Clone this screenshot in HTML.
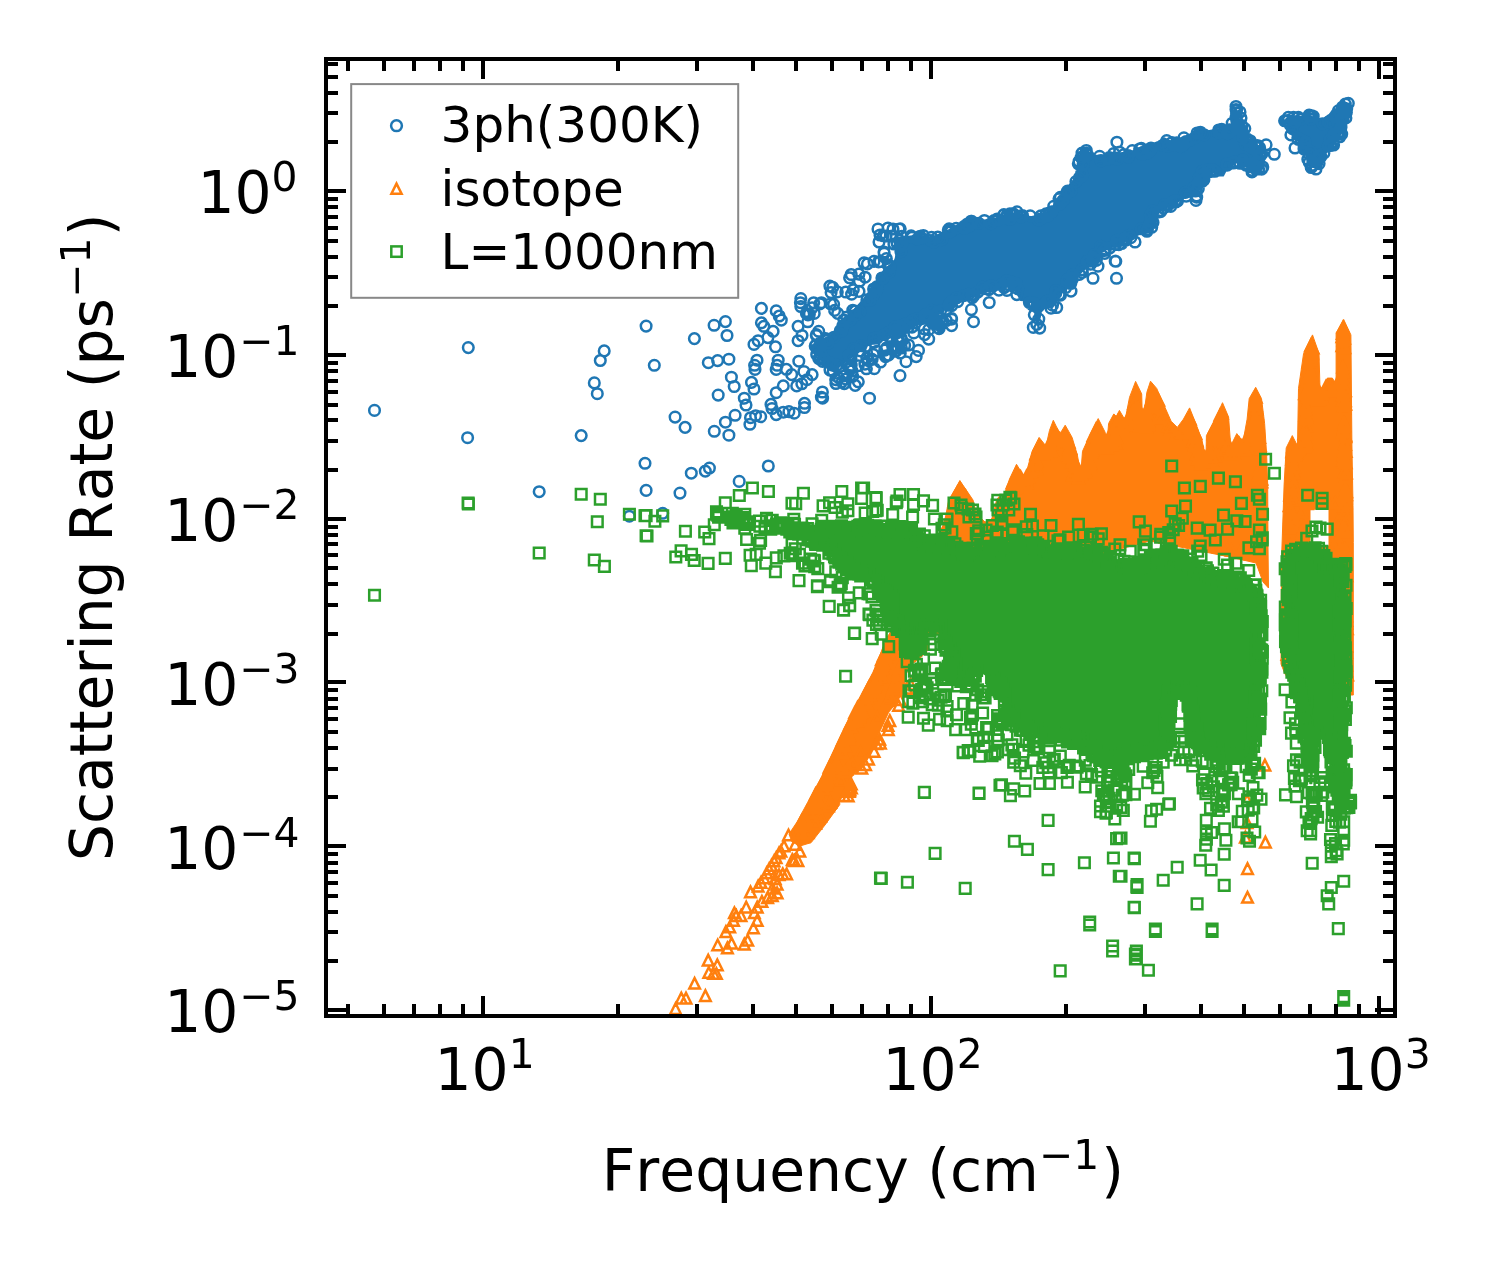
<!DOCTYPE html>
<html><head><meta charset="utf-8"><title>Scattering Rate</title>
<style>
html,body{margin:0;padding:0;background:#fff;}
svg{display:block;will-change:transform;}
text{font-family:"DejaVu Sans","Liberation Sans",sans-serif;fill:#000;font-kerning:none;font-feature-settings:"kern" 0,"liga" 0;}
.t{font-size:58.33px;}
.s{font-size:40.83px;}
.l{font-size:50px;}
</style></head><body>
<svg width="1488" height="1265" viewBox="0 0 1488 1265">
<rect width="1488" height="1265" fill="#fff"/>
<clipPath id="ax"><rect x="326" y="59" width="1069" height="957"/></clipPath>
<g clip-path="url(#ax)">
<path d="M1285.3,120.5L1288.4,127.6L1291.4,134.5L1294.7,137L1295.2,137.4L1295.8,137.9L1296.2,138.5L1299.4,142.7L1299.7,143.3L1300.1,143.8L1300.3,144.5L1300.6,145.1L1300.7,145.7L1301.5,149.6L1304.6,152.7L1305.1,153.3L1305.5,153.8L1305.8,154.4L1306.2,155.1L1306.4,155.8L1306.6,156.5L1306.7,157.2L1307.5,164.7L1309.5,166.2L1312.9,167.1L1313.5,167.2L1314.1,167.5L1314.7,167.8L1317.7,169.4L1319.2,168.9L1322.1,165.3L1324,156.5L1324.2,155.9L1324.5,155.2L1324.8,154.6L1325.1,154L1325.6,153.4L1326,152.9L1326.5,152.4L1332.4,147.5L1336.5,140.1L1336.8,139.6L1341.1,133.3L1343.3,125.9L1343.3,125.8L1346.7,114.3L1348.2,106.3L1347.4,103.6L1346.2,103L1342.4,105.7L1335.5,111L1334.6,111.6L1327.9,115.4L1324.5,118L1323.8,118.5L1323.2,118.8L1322.5,119.1L1321.7,119.4L1321,119.5L1320.2,119.6L1319.4,119.6L1318.7,119.5L1317.9,119.3L1317.2,119.1L1316.5,118.8L1310.5,115.8L1306.9,114L1301.5,116.3L1300.8,116.5L1300.1,116.7L1299.3,116.8L1298.5,116.9L1297.8,116.8L1297,116.7L1291.4,115.5L1286.4,118.4ZM813.1,348.3L819.4,358.6L829.3,369.4L834,371.5L841.5,364.9L842,364.5L866,346.7L866.7,346.2L867.3,345.9L895,333L895.5,332.8L919.3,324L936.3,314.2L936.6,314.1L953.9,305.1L954.2,304.9L971.5,297L972.4,296.7L979.5,294.4L989,290.9L989.7,290.7L990.3,290.5L991,290.4L997,289.9L1004.7,286.6L1005.4,286.4L1006.1,286.2L1006.8,286.1L1007.6,286L1008.3,286L1009,286.1L1009.7,286.3L1010.4,286.5L1011.1,286.8L1011.7,287.1L1012.3,287.5L1012.8,288L1013.4,288.5L1013.8,289.1L1017,293.4L1017.3,293.9L1017.6,294.4L1020.5,300.2L1027.6,301.1L1028.3,301.2L1029,301.4L1029.7,301.7L1030.3,302.1L1031,302.5L1031.5,302.9L1032.1,303.4L1032.6,304L1033,304.6L1033.3,305.3L1033.6,305.9L1033.9,306.6L1034,307.4L1035.8,318.5L1037.3,325L1039.9,318.1L1040.9,312.6L1041,311.9L1041.3,311.2L1041.6,310.6L1041.9,309.9L1042.3,309.3L1042.8,308.8L1043.3,308.3L1043.9,307.8L1044.5,307.4L1045.2,307.1L1045.9,306.8L1046.6,306.6L1047.3,306.5L1048,306.4L1048.7,306.4L1049.5,306.5L1050.2,306.6L1050.9,306.8L1051.6,307.1L1051.8,307.2L1052.9,307L1057.2,297.7L1057.5,297.1L1057.9,296.5L1058.3,296L1058.7,295.5L1066.9,287.4L1073.7,279.2L1074.5,278.4L1083.7,270.2L1083.8,270.1L1095.5,260L1101.8,252.1L1102.4,251.5L1103,251L1103.6,250.5L1104.3,250.1L1105,249.8L1118.2,244.8L1131.8,238L1138.5,234.7L1139.2,234.4L1140,234.1L1140.7,234L1148.8,232.7L1154.9,225.3L1154.9,219.7L1154.9,218.9L1155,218.2L1155.2,217.4L1155.5,216.7L1155.8,216L1156.2,215.4L1156.7,214.8L1157.2,214.2L1157.8,213.7L1163.8,209.1L1164.4,208.7L1165,208.3L1175.1,203.3L1183.3,198.5L1184,198.1L1184.7,197.8L1185.5,197.6L1186.2,197.4L1196.4,196.2L1200.4,185.6L1200.7,184.8L1204.8,176.4L1205.2,175.8L1205.6,175.2L1206.1,174.6L1206.6,174.1L1207.2,173.6L1207.9,173.2L1208.5,172.9L1209.2,172.6L1209.9,172.4L1210.7,172.3L1211.4,172.2L1212.1,172.2L1212.9,172.3L1213.6,172.5L1214.3,172.7L1215,173L1215.6,173.4L1219.4,175.8L1223.2,175.8L1226.6,169.5L1227,168.9L1227.4,168.2L1228,167.7L1228.6,167.2L1229.2,166.7L1234.4,163.5L1235.1,163.1L1235.7,162.8L1236.4,162.6L1237.2,162.4L1237.9,162.3L1238.6,162.3L1239.3,162.4L1240.1,162.5L1240.8,162.7L1241.5,163L1242.1,163.3L1242.7,163.7L1243.3,164.1L1249.2,169.1L1249.6,169.5L1254.9,174.8L1261.7,169.9L1263.4,165.2L1262.6,153.8L1258.4,147L1254.5,141.8L1250.8,140.9L1250.1,140.7L1249.4,140.4L1248.7,140L1248.1,139.6L1247.5,139.1L1246.9,138.6L1246.5,137.9L1246.1,137.3L1245.7,136.6L1245.4,135.9L1245.3,135.1L1245.1,134.4L1243.9,122.1L1242.8,121.8L1242.1,121.6L1241.4,121.3L1240.8,120.9L1240.1,120.4L1239.6,120L1239.1,119.4L1238.6,118.8L1238.2,118.2L1237.9,117.5L1237.6,116.8L1237.5,116.1L1237.3,115.3L1236.8,110.4L1236,109.8L1235,110.5L1233.1,123.5L1233,124.2L1232.8,124.9L1232.5,125.6L1232.1,126.2L1231.7,126.8L1231.3,127.4L1230.8,127.9L1230.2,128.4L1229.6,128.8L1228.9,129.2L1228.3,129.4L1227.6,129.7L1226.9,129.8L1226.1,129.9L1225.4,129.9L1224.7,129.9L1223.9,129.7L1219.5,128.7L1209.3,130.8L1208.6,131L1207.9,131L1207.2,131L1206.5,130.9L1205.8,130.7L1205.1,130.5L1204.5,130.2L1203.8,129.9L1203.2,129.5L1199.8,126.9L1195.4,129.2L1191.3,134.6L1190.7,135.2L1190.2,135.8L1189.6,136.3L1188.9,136.7L1188.2,137L1177.3,141.6L1176.6,141.9L1175.9,142.1L1175.2,142.2L1174.5,142.2L1173.8,142.2L1173.1,142.1L1172.3,142L1171.7,141.7L1171,141.5L1164.1,138L1158.2,141.6L1157.3,142L1143.7,148L1143.1,148.2L1142.5,148.4L1128.9,151.9L1128,152L1117.1,153.5L1109.8,155.3L1109.2,155.4L1108.6,155.5L1107.9,155.6L1096.7,155.6L1096,155.5L1095.3,155.4L1094.6,155.3L1093.9,155L1093.3,154.7L1092.7,154.4L1087.5,151.2L1082.1,151.2L1078.9,157.7L1077.3,173.4L1077.2,174.1L1077,174.8L1076.7,175.5L1076.4,176.2L1076,176.8L1075.6,177.4L1067.4,187.3L1057.1,201.1L1056.9,201.3L1050.2,209.7L1049.7,210.2L1049.2,210.7L1048.7,211.1L1048.1,211.5L1046.4,212.4L1045.9,212.7L1045.3,213L1044.7,213.2L1033.3,216.5L1032.6,216.6L1031.9,216.7L1031.1,216.8L1030.4,216.7L1029.7,216.6L1029,216.4L1016.8,212.7L1006.5,214.1L993.4,219L992.8,219.2L992.2,219.4L991.5,219.4L983.5,220.3L982.7,220.3L981.9,220.3L981.2,220.2L974.3,218.7L958.8,224.2L947.2,230.9L946.4,231.2L933.2,237L932.5,237.3L931.7,237.5L931,237.6L930.2,237.7L929.4,237.6L928.6,237.5L918,235.2L908.6,236.5L908.3,236.5L900.6,237.2L898.3,241.7L895.6,257.6L895.4,258.4L895.2,259.1L894.9,259.7L894.5,260.4L894.1,261L893.6,261.6L893.1,262.1L884.2,269.7L877.6,279.6L877.5,279.7L865.5,297L864.9,297.7L849.3,315L849.3,315.1L830.3,335.5L829.8,336L829.2,336.5L828.6,336.9L827.9,337.2L814.9,343.1Z" fill="#1f77b4" stroke="#1f77b4" stroke-width="1.5" stroke-linejoin="round"/>
<path d="M1331.2,114.5a5.3,5.3 0 1,0 10.6,0a5.3,5.3 0 1,0 -10.6,0M1198.6,179.8a5.3,5.3 0 1,0 10.6,0a5.3,5.3 0 1,0 -10.6,0M1333.3,133.8a5.3,5.3 0 1,0 10.6,0a5.3,5.3 0 1,0 -10.6,0M1031.3,306.9a5.3,5.3 0 1,0 10.6,0a5.3,5.3 0 1,0 -10.6,0M1061.4,281.7a5.3,5.3 0 1,0 10.6,0a5.3,5.3 0 1,0 -10.6,0M820.4,338.6a5.3,5.3 0 1,0 10.6,0a5.3,5.3 0 1,0 -10.6,0M1252,145.6a5.3,5.3 0 1,0 10.6,0a5.3,5.3 0 1,0 -10.6,0M819.1,359.4a5.3,5.3 0 1,0 10.6,0a5.3,5.3 0 1,0 -10.6,0M928.5,242a5.3,5.3 0 1,0 10.6,0a5.3,5.3 0 1,0 -10.6,0M1161.4,140.6a5.3,5.3 0 1,0 10.6,0a5.3,5.3 0 1,0 -10.6,0M1246.7,171.9a5.3,5.3 0 1,0 10.6,0a5.3,5.3 0 1,0 -10.6,0M845.6,356a5.3,5.3 0 1,0 10.6,0a5.3,5.3 0 1,0 -10.6,0M964.1,226.3a5.3,5.3 0 1,0 10.6,0a5.3,5.3 0 1,0 -10.6,0M914.7,238.5a5.3,5.3 0 1,0 10.6,0a5.3,5.3 0 1,0 -10.6,0M1202.5,170.1a5.3,5.3 0 1,0 10.6,0a5.3,5.3 0 1,0 -10.6,0M1000.5,217.8a5.3,5.3 0 1,0 10.6,0a5.3,5.3 0 1,0 -10.6,0M1081.2,153.3a5.3,5.3 0 1,0 10.6,0a5.3,5.3 0 1,0 -10.6,0M1060.4,194.9a5.3,5.3 0 1,0 10.6,0a5.3,5.3 0 1,0 -10.6,0M1073.7,161.4a5.3,5.3 0 1,0 10.6,0a5.3,5.3 0 1,0 -10.6,0M1077.1,272.4a5.3,5.3 0 1,0 10.6,0a5.3,5.3 0 1,0 -10.6,0M1088.4,259.7a5.3,5.3 0 1,0 10.6,0a5.3,5.3 0 1,0 -10.6,0M1077.9,157.4a5.3,5.3 0 1,0 10.6,0a5.3,5.3 0 1,0 -10.6,0M1247.2,164.4a5.3,5.3 0 1,0 10.6,0a5.3,5.3 0 1,0 -10.6,0M1163.7,204.4a5.3,5.3 0 1,0 10.6,0a5.3,5.3 0 1,0 -10.6,0M1305.3,151.4a5.3,5.3 0 1,0 10.6,0a5.3,5.3 0 1,0 -10.6,0M1226.9,123.2a5.3,5.3 0 1,0 10.6,0a5.3,5.3 0 1,0 -10.6,0M998.6,214.6a5.3,5.3 0 1,0 10.6,0a5.3,5.3 0 1,0 -10.6,0M809.9,346a5.3,5.3 0 1,0 10.6,0a5.3,5.3 0 1,0 -10.6,0M1249.7,145.3a5.3,5.3 0 1,0 10.6,0a5.3,5.3 0 1,0 -10.6,0M1228.9,162a5.3,5.3 0 1,0 10.6,0a5.3,5.3 0 1,0 -10.6,0M1252.2,151.4a5.3,5.3 0 1,0 10.6,0a5.3,5.3 0 1,0 -10.6,0M1298.8,146.6a5.3,5.3 0 1,0 10.6,0a5.3,5.3 0 1,0 -10.6,0M1244.9,140.7a5.3,5.3 0 1,0 10.6,0a5.3,5.3 0 1,0 -10.6,0M1247.1,170.5a5.3,5.3 0 1,0 10.6,0a5.3,5.3 0 1,0 -10.6,0M1123.2,157.1a5.3,5.3 0 1,0 10.6,0a5.3,5.3 0 1,0 -10.6,0M1141.9,230.5a5.3,5.3 0 1,0 10.6,0a5.3,5.3 0 1,0 -10.6,0M848.5,348.5a5.3,5.3 0 1,0 10.6,0a5.3,5.3 0 1,0 -10.6,0M958.5,295.7a5.3,5.3 0 1,0 10.6,0a5.3,5.3 0 1,0 -10.6,0M1095.7,160.5a5.3,5.3 0 1,0 10.6,0a5.3,5.3 0 1,0 -10.6,0M1247.1,148a5.3,5.3 0 1,0 10.6,0a5.3,5.3 0 1,0 -10.6,0M905.8,235.8a5.3,5.3 0 1,0 10.6,0a5.3,5.3 0 1,0 -10.6,0M850.1,315.2a5.3,5.3 0 1,0 10.6,0a5.3,5.3 0 1,0 -10.6,0M1285.1,125.2a5.3,5.3 0 1,0 10.6,0a5.3,5.3 0 1,0 -10.6,0M890.1,330.2a5.3,5.3 0 1,0 10.6,0a5.3,5.3 0 1,0 -10.6,0M1146.4,227.3a5.3,5.3 0 1,0 10.6,0a5.3,5.3 0 1,0 -10.6,0M882.9,265.3a5.3,5.3 0 1,0 10.6,0a5.3,5.3 0 1,0 -10.6,0M1024.1,302.5a5.3,5.3 0 1,0 10.6,0a5.3,5.3 0 1,0 -10.6,0M924.3,318.9a5.3,5.3 0 1,0 10.6,0a5.3,5.3 0 1,0 -10.6,0M837.4,326a5.3,5.3 0 1,0 10.6,0a5.3,5.3 0 1,0 -10.6,0M932.2,312.1a5.3,5.3 0 1,0 10.6,0a5.3,5.3 0 1,0 -10.6,0M1008.1,215.3a5.3,5.3 0 1,0 10.6,0a5.3,5.3 0 1,0 -10.6,0M1322.8,122.3a5.3,5.3 0 1,0 10.6,0a5.3,5.3 0 1,0 -10.6,0M1077.3,175.4a5.3,5.3 0 1,0 10.6,0a5.3,5.3 0 1,0 -10.6,0M1216.4,129.3a5.3,5.3 0 1,0 10.6,0a5.3,5.3 0 1,0 -10.6,0M1145,215a5.3,5.3 0 1,0 10.6,0a5.3,5.3 0 1,0 -10.6,0M1009.1,287.3a5.3,5.3 0 1,0 10.6,0a5.3,5.3 0 1,0 -10.6,0M1307.3,165.2a5.3,5.3 0 1,0 10.6,0a5.3,5.3 0 1,0 -10.6,0M943.5,305.3a5.3,5.3 0 1,0 10.6,0a5.3,5.3 0 1,0 -10.6,0M1221.5,164.9a5.3,5.3 0 1,0 10.6,0a5.3,5.3 0 1,0 -10.6,0M824.7,370.1a5.3,5.3 0 1,0 10.6,0a5.3,5.3 0 1,0 -10.6,0M1295.5,119.2a5.3,5.3 0 1,0 10.6,0a5.3,5.3 0 1,0 -10.6,0M1288.2,117.4a5.3,5.3 0 1,0 10.6,0a5.3,5.3 0 1,0 -10.6,0M1197,181.3a5.3,5.3 0 1,0 10.6,0a5.3,5.3 0 1,0 -10.6,0M906.7,327.1a5.3,5.3 0 1,0 10.6,0a5.3,5.3 0 1,0 -10.6,0M1116.4,243.5a5.3,5.3 0 1,0 10.6,0a5.3,5.3 0 1,0 -10.6,0M1015.5,215.7a5.3,5.3 0 1,0 10.6,0a5.3,5.3 0 1,0 -10.6,0M950.9,228.2a5.3,5.3 0 1,0 10.6,0a5.3,5.3 0 1,0 -10.6,0M1135.9,228.8a5.3,5.3 0 1,0 10.6,0a5.3,5.3 0 1,0 -10.6,0M925.7,240.6a5.3,5.3 0 1,0 10.6,0a5.3,5.3 0 1,0 -10.6,0M1043,301a5.3,5.3 0 1,0 10.6,0a5.3,5.3 0 1,0 -10.6,0M996,284.7a5.3,5.3 0 1,0 10.6,0a5.3,5.3 0 1,0 -10.6,0M1195.2,181.2a5.3,5.3 0 1,0 10.6,0a5.3,5.3 0 1,0 -10.6,0M1214.7,130.7a5.3,5.3 0 1,0 10.6,0a5.3,5.3 0 1,0 -10.6,0M860.1,346.6a5.3,5.3 0 1,0 10.6,0a5.3,5.3 0 1,0 -10.6,0M1048.4,206.3a5.3,5.3 0 1,0 10.6,0a5.3,5.3 0 1,0 -10.6,0M1077.9,163.4a5.3,5.3 0 1,0 10.6,0a5.3,5.3 0 1,0 -10.6,0M1144.5,151a5.3,5.3 0 1,0 10.6,0a5.3,5.3 0 1,0 -10.6,0M1144.1,224.5a5.3,5.3 0 1,0 10.6,0a5.3,5.3 0 1,0 -10.6,0M1176.3,146.2a5.3,5.3 0 1,0 10.6,0a5.3,5.3 0 1,0 -10.6,0M988.6,220.6a5.3,5.3 0 1,0 10.6,0a5.3,5.3 0 1,0 -10.6,0M965.6,221.9a5.3,5.3 0 1,0 10.6,0a5.3,5.3 0 1,0 -10.6,0M1213.3,132.9a5.3,5.3 0 1,0 10.6,0a5.3,5.3 0 1,0 -10.6,0M904.6,323.4a5.3,5.3 0 1,0 10.6,0a5.3,5.3 0 1,0 -10.6,0M1339.7,111.1a5.3,5.3 0 1,0 10.6,0a5.3,5.3 0 1,0 -10.6,0M1302.5,159.3a5.3,5.3 0 1,0 10.6,0a5.3,5.3 0 1,0 -10.6,0M1155.3,211.6a5.3,5.3 0 1,0 10.6,0a5.3,5.3 0 1,0 -10.6,0M1337.2,117a5.3,5.3 0 1,0 10.6,0a5.3,5.3 0 1,0 -10.6,0M1204.8,171.7a5.3,5.3 0 1,0 10.6,0a5.3,5.3 0 1,0 -10.6,0M1062.3,279.3a5.3,5.3 0 1,0 10.6,0a5.3,5.3 0 1,0 -10.6,0M864.6,300.5a5.3,5.3 0 1,0 10.6,0a5.3,5.3 0 1,0 -10.6,0M811.8,348.7a5.3,5.3 0 1,0 10.6,0a5.3,5.3 0 1,0 -10.6,0M1333,110.8a5.3,5.3 0 1,0 10.6,0a5.3,5.3 0 1,0 -10.6,0M1077.9,164.6a5.3,5.3 0 1,0 10.6,0a5.3,5.3 0 1,0 -10.6,0M1098.9,250.5a5.3,5.3 0 1,0 10.6,0a5.3,5.3 0 1,0 -10.6,0M1343,103.3a5.3,5.3 0 1,0 10.6,0a5.3,5.3 0 1,0 -10.6,0M1243.7,166.5a5.3,5.3 0 1,0 10.6,0a5.3,5.3 0 1,0 -10.6,0M899.3,324.4a5.3,5.3 0 1,0 10.6,0a5.3,5.3 0 1,0 -10.6,0M1172.1,201.2a5.3,5.3 0 1,0 10.6,0a5.3,5.3 0 1,0 -10.6,0M1303.5,153.7a5.3,5.3 0 1,0 10.6,0a5.3,5.3 0 1,0 -10.6,0M1006.7,282.1a5.3,5.3 0 1,0 10.6,0a5.3,5.3 0 1,0 -10.6,0M963.3,294.3a5.3,5.3 0 1,0 10.6,0a5.3,5.3 0 1,0 -10.6,0M1127,150.6a5.3,5.3 0 1,0 10.6,0a5.3,5.3 0 1,0 -10.6,0M1175.2,143.8a5.3,5.3 0 1,0 10.6,0a5.3,5.3 0 1,0 -10.6,0M985.7,223.6a5.3,5.3 0 1,0 10.6,0a5.3,5.3 0 1,0 -10.6,0M1163,146.2a5.3,5.3 0 1,0 10.6,0a5.3,5.3 0 1,0 -10.6,0M894.8,246.9a5.3,5.3 0 1,0 10.6,0a5.3,5.3 0 1,0 -10.6,0M814.8,357.3a5.3,5.3 0 1,0 10.6,0a5.3,5.3 0 1,0 -10.6,0M1285.1,124.7a5.3,5.3 0 1,0 10.6,0a5.3,5.3 0 1,0 -10.6,0M1334.8,113a5.3,5.3 0 1,0 10.6,0a5.3,5.3 0 1,0 -10.6,0M1171.4,142.8a5.3,5.3 0 1,0 10.6,0a5.3,5.3 0 1,0 -10.6,0M871.5,286.8a5.3,5.3 0 1,0 10.6,0a5.3,5.3 0 1,0 -10.6,0M1252.9,145.8a5.3,5.3 0 1,0 10.6,0a5.3,5.3 0 1,0 -10.6,0M1001.1,280.9a5.3,5.3 0 1,0 10.6,0a5.3,5.3 0 1,0 -10.6,0M837.3,327.9a5.3,5.3 0 1,0 10.6,0a5.3,5.3 0 1,0 -10.6,0M1047.2,305.2a5.3,5.3 0 1,0 10.6,0a5.3,5.3 0 1,0 -10.6,0M1313.7,155.3a5.3,5.3 0 1,0 10.6,0a5.3,5.3 0 1,0 -10.6,0M979.1,220.5a5.3,5.3 0 1,0 10.6,0a5.3,5.3 0 1,0 -10.6,0M923.7,316.7a5.3,5.3 0 1,0 10.6,0a5.3,5.3 0 1,0 -10.6,0M1081.8,261.3a5.3,5.3 0 1,0 10.6,0a5.3,5.3 0 1,0 -10.6,0M1336.5,121.2a5.3,5.3 0 1,0 10.6,0a5.3,5.3 0 1,0 -10.6,0M1067,275a5.3,5.3 0 1,0 10.6,0a5.3,5.3 0 1,0 -10.6,0M1213.4,130a5.3,5.3 0 1,0 10.6,0a5.3,5.3 0 1,0 -10.6,0M907.1,320.4a5.3,5.3 0 1,0 10.6,0a5.3,5.3 0 1,0 -10.6,0M894.2,240.5a5.3,5.3 0 1,0 10.6,0a5.3,5.3 0 1,0 -10.6,0M1076.6,269.7a5.3,5.3 0 1,0 10.6,0a5.3,5.3 0 1,0 -10.6,0M1325.5,145.5a5.3,5.3 0 1,0 10.6,0a5.3,5.3 0 1,0 -10.6,0M1251.9,163.1a5.3,5.3 0 1,0 10.6,0a5.3,5.3 0 1,0 -10.6,0M1053.8,294.5a5.3,5.3 0 1,0 10.6,0a5.3,5.3 0 1,0 -10.6,0M932.5,237a5.3,5.3 0 1,0 10.6,0a5.3,5.3 0 1,0 -10.6,0M813.5,358.7a5.3,5.3 0 1,0 10.6,0a5.3,5.3 0 1,0 -10.6,0M1254.7,156.5a5.3,5.3 0 1,0 10.6,0a5.3,5.3 0 1,0 -10.6,0M893.8,326.1a5.3,5.3 0 1,0 10.6,0a5.3,5.3 0 1,0 -10.6,0M1087.2,259.3a5.3,5.3 0 1,0 10.6,0a5.3,5.3 0 1,0 -10.6,0M1283,117.3a5.3,5.3 0 1,0 10.6,0a5.3,5.3 0 1,0 -10.6,0M1142.1,229.6a5.3,5.3 0 1,0 10.6,0a5.3,5.3 0 1,0 -10.6,0M1024.9,215.8a5.3,5.3 0 1,0 10.6,0a5.3,5.3 0 1,0 -10.6,0M1169.8,145.4a5.3,5.3 0 1,0 10.6,0a5.3,5.3 0 1,0 -10.6,0M1123,155.6a5.3,5.3 0 1,0 10.6,0a5.3,5.3 0 1,0 -10.6,0M1196.5,175.6a5.3,5.3 0 1,0 10.6,0a5.3,5.3 0 1,0 -10.6,0M1337.1,107.1a5.3,5.3 0 1,0 10.6,0a5.3,5.3 0 1,0 -10.6,0M1327.8,142.1a5.3,5.3 0 1,0 10.6,0a5.3,5.3 0 1,0 -10.6,0M1223.3,130.6a5.3,5.3 0 1,0 10.6,0a5.3,5.3 0 1,0 -10.6,0M894.8,245.9a5.3,5.3 0 1,0 10.6,0a5.3,5.3 0 1,0 -10.6,0M1254.3,147.6a5.3,5.3 0 1,0 10.6,0a5.3,5.3 0 1,0 -10.6,0M1328.8,133.5a5.3,5.3 0 1,0 10.6,0a5.3,5.3 0 1,0 -10.6,0M946.1,302.4a5.3,5.3 0 1,0 10.6,0a5.3,5.3 0 1,0 -10.6,0M943.8,228.9a5.3,5.3 0 1,0 10.6,0a5.3,5.3 0 1,0 -10.6,0M1031.5,324.4a5.3,5.3 0 1,0 10.6,0a5.3,5.3 0 1,0 -10.6,0M1159.1,204.9a5.3,5.3 0 1,0 10.6,0a5.3,5.3 0 1,0 -10.6,0M1234.6,163.3a5.3,5.3 0 1,0 10.6,0a5.3,5.3 0 1,0 -10.6,0M1237.4,161.2a5.3,5.3 0 1,0 10.6,0a5.3,5.3 0 1,0 -10.6,0M1303.7,116.1a5.3,5.3 0 1,0 10.6,0a5.3,5.3 0 1,0 -10.6,0M1062.9,191.9a5.3,5.3 0 1,0 10.6,0a5.3,5.3 0 1,0 -10.6,0M838.6,320a5.3,5.3 0 1,0 10.6,0a5.3,5.3 0 1,0 -10.6,0M1012.6,288.9a5.3,5.3 0 1,0 10.6,0a5.3,5.3 0 1,0 -10.6,0M1224.2,129.7a5.3,5.3 0 1,0 10.6,0a5.3,5.3 0 1,0 -10.6,0M1196.9,171.3a5.3,5.3 0 1,0 10.6,0a5.3,5.3 0 1,0 -10.6,0M906.6,237.3a5.3,5.3 0 1,0 10.6,0a5.3,5.3 0 1,0 -10.6,0M1103.9,157.6a5.3,5.3 0 1,0 10.6,0a5.3,5.3 0 1,0 -10.6,0M903,327.2a5.3,5.3 0 1,0 10.6,0a5.3,5.3 0 1,0 -10.6,0M1002.4,281.1a5.3,5.3 0 1,0 10.6,0a5.3,5.3 0 1,0 -10.6,0M1157.7,145.5a5.3,5.3 0 1,0 10.6,0a5.3,5.3 0 1,0 -10.6,0M1249.4,167.2a5.3,5.3 0 1,0 10.6,0a5.3,5.3 0 1,0 -10.6,0M1237,132.4a5.3,5.3 0 1,0 10.6,0a5.3,5.3 0 1,0 -10.6,0M993.6,290.2a5.3,5.3 0 1,0 10.6,0a5.3,5.3 0 1,0 -10.6,0M1191.8,133a5.3,5.3 0 1,0 10.6,0a5.3,5.3 0 1,0 -10.6,0M1011.2,283.7a5.3,5.3 0 1,0 10.6,0a5.3,5.3 0 1,0 -10.6,0M932.3,314.3a5.3,5.3 0 1,0 10.6,0a5.3,5.3 0 1,0 -10.6,0M1238.9,163.9a5.3,5.3 0 1,0 10.6,0a5.3,5.3 0 1,0 -10.6,0M1042.7,215.9a5.3,5.3 0 1,0 10.6,0a5.3,5.3 0 1,0 -10.6,0M985.6,285.9a5.3,5.3 0 1,0 10.6,0a5.3,5.3 0 1,0 -10.6,0M1142.2,152.9a5.3,5.3 0 1,0 10.6,0a5.3,5.3 0 1,0 -10.6,0M1236.3,130.2a5.3,5.3 0 1,0 10.6,0a5.3,5.3 0 1,0 -10.6,0M946.4,305.7a5.3,5.3 0 1,0 10.6,0a5.3,5.3 0 1,0 -10.6,0M1004.9,219a5.3,5.3 0 1,0 10.6,0a5.3,5.3 0 1,0 -10.6,0M1046.5,211.8a5.3,5.3 0 1,0 10.6,0a5.3,5.3 0 1,0 -10.6,0M1136,148.3a5.3,5.3 0 1,0 10.6,0a5.3,5.3 0 1,0 -10.6,0M1197.9,174.3a5.3,5.3 0 1,0 10.6,0a5.3,5.3 0 1,0 -10.6,0M815.2,342.9a5.3,5.3 0 1,0 10.6,0a5.3,5.3 0 1,0 -10.6,0M1253.3,168.9a5.3,5.3 0 1,0 10.6,0a5.3,5.3 0 1,0 -10.6,0M1318.6,153.1a5.3,5.3 0 1,0 10.6,0a5.3,5.3 0 1,0 -10.6,0M815.7,353.7a5.3,5.3 0 1,0 10.6,0a5.3,5.3 0 1,0 -10.6,0M1095.7,160.8a5.3,5.3 0 1,0 10.6,0a5.3,5.3 0 1,0 -10.6,0M1178.1,143.4a5.3,5.3 0 1,0 10.6,0a5.3,5.3 0 1,0 -10.6,0M1195,132.7a5.3,5.3 0 1,0 10.6,0a5.3,5.3 0 1,0 -10.6,0M845.7,358.5a5.3,5.3 0 1,0 10.6,0a5.3,5.3 0 1,0 -10.6,0M843.3,355.4a5.3,5.3 0 1,0 10.6,0a5.3,5.3 0 1,0 -10.6,0M968.7,295.7a5.3,5.3 0 1,0 10.6,0a5.3,5.3 0 1,0 -10.6,0M1194.1,177.1a5.3,5.3 0 1,0 10.6,0a5.3,5.3 0 1,0 -10.6,0M1073,163.8a5.3,5.3 0 1,0 10.6,0a5.3,5.3 0 1,0 -10.6,0M1007.6,213.5a5.3,5.3 0 1,0 10.6,0a5.3,5.3 0 1,0 -10.6,0M1137.7,154.4a5.3,5.3 0 1,0 10.6,0a5.3,5.3 0 1,0 -10.6,0M1055.2,295.1a5.3,5.3 0 1,0 10.6,0a5.3,5.3 0 1,0 -10.6,0M1156,210.8a5.3,5.3 0 1,0 10.6,0a5.3,5.3 0 1,0 -10.6,0M1112.7,241.4a5.3,5.3 0 1,0 10.6,0a5.3,5.3 0 1,0 -10.6,0M1257.5,167a5.3,5.3 0 1,0 10.6,0a5.3,5.3 0 1,0 -10.6,0M1111.8,159.3a5.3,5.3 0 1,0 10.6,0a5.3,5.3 0 1,0 -10.6,0M1119.4,238.3a5.3,5.3 0 1,0 10.6,0a5.3,5.3 0 1,0 -10.6,0M1146.1,148.8a5.3,5.3 0 1,0 10.6,0a5.3,5.3 0 1,0 -10.6,0M861.6,299.9a5.3,5.3 0 1,0 10.6,0a5.3,5.3 0 1,0 -10.6,0M1339.7,109.7a5.3,5.3 0 1,0 10.6,0a5.3,5.3 0 1,0 -10.6,0M1141.6,231.3a5.3,5.3 0 1,0 10.6,0a5.3,5.3 0 1,0 -10.6,0M1231.3,110.2a5.3,5.3 0 1,0 10.6,0a5.3,5.3 0 1,0 -10.6,0M894.4,329.5a5.3,5.3 0 1,0 10.6,0a5.3,5.3 0 1,0 -10.6,0M1305.2,119.2a5.3,5.3 0 1,0 10.6,0a5.3,5.3 0 1,0 -10.6,0M1242.1,163.9a5.3,5.3 0 1,0 10.6,0a5.3,5.3 0 1,0 -10.6,0M879.4,334.6a5.3,5.3 0 1,0 10.6,0a5.3,5.3 0 1,0 -10.6,0M1244.7,145.1a5.3,5.3 0 1,0 10.6,0a5.3,5.3 0 1,0 -10.6,0M1324.8,139.5a5.3,5.3 0 1,0 10.6,0a5.3,5.3 0 1,0 -10.6,0M1339,108.6a5.3,5.3 0 1,0 10.6,0a5.3,5.3 0 1,0 -10.6,0M912.3,318.5a5.3,5.3 0 1,0 10.6,0a5.3,5.3 0 1,0 -10.6,0M1008.3,214.1a5.3,5.3 0 1,0 10.6,0a5.3,5.3 0 1,0 -10.6,0M1109.2,157.9a5.3,5.3 0 1,0 10.6,0a5.3,5.3 0 1,0 -10.6,0M1095.5,246.2a5.3,5.3 0 1,0 10.6,0a5.3,5.3 0 1,0 -10.6,0M1191.1,196a5.3,5.3 0 1,0 10.6,0a5.3,5.3 0 1,0 -10.6,0M1158.1,208.2a5.3,5.3 0 1,0 10.6,0a5.3,5.3 0 1,0 -10.6,0M1108.5,153.5a5.3,5.3 0 1,0 10.6,0a5.3,5.3 0 1,0 -10.6,0M1192.9,183.5a5.3,5.3 0 1,0 10.6,0a5.3,5.3 0 1,0 -10.6,0M967.1,297.7a5.3,5.3 0 1,0 10.6,0a5.3,5.3 0 1,0 -10.6,0M1044.8,300.3a5.3,5.3 0 1,0 10.6,0a5.3,5.3 0 1,0 -10.6,0M1062.2,191.1a5.3,5.3 0 1,0 10.6,0a5.3,5.3 0 1,0 -10.6,0M1233.7,127.9a5.3,5.3 0 1,0 10.6,0a5.3,5.3 0 1,0 -10.6,0M977.2,287.3a5.3,5.3 0 1,0 10.6,0a5.3,5.3 0 1,0 -10.6,0M1027.3,305.2a5.3,5.3 0 1,0 10.6,0a5.3,5.3 0 1,0 -10.6,0M1237.6,137.4a5.3,5.3 0 1,0 10.6,0a5.3,5.3 0 1,0 -10.6,0M1332.1,133.9a5.3,5.3 0 1,0 10.6,0a5.3,5.3 0 1,0 -10.6,0M1035.5,215.9a5.3,5.3 0 1,0 10.6,0a5.3,5.3 0 1,0 -10.6,0M960.3,227.8a5.3,5.3 0 1,0 10.6,0a5.3,5.3 0 1,0 -10.6,0M843.6,320.9a5.3,5.3 0 1,0 10.6,0a5.3,5.3 0 1,0 -10.6,0M1199,134.8a5.3,5.3 0 1,0 10.6,0a5.3,5.3 0 1,0 -10.6,0M987.3,286.4a5.3,5.3 0 1,0 10.6,0a5.3,5.3 0 1,0 -10.6,0M1081,150.5a5.3,5.3 0 1,0 10.6,0a5.3,5.3 0 1,0 -10.6,0M883.6,264.9a5.3,5.3 0 1,0 10.6,0a5.3,5.3 0 1,0 -10.6,0M1236.6,125.6a5.3,5.3 0 1,0 10.6,0a5.3,5.3 0 1,0 -10.6,0M889.3,327.1a5.3,5.3 0 1,0 10.6,0a5.3,5.3 0 1,0 -10.6,0M1104.3,248a5.3,5.3 0 1,0 10.6,0a5.3,5.3 0 1,0 -10.6,0M855,350.9a5.3,5.3 0 1,0 10.6,0a5.3,5.3 0 1,0 -10.6,0M1306.7,115.8a5.3,5.3 0 1,0 10.6,0a5.3,5.3 0 1,0 -10.6,0M810.6,344.8a5.3,5.3 0 1,0 10.6,0a5.3,5.3 0 1,0 -10.6,0M1137.8,152.2a5.3,5.3 0 1,0 10.6,0a5.3,5.3 0 1,0 -10.6,0M952.4,301.6a5.3,5.3 0 1,0 10.6,0a5.3,5.3 0 1,0 -10.6,0M1335.7,132a5.3,5.3 0 1,0 10.6,0a5.3,5.3 0 1,0 -10.6,0M1180.9,196.2a5.3,5.3 0 1,0 10.6,0a5.3,5.3 0 1,0 -10.6,0M1189.9,137.6a5.3,5.3 0 1,0 10.6,0a5.3,5.3 0 1,0 -10.6,0M1166.6,202.1a5.3,5.3 0 1,0 10.6,0a5.3,5.3 0 1,0 -10.6,0M1060.5,287.5a5.3,5.3 0 1,0 10.6,0a5.3,5.3 0 1,0 -10.6,0M1335.4,119.5a5.3,5.3 0 1,0 10.6,0a5.3,5.3 0 1,0 -10.6,0M1337.8,118.2a5.3,5.3 0 1,0 10.6,0a5.3,5.3 0 1,0 -10.6,0M1028.8,303.4a5.3,5.3 0 1,0 10.6,0a5.3,5.3 0 1,0 -10.6,0M1285.6,134.9a5.3,5.3 0 1,0 10.6,0a5.3,5.3 0 1,0 -10.6,0M847.5,310.2a5.3,5.3 0 1,0 10.6,0a5.3,5.3 0 1,0 -10.6,0M849.9,311.1a5.3,5.3 0 1,0 10.6,0a5.3,5.3 0 1,0 -10.6,0M930.9,313.5a5.3,5.3 0 1,0 10.6,0a5.3,5.3 0 1,0 -10.6,0M1333.6,133.1a5.3,5.3 0 1,0 10.6,0a5.3,5.3 0 1,0 -10.6,0M919.7,317.4a5.3,5.3 0 1,0 10.6,0a5.3,5.3 0 1,0 -10.6,0M1335.8,120.5a5.3,5.3 0 1,0 10.6,0a5.3,5.3 0 1,0 -10.6,0M944.6,303.3a5.3,5.3 0 1,0 10.6,0a5.3,5.3 0 1,0 -10.6,0M1292.9,139.4a5.3,5.3 0 1,0 10.6,0a5.3,5.3 0 1,0 -10.6,0M1303.9,162.3a5.3,5.3 0 1,0 10.6,0a5.3,5.3 0 1,0 -10.6,0M1004.7,219.5a5.3,5.3 0 1,0 10.6,0a5.3,5.3 0 1,0 -10.6,0M1310.7,169a5.3,5.3 0 1,0 10.6,0a5.3,5.3 0 1,0 -10.6,0M957.8,227.6a5.3,5.3 0 1,0 10.6,0a5.3,5.3 0 1,0 -10.6,0M884,336.3a5.3,5.3 0 1,0 10.6,0a5.3,5.3 0 1,0 -10.6,0M1065.8,281.9a5.3,5.3 0 1,0 10.6,0a5.3,5.3 0 1,0 -10.6,0M1112,240.3a5.3,5.3 0 1,0 10.6,0a5.3,5.3 0 1,0 -10.6,0M827.9,371.5a5.3,5.3 0 1,0 10.6,0a5.3,5.3 0 1,0 -10.6,0M1279.3,120.8a5.3,5.3 0 1,0 10.6,0a5.3,5.3 0 1,0 -10.6,0M998.9,287.7a5.3,5.3 0 1,0 10.6,0a5.3,5.3 0 1,0 -10.6,0M835,330.7a5.3,5.3 0 1,0 10.6,0a5.3,5.3 0 1,0 -10.6,0M1015.6,217a5.3,5.3 0 1,0 10.6,0a5.3,5.3 0 1,0 -10.6,0M1340.6,117.9a5.3,5.3 0 1,0 10.6,0a5.3,5.3 0 1,0 -10.6,0M1145.4,221a5.3,5.3 0 1,0 10.6,0a5.3,5.3 0 1,0 -10.6,0M1033.2,306.4a5.3,5.3 0 1,0 10.6,0a5.3,5.3 0 1,0 -10.6,0M1040.5,215.1a5.3,5.3 0 1,0 10.6,0a5.3,5.3 0 1,0 -10.6,0M1170.2,200.5a5.3,5.3 0 1,0 10.6,0a5.3,5.3 0 1,0 -10.6,0M872.2,337.6a5.3,5.3 0 1,0 10.6,0a5.3,5.3 0 1,0 -10.6,0M1017.2,215.5a5.3,5.3 0 1,0 10.6,0a5.3,5.3 0 1,0 -10.6,0M888.9,332.4a5.3,5.3 0 1,0 10.6,0a5.3,5.3 0 1,0 -10.6,0M958.7,228.4a5.3,5.3 0 1,0 10.6,0a5.3,5.3 0 1,0 -10.6,0M897.2,328.9a5.3,5.3 0 1,0 10.6,0a5.3,5.3 0 1,0 -10.6,0M1110.2,244.5a5.3,5.3 0 1,0 10.6,0a5.3,5.3 0 1,0 -10.6,0M1190.7,190.9a5.3,5.3 0 1,0 10.6,0a5.3,5.3 0 1,0 -10.6,0M811.4,354.5a5.3,5.3 0 1,0 10.6,0a5.3,5.3 0 1,0 -10.6,0M1280.5,120.9a5.3,5.3 0 1,0 10.6,0a5.3,5.3 0 1,0 -10.6,0M1256.3,169.1a5.3,5.3 0 1,0 10.6,0a5.3,5.3 0 1,0 -10.6,0M1188.5,188a5.3,5.3 0 1,0 10.6,0a5.3,5.3 0 1,0 -10.6,0M943,229.9a5.3,5.3 0 1,0 10.6,0a5.3,5.3 0 1,0 -10.6,0M1172.9,143.7a5.3,5.3 0 1,0 10.6,0a5.3,5.3 0 1,0 -10.6,0M1123.9,235.2a5.3,5.3 0 1,0 10.6,0a5.3,5.3 0 1,0 -10.6,0M1070.6,181.6a5.3,5.3 0 1,0 10.6,0a5.3,5.3 0 1,0 -10.6,0M877.5,278.7a5.3,5.3 0 1,0 10.6,0a5.3,5.3 0 1,0 -10.6,0M1180.8,141.5a5.3,5.3 0 1,0 10.6,0a5.3,5.3 0 1,0 -10.6,0M1328.3,145a5.3,5.3 0 1,0 10.6,0a5.3,5.3 0 1,0 -10.6,0M1239.5,128.6a5.3,5.3 0 1,0 10.6,0a5.3,5.3 0 1,0 -10.6,0M854.7,311.7a5.3,5.3 0 1,0 10.6,0a5.3,5.3 0 1,0 -10.6,0M1224.5,132.2a5.3,5.3 0 1,0 10.6,0a5.3,5.3 0 1,0 -10.6,0M1011.5,294.6a5.3,5.3 0 1,0 10.6,0a5.3,5.3 0 1,0 -10.6,0M1089.3,254.5a5.3,5.3 0 1,0 10.6,0a5.3,5.3 0 1,0 -10.6,0M966.8,294.5a5.3,5.3 0 1,0 10.6,0a5.3,5.3 0 1,0 -10.6,0M1193,188.8a5.3,5.3 0 1,0 10.6,0a5.3,5.3 0 1,0 -10.6,0M1282.5,120.6a5.3,5.3 0 1,0 10.6,0a5.3,5.3 0 1,0 -10.6,0M1334.6,136.8a5.3,5.3 0 1,0 10.6,0a5.3,5.3 0 1,0 -10.6,0M1033.5,319.1a5.3,5.3 0 1,0 10.6,0a5.3,5.3 0 1,0 -10.6,0M1008.5,284.3a5.3,5.3 0 1,0 10.6,0a5.3,5.3 0 1,0 -10.6,0M1305.5,119.2a5.3,5.3 0 1,0 10.6,0a5.3,5.3 0 1,0 -10.6,0M1170.9,201.9a5.3,5.3 0 1,0 10.6,0a5.3,5.3 0 1,0 -10.6,0M1001.6,215.5a5.3,5.3 0 1,0 10.6,0a5.3,5.3 0 1,0 -10.6,0M1166.6,142.6a5.3,5.3 0 1,0 10.6,0a5.3,5.3 0 1,0 -10.6,0M1177.7,145.3a5.3,5.3 0 1,0 10.6,0a5.3,5.3 0 1,0 -10.6,0M1120.5,240.2a5.3,5.3 0 1,0 10.6,0a5.3,5.3 0 1,0 -10.6,0M991.8,219.1a5.3,5.3 0 1,0 10.6,0a5.3,5.3 0 1,0 -10.6,0M1222.1,133.1a5.3,5.3 0 1,0 10.6,0a5.3,5.3 0 1,0 -10.6,0M1222,133.7a5.3,5.3 0 1,0 10.6,0a5.3,5.3 0 1,0 -10.6,0M1289.8,122.2a5.3,5.3 0 1,0 10.6,0a5.3,5.3 0 1,0 -10.6,0M1175.5,146.6a5.3,5.3 0 1,0 10.6,0a5.3,5.3 0 1,0 -10.6,0M1298.7,149.1a5.3,5.3 0 1,0 10.6,0a5.3,5.3 0 1,0 -10.6,0M1341.4,108.7a5.3,5.3 0 1,0 10.6,0a5.3,5.3 0 1,0 -10.6,0M892.6,332a5.3,5.3 0 1,0 10.6,0a5.3,5.3 0 1,0 -10.6,0M1009.5,284a5.3,5.3 0 1,0 10.6,0a5.3,5.3 0 1,0 -10.6,0M1011.7,211.8a5.3,5.3 0 1,0 10.6,0a5.3,5.3 0 1,0 -10.6,0M1209.6,171.3a5.3,5.3 0 1,0 10.6,0a5.3,5.3 0 1,0 -10.6,0M980.7,288.7a5.3,5.3 0 1,0 10.6,0a5.3,5.3 0 1,0 -10.6,0M983.6,289.6a5.3,5.3 0 1,0 10.6,0a5.3,5.3 0 1,0 -10.6,0M951.3,297.8a5.3,5.3 0 1,0 10.6,0a5.3,5.3 0 1,0 -10.6,0M1057.3,200.8a5.3,5.3 0 1,0 10.6,0a5.3,5.3 0 1,0 -10.6,0M1335.7,127.2a5.3,5.3 0 1,0 10.6,0a5.3,5.3 0 1,0 -10.6,0M1195.1,132.2a5.3,5.3 0 1,0 10.6,0a5.3,5.3 0 1,0 -10.6,0M966.2,223.4a5.3,5.3 0 1,0 10.6,0a5.3,5.3 0 1,0 -10.6,0M828.6,337.2a5.3,5.3 0 1,0 10.6,0a5.3,5.3 0 1,0 -10.6,0M991.3,219.4a5.3,5.3 0 1,0 10.6,0a5.3,5.3 0 1,0 -10.6,0M1305.9,167.5a5.3,5.3 0 1,0 10.6,0a5.3,5.3 0 1,0 -10.6,0M1147.5,211a5.3,5.3 0 1,0 10.6,0a5.3,5.3 0 1,0 -10.6,0M885,266.9a5.3,5.3 0 1,0 10.6,0a5.3,5.3 0 1,0 -10.6,0M945.7,231.4a5.3,5.3 0 1,0 10.6,0a5.3,5.3 0 1,0 -10.6,0M876.6,278a5.3,5.3 0 1,0 10.6,0a5.3,5.3 0 1,0 -10.6,0M1033.3,220.2a5.3,5.3 0 1,0 10.6,0a5.3,5.3 0 1,0 -10.6,0M1102.2,159.2a5.3,5.3 0 1,0 10.6,0a5.3,5.3 0 1,0 -10.6,0M868.7,338.3a5.3,5.3 0 1,0 10.6,0a5.3,5.3 0 1,0 -10.6,0M1221.9,165.1a5.3,5.3 0 1,0 10.6,0a5.3,5.3 0 1,0 -10.6,0M1293.1,117.3a5.3,5.3 0 1,0 10.6,0a5.3,5.3 0 1,0 -10.6,0M1029,314.8a5.3,5.3 0 1,0 10.6,0a5.3,5.3 0 1,0 -10.6,0M1085.3,264.2a5.3,5.3 0 1,0 10.6,0a5.3,5.3 0 1,0 -10.6,0M1191.4,197.1a5.3,5.3 0 1,0 10.6,0a5.3,5.3 0 1,0 -10.6,0M1006.5,214.6a5.3,5.3 0 1,0 10.6,0a5.3,5.3 0 1,0 -10.6,0M1336.4,134.1a5.3,5.3 0 1,0 10.6,0a5.3,5.3 0 1,0 -10.6,0M1287.1,128.7a5.3,5.3 0 1,0 10.6,0a5.3,5.3 0 1,0 -10.6,0M1091,260.4a5.3,5.3 0 1,0 10.6,0a5.3,5.3 0 1,0 -10.6,0M1035.8,218.9a5.3,5.3 0 1,0 10.6,0a5.3,5.3 0 1,0 -10.6,0M944.2,232a5.3,5.3 0 1,0 10.6,0a5.3,5.3 0 1,0 -10.6,0M884.1,272.2a5.3,5.3 0 1,0 10.6,0a5.3,5.3 0 1,0 -10.6,0M1113.5,244.7a5.3,5.3 0 1,0 10.6,0a5.3,5.3 0 1,0 -10.6,0M1237.5,160a5.3,5.3 0 1,0 10.6,0a5.3,5.3 0 1,0 -10.6,0M1240.2,139.4a5.3,5.3 0 1,0 10.6,0a5.3,5.3 0 1,0 -10.6,0M896.5,243.9a5.3,5.3 0 1,0 10.6,0a5.3,5.3 0 1,0 -10.6,0M1228,163a5.3,5.3 0 1,0 10.6,0a5.3,5.3 0 1,0 -10.6,0M1171.1,144.2a5.3,5.3 0 1,0 10.6,0a5.3,5.3 0 1,0 -10.6,0M962.1,224a5.3,5.3 0 1,0 10.6,0a5.3,5.3 0 1,0 -10.6,0M1329.5,116.9a5.3,5.3 0 1,0 10.6,0a5.3,5.3 0 1,0 -10.6,0M973.3,223.2a5.3,5.3 0 1,0 10.6,0a5.3,5.3 0 1,0 -10.6,0M883,332.4a5.3,5.3 0 1,0 10.6,0a5.3,5.3 0 1,0 -10.6,0M1340,104.1a5.3,5.3 0 1,0 10.6,0a5.3,5.3 0 1,0 -10.6,0M1292.5,138a5.3,5.3 0 1,0 10.6,0a5.3,5.3 0 1,0 -10.6,0M1168.9,145.5a5.3,5.3 0 1,0 10.6,0a5.3,5.3 0 1,0 -10.6,0M1184.8,140a5.3,5.3 0 1,0 10.6,0a5.3,5.3 0 1,0 -10.6,0M1066.9,279.3a5.3,5.3 0 1,0 10.6,0a5.3,5.3 0 1,0 -10.6,0M1240.3,140.2a5.3,5.3 0 1,0 10.6,0a5.3,5.3 0 1,0 -10.6,0M1207.2,169.8a5.3,5.3 0 1,0 10.6,0a5.3,5.3 0 1,0 -10.6,0M1111.4,240.4a5.3,5.3 0 1,0 10.6,0a5.3,5.3 0 1,0 -10.6,0M1329.1,135.8a5.3,5.3 0 1,0 10.6,0a5.3,5.3 0 1,0 -10.6,0M1240.6,165.2a5.3,5.3 0 1,0 10.6,0a5.3,5.3 0 1,0 -10.6,0M868.4,294.7a5.3,5.3 0 1,0 10.6,0a5.3,5.3 0 1,0 -10.6,0M1076.3,173.3a5.3,5.3 0 1,0 10.6,0a5.3,5.3 0 1,0 -10.6,0M1242.4,139.3a5.3,5.3 0 1,0 10.6,0a5.3,5.3 0 1,0 -10.6,0M1024.7,302.9a5.3,5.3 0 1,0 10.6,0a5.3,5.3 0 1,0 -10.6,0M1134.3,149a5.3,5.3 0 1,0 10.6,0a5.3,5.3 0 1,0 -10.6,0M1145.7,148a5.3,5.3 0 1,0 10.6,0a5.3,5.3 0 1,0 -10.6,0M836.4,331a5.3,5.3 0 1,0 10.6,0a5.3,5.3 0 1,0 -10.6,0M1082.4,155.1a5.3,5.3 0 1,0 10.6,0a5.3,5.3 0 1,0 -10.6,0M1152.5,212.2a5.3,5.3 0 1,0 10.6,0a5.3,5.3 0 1,0 -10.6,0M1040.7,213.9a5.3,5.3 0 1,0 10.6,0a5.3,5.3 0 1,0 -10.6,0M1315.6,156.7a5.3,5.3 0 1,0 10.6,0a5.3,5.3 0 1,0 -10.6,0M912.1,239.2a5.3,5.3 0 1,0 10.6,0a5.3,5.3 0 1,0 -10.6,0M1004.1,285a5.3,5.3 0 1,0 10.6,0a5.3,5.3 0 1,0 -10.6,0M1299.6,143.5a5.3,5.3 0 1,0 10.6,0a5.3,5.3 0 1,0 -10.6,0M1231.4,120.6a5.3,5.3 0 1,0 10.6,0a5.3,5.3 0 1,0 -10.6,0M1075.8,157.3a5.3,5.3 0 1,0 10.6,0a5.3,5.3 0 1,0 -10.6,0M1074.1,274.4a5.3,5.3 0 1,0 10.6,0a5.3,5.3 0 1,0 -10.6,0M1303.8,115.1a5.3,5.3 0 1,0 10.6,0a5.3,5.3 0 1,0 -10.6,0M896.5,236.2a5.3,5.3 0 1,0 10.6,0a5.3,5.3 0 1,0 -10.6,0M1174.1,144.6a5.3,5.3 0 1,0 10.6,0a5.3,5.3 0 1,0 -10.6,0M914.8,236.2a5.3,5.3 0 1,0 10.6,0a5.3,5.3 0 1,0 -10.6,0M827.4,365.1a5.3,5.3 0 1,0 10.6,0a5.3,5.3 0 1,0 -10.6,0M958.9,226.4a5.3,5.3 0 1,0 10.6,0a5.3,5.3 0 1,0 -10.6,0M919.7,314.8a5.3,5.3 0 1,0 10.6,0a5.3,5.3 0 1,0 -10.6,0M1026.8,302.5a5.3,5.3 0 1,0 10.6,0a5.3,5.3 0 1,0 -10.6,0M855.8,345.6a5.3,5.3 0 1,0 10.6,0a5.3,5.3 0 1,0 -10.6,0M1074,177.9a5.3,5.3 0 1,0 10.6,0a5.3,5.3 0 1,0 -10.6,0M1166.2,142.8a5.3,5.3 0 1,0 10.6,0a5.3,5.3 0 1,0 -10.6,0M1053.7,198.8a5.3,5.3 0 1,0 10.6,0a5.3,5.3 0 1,0 -10.6,0M1253,158.6a5.3,5.3 0 1,0 10.6,0a5.3,5.3 0 1,0 -10.6,0M1135.2,153.2a5.3,5.3 0 1,0 10.6,0a5.3,5.3 0 1,0 -10.6,0M1050.5,293.2a5.3,5.3 0 1,0 10.6,0a5.3,5.3 0 1,0 -10.6,0M1233.1,126.5a5.3,5.3 0 1,0 10.6,0a5.3,5.3 0 1,0 -10.6,0M824.5,362.8a5.3,5.3 0 1,0 10.6,0a5.3,5.3 0 1,0 -10.6,0M926.3,237.2a5.3,5.3 0 1,0 10.6,0a5.3,5.3 0 1,0 -10.6,0M1065.8,191.2a5.3,5.3 0 1,0 10.6,0a5.3,5.3 0 1,0 -10.6,0M831.8,365a5.3,5.3 0 1,0 10.6,0a5.3,5.3 0 1,0 -10.6,0M1255.5,153.8a5.3,5.3 0 1,0 10.6,0a5.3,5.3 0 1,0 -10.6,0M1300.1,141.8a5.3,5.3 0 1,0 10.6,0a5.3,5.3 0 1,0 -10.6,0M1305.4,116.1a5.3,5.3 0 1,0 10.6,0a5.3,5.3 0 1,0 -10.6,0M946.7,301.2a5.3,5.3 0 1,0 10.6,0a5.3,5.3 0 1,0 -10.6,0M1341.1,112.3a5.3,5.3 0 1,0 10.6,0a5.3,5.3 0 1,0 -10.6,0M1076.7,153.1a5.3,5.3 0 1,0 10.6,0a5.3,5.3 0 1,0 -10.6,0M1100.2,249.1a5.3,5.3 0 1,0 10.6,0a5.3,5.3 0 1,0 -10.6,0M1296.1,139.7a5.3,5.3 0 1,0 10.6,0a5.3,5.3 0 1,0 -10.6,0M1178.6,137.8a5.3,5.3 0 1,0 10.6,0a5.3,5.3 0 1,0 -10.6,0M1256.8,153.6a5.3,5.3 0 1,0 10.6,0a5.3,5.3 0 1,0 -10.6,0M1240.1,144.4a5.3,5.3 0 1,0 10.6,0a5.3,5.3 0 1,0 -10.6,0M1180,192.4a5.3,5.3 0 1,0 10.6,0a5.3,5.3 0 1,0 -10.6,0M936.6,239.6a5.3,5.3 0 1,0 10.6,0a5.3,5.3 0 1,0 -10.6,0M822.9,343a5.3,5.3 0 1,0 10.6,0a5.3,5.3 0 1,0 -10.6,0M1234,129.3a5.3,5.3 0 1,0 10.6,0a5.3,5.3 0 1,0 -10.6,0M870.1,291.1a5.3,5.3 0 1,0 10.6,0a5.3,5.3 0 1,0 -10.6,0M868.3,289a5.3,5.3 0 1,0 10.6,0a5.3,5.3 0 1,0 -10.6,0M1004.6,213.8a5.3,5.3 0 1,0 10.6,0a5.3,5.3 0 1,0 -10.6,0M918,235.5a5.3,5.3 0 1,0 10.6,0a5.3,5.3 0 1,0 -10.6,0M965.6,221.3a5.3,5.3 0 1,0 10.6,0a5.3,5.3 0 1,0 -10.6,0M1147.7,222.5a5.3,5.3 0 1,0 10.6,0a5.3,5.3 0 1,0 -10.6,0M920.7,314.6a5.3,5.3 0 1,0 10.6,0a5.3,5.3 0 1,0 -10.6,0M1306.6,166.8a5.3,5.3 0 1,0 10.6,0a5.3,5.3 0 1,0 -10.6,0M1118.8,154.5a5.3,5.3 0 1,0 10.6,0a5.3,5.3 0 1,0 -10.6,0M1120,240.3a5.3,5.3 0 1,0 10.6,0a5.3,5.3 0 1,0 -10.6,0M845,320.1a5.3,5.3 0 1,0 10.6,0a5.3,5.3 0 1,0 -10.6,0M972.5,292.1a5.3,5.3 0 1,0 10.6,0a5.3,5.3 0 1,0 -10.6,0M1134.7,148.8a5.3,5.3 0 1,0 10.6,0a5.3,5.3 0 1,0 -10.6,0M817.2,361.4a5.3,5.3 0 1,0 10.6,0a5.3,5.3 0 1,0 -10.6,0M998.4,286.9a5.3,5.3 0 1,0 10.6,0a5.3,5.3 0 1,0 -10.6,0M1083.4,261.3a5.3,5.3 0 1,0 10.6,0a5.3,5.3 0 1,0 -10.6,0M1221.4,164a5.3,5.3 0 1,0 10.6,0a5.3,5.3 0 1,0 -10.6,0M895.6,251.6a5.3,5.3 0 1,0 10.6,0a5.3,5.3 0 1,0 -10.6,0M1165.4,206.4a5.3,5.3 0 1,0 10.6,0a5.3,5.3 0 1,0 -10.6,0M871.4,290.5a5.3,5.3 0 1,0 10.6,0a5.3,5.3 0 1,0 -10.6,0M821.3,340.5a5.3,5.3 0 1,0 10.6,0a5.3,5.3 0 1,0 -10.6,0M946.1,230.5a5.3,5.3 0 1,0 10.6,0a5.3,5.3 0 1,0 -10.6,0M1055,197.3a5.3,5.3 0 1,0 10.6,0a5.3,5.3 0 1,0 -10.6,0M1322.8,145.9a5.3,5.3 0 1,0 10.6,0a5.3,5.3 0 1,0 -10.6,0M1087.6,257.4a5.3,5.3 0 1,0 10.6,0a5.3,5.3 0 1,0 -10.6,0M1065.4,283.5a5.3,5.3 0 1,0 10.6,0a5.3,5.3 0 1,0 -10.6,0M841.5,317.1a5.3,5.3 0 1,0 10.6,0a5.3,5.3 0 1,0 -10.6,0M884.8,267.6a5.3,5.3 0 1,0 10.6,0a5.3,5.3 0 1,0 -10.6,0M1338.9,110.7a5.3,5.3 0 1,0 10.6,0a5.3,5.3 0 1,0 -10.6,0M1044,213.1a5.3,5.3 0 1,0 10.6,0a5.3,5.3 0 1,0 -10.6,0M1313.8,163.6a5.3,5.3 0 1,0 10.6,0a5.3,5.3 0 1,0 -10.6,0M1317,123.8a5.3,5.3 0 1,0 10.6,0a5.3,5.3 0 1,0 -10.6,0M1054.3,204a5.3,5.3 0 1,0 10.6,0a5.3,5.3 0 1,0 -10.6,0M1042.1,301.9a5.3,5.3 0 1,0 10.6,0a5.3,5.3 0 1,0 -10.6,0M992.3,220.3a5.3,5.3 0 1,0 10.6,0a5.3,5.3 0 1,0 -10.6,0M1125.5,237.7a5.3,5.3 0 1,0 10.6,0a5.3,5.3 0 1,0 -10.6,0M813.2,348.2a5.3,5.3 0 1,0 10.6,0a5.3,5.3 0 1,0 -10.6,0M1058.2,199.9a5.3,5.3 0 1,0 10.6,0a5.3,5.3 0 1,0 -10.6,0M1252.7,146.3a5.3,5.3 0 1,0 10.6,0a5.3,5.3 0 1,0 -10.6,0M1050.5,290.6a5.3,5.3 0 1,0 10.6,0a5.3,5.3 0 1,0 -10.6,0M892.2,332.7a5.3,5.3 0 1,0 10.6,0a5.3,5.3 0 1,0 -10.6,0M935.2,310.9a5.3,5.3 0 1,0 10.6,0a5.3,5.3 0 1,0 -10.6,0M926.5,310.3a5.3,5.3 0 1,0 10.6,0a5.3,5.3 0 1,0 -10.6,0M1337.7,116a5.3,5.3 0 1,0 10.6,0a5.3,5.3 0 1,0 -10.6,0M966.5,221.4a5.3,5.3 0 1,0 10.6,0a5.3,5.3 0 1,0 -10.6,0M1249.9,168.6a5.3,5.3 0 1,0 10.6,0a5.3,5.3 0 1,0 -10.6,0M868.9,342.3a5.3,5.3 0 1,0 10.6,0a5.3,5.3 0 1,0 -10.6,0M1066.8,277.7a5.3,5.3 0 1,0 10.6,0a5.3,5.3 0 1,0 -10.6,0M1143.2,149.8a5.3,5.3 0 1,0 10.6,0a5.3,5.3 0 1,0 -10.6,0M1114.3,152.1a5.3,5.3 0 1,0 10.6,0a5.3,5.3 0 1,0 -10.6,0M1041.6,301.3a5.3,5.3 0 1,0 10.6,0a5.3,5.3 0 1,0 -10.6,0M1094.3,156.3a5.3,5.3 0 1,0 10.6,0a5.3,5.3 0 1,0 -10.6,0M1307.9,116.2a5.3,5.3 0 1,0 10.6,0a5.3,5.3 0 1,0 -10.6,0M845.9,365.1a5.3,5.3 0 1,0 10.6,0a5.3,5.3 0 1,0 -10.6,0M934.6,318.7a5.3,5.3 0 1,0 10.6,0a5.3,5.3 0 1,0 -10.6,0M866.8,359.4a5.3,5.3 0 1,0 10.6,0a5.3,5.3 0 1,0 -10.6,0M895.9,338.3a5.3,5.3 0 1,0 10.6,0a5.3,5.3 0 1,0 -10.6,0M845.4,368.9a5.3,5.3 0 1,0 10.6,0a5.3,5.3 0 1,0 -10.6,0M883.1,355.2a5.3,5.3 0 1,0 10.6,0a5.3,5.3 0 1,0 -10.6,0M892.2,340.5a5.3,5.3 0 1,0 10.6,0a5.3,5.3 0 1,0 -10.6,0M845,367.1a5.3,5.3 0 1,0 10.6,0a5.3,5.3 0 1,0 -10.6,0M895.7,337.7a5.3,5.3 0 1,0 10.6,0a5.3,5.3 0 1,0 -10.6,0M881.2,355.9a5.3,5.3 0 1,0 10.6,0a5.3,5.3 0 1,0 -10.6,0M903.3,345a5.3,5.3 0 1,0 10.6,0a5.3,5.3 0 1,0 -10.6,0M932.1,327.6a5.3,5.3 0 1,0 10.6,0a5.3,5.3 0 1,0 -10.6,0M867.9,354.5a5.3,5.3 0 1,0 10.6,0a5.3,5.3 0 1,0 -10.6,0M871.6,351.2a5.3,5.3 0 1,0 10.6,0a5.3,5.3 0 1,0 -10.6,0M853,365.7a5.3,5.3 0 1,0 10.6,0a5.3,5.3 0 1,0 -10.6,0M899.3,345.4a5.3,5.3 0 1,0 10.6,0a5.3,5.3 0 1,0 -10.6,0M888.7,349.4a5.3,5.3 0 1,0 10.6,0a5.3,5.3 0 1,0 -10.6,0M897,340.8a5.3,5.3 0 1,0 10.6,0a5.3,5.3 0 1,0 -10.6,0M832.7,377.2a5.3,5.3 0 1,0 10.6,0a5.3,5.3 0 1,0 -10.6,0M941,320.5a5.3,5.3 0 1,0 10.6,0a5.3,5.3 0 1,0 -10.6,0M839.3,375.7a5.3,5.3 0 1,0 10.6,0a5.3,5.3 0 1,0 -10.6,0M918.9,328.9a5.3,5.3 0 1,0 10.6,0a5.3,5.3 0 1,0 -10.6,0M927.2,323.1a5.3,5.3 0 1,0 10.6,0a5.3,5.3 0 1,0 -10.6,0M895,353a5.3,5.3 0 1,0 10.6,0a5.3,5.3 0 1,0 -10.6,0M937.5,321a5.3,5.3 0 1,0 10.6,0a5.3,5.3 0 1,0 -10.6,0M923.4,329.7a5.3,5.3 0 1,0 10.6,0a5.3,5.3 0 1,0 -10.6,0M887.4,346.5a5.3,5.3 0 1,0 10.6,0a5.3,5.3 0 1,0 -10.6,0M931.8,324a5.3,5.3 0 1,0 10.6,0a5.3,5.3 0 1,0 -10.6,0M887.3,346.2a5.3,5.3 0 1,0 10.6,0a5.3,5.3 0 1,0 -10.6,0M863.2,360.6a5.3,5.3 0 1,0 10.6,0a5.3,5.3 0 1,0 -10.6,0M896.1,348a5.3,5.3 0 1,0 10.6,0a5.3,5.3 0 1,0 -10.6,0M881.3,347.9a5.3,5.3 0 1,0 10.6,0a5.3,5.3 0 1,0 -10.6,0M861.5,357.9a5.3,5.3 0 1,0 10.6,0a5.3,5.3 0 1,0 -10.6,0M893.3,339.7a5.3,5.3 0 1,0 10.6,0a5.3,5.3 0 1,0 -10.6,0M839.1,383.7a5.3,5.3 0 1,0 10.6,0a5.3,5.3 0 1,0 -10.6,0M892.6,348.3a5.3,5.3 0 1,0 10.6,0a5.3,5.3 0 1,0 -10.6,0M879.5,350.1a5.3,5.3 0 1,0 10.6,0a5.3,5.3 0 1,0 -10.6,0M934.7,325.7a5.3,5.3 0 1,0 10.6,0a5.3,5.3 0 1,0 -10.6,0M838.9,383.6a5.3,5.3 0 1,0 10.6,0a5.3,5.3 0 1,0 -10.6,0M919.3,334.6a5.3,5.3 0 1,0 10.6,0a5.3,5.3 0 1,0 -10.6,0M929.8,322.9a5.3,5.3 0 1,0 10.6,0a5.3,5.3 0 1,0 -10.6,0M946.3,319.2a5.3,5.3 0 1,0 10.6,0a5.3,5.3 0 1,0 -10.6,0M843.4,367.9a5.3,5.3 0 1,0 10.6,0a5.3,5.3 0 1,0 -10.6,0M908.5,332.9a5.3,5.3 0 1,0 10.6,0a5.3,5.3 0 1,0 -10.6,0M891.4,347.7a5.3,5.3 0 1,0 10.6,0a5.3,5.3 0 1,0 -10.6,0M896.5,339.8a5.3,5.3 0 1,0 10.6,0a5.3,5.3 0 1,0 -10.6,0M890.5,351.3a5.3,5.3 0 1,0 10.6,0a5.3,5.3 0 1,0 -10.6,0M880.2,356.6a5.3,5.3 0 1,0 10.6,0a5.3,5.3 0 1,0 -10.6,0M859.6,364.1a5.3,5.3 0 1,0 10.6,0a5.3,5.3 0 1,0 -10.6,0M830.6,383.5a5.3,5.3 0 1,0 10.6,0a5.3,5.3 0 1,0 -10.6,0M840.6,379.1a5.3,5.3 0 1,0 10.6,0a5.3,5.3 0 1,0 -10.6,0M936.9,323.5a5.3,5.3 0 1,0 10.6,0a5.3,5.3 0 1,0 -10.6,0M846.8,370.9a5.3,5.3 0 1,0 10.6,0a5.3,5.3 0 1,0 -10.6,0M889.7,345.7a5.3,5.3 0 1,0 10.6,0a5.3,5.3 0 1,0 -10.6,0M892,340.1a5.3,5.3 0 1,0 10.6,0a5.3,5.3 0 1,0 -10.6,0M946.3,325.6a5.3,5.3 0 1,0 10.6,0a5.3,5.3 0 1,0 -10.6,0M910.9,356.6a5.3,5.3 0 1,0 10.6,0a5.3,5.3 0 1,0 -10.6,0M849.9,385.4a5.3,5.3 0 1,0 10.6,0a5.3,5.3 0 1,0 -10.6,0M861.1,368.8a5.3,5.3 0 1,0 10.6,0a5.3,5.3 0 1,0 -10.6,0M913.2,350.4a5.3,5.3 0 1,0 10.6,0a5.3,5.3 0 1,0 -10.6,0M875.2,362a5.3,5.3 0 1,0 10.6,0a5.3,5.3 0 1,0 -10.6,0M847.4,376.4a5.3,5.3 0 1,0 10.6,0a5.3,5.3 0 1,0 -10.6,0M869,368.7a5.3,5.3 0 1,0 10.6,0a5.3,5.3 0 1,0 -10.6,0M825.8,292.6a5.3,5.3 0 1,0 10.6,0a5.3,5.3 0 1,0 -10.6,0M877.9,235.8a5.3,5.3 0 1,0 10.6,0a5.3,5.3 0 1,0 -10.6,0M811.3,335.4a5.3,5.3 0 1,0 10.6,0a5.3,5.3 0 1,0 -10.6,0M853.6,274.1a5.3,5.3 0 1,0 10.6,0a5.3,5.3 0 1,0 -10.6,0M894.9,228.8a5.3,5.3 0 1,0 10.6,0a5.3,5.3 0 1,0 -10.6,0M878.9,253.3a5.3,5.3 0 1,0 10.6,0a5.3,5.3 0 1,0 -10.6,0M846.3,294.2a5.3,5.3 0 1,0 10.6,0a5.3,5.3 0 1,0 -10.6,0M832,291.9a5.3,5.3 0 1,0 10.6,0a5.3,5.3 0 1,0 -10.6,0M808.4,302.7a5.3,5.3 0 1,0 10.6,0a5.3,5.3 0 1,0 -10.6,0M811,335.5a5.3,5.3 0 1,0 10.6,0a5.3,5.3 0 1,0 -10.6,0M814.5,303.9a5.3,5.3 0 1,0 10.6,0a5.3,5.3 0 1,0 -10.6,0M802.7,314.9a5.3,5.3 0 1,0 10.6,0a5.3,5.3 0 1,0 -10.6,0M862.1,263.9a5.3,5.3 0 1,0 10.6,0a5.3,5.3 0 1,0 -10.6,0M854.1,281.3a5.3,5.3 0 1,0 10.6,0a5.3,5.3 0 1,0 -10.6,0M795.5,306.5a5.3,5.3 0 1,0 10.6,0a5.3,5.3 0 1,0 -10.6,0M840.5,292a5.3,5.3 0 1,0 10.6,0a5.3,5.3 0 1,0 -10.6,0M829.3,310.4a5.3,5.3 0 1,0 10.6,0a5.3,5.3 0 1,0 -10.6,0M832.4,313.4a5.3,5.3 0 1,0 10.6,0a5.3,5.3 0 1,0 -10.6,0M848,289.7a5.3,5.3 0 1,0 10.6,0a5.3,5.3 0 1,0 -10.6,0M888.6,244a5.3,5.3 0 1,0 10.6,0a5.3,5.3 0 1,0 -10.6,0M801.1,313.5a5.3,5.3 0 1,0 10.6,0a5.3,5.3 0 1,0 -10.6,0M808.9,313.4a5.3,5.3 0 1,0 10.6,0a5.3,5.3 0 1,0 -10.6,0M868.7,261.4a5.3,5.3 0 1,0 10.6,0a5.3,5.3 0 1,0 -10.6,0M828.3,304.4a5.3,5.3 0 1,0 10.6,0a5.3,5.3 0 1,0 -10.6,0M859.8,277.2a5.3,5.3 0 1,0 10.6,0a5.3,5.3 0 1,0 -10.6,0M824.6,286.1a5.3,5.3 0 1,0 10.6,0a5.3,5.3 0 1,0 -10.6,0M874.8,261.5a5.3,5.3 0 1,0 10.6,0a5.3,5.3 0 1,0 -10.6,0M853.7,291.4a5.3,5.3 0 1,0 10.6,0a5.3,5.3 0 1,0 -10.6,0M873.3,261.9a5.3,5.3 0 1,0 10.6,0a5.3,5.3 0 1,0 -10.6,0M796.7,335.5a5.3,5.3 0 1,0 10.6,0a5.3,5.3 0 1,0 -10.6,0M858.8,262.9a5.3,5.3 0 1,0 10.6,0a5.3,5.3 0 1,0 -10.6,0M813.4,331.3a5.3,5.3 0 1,0 10.6,0a5.3,5.3 0 1,0 -10.6,0M844.3,277.8a5.3,5.3 0 1,0 10.6,0a5.3,5.3 0 1,0 -10.6,0M881,258.6a5.3,5.3 0 1,0 10.6,0a5.3,5.3 0 1,0 -10.6,0M802.5,321.8a5.3,5.3 0 1,0 10.6,0a5.3,5.3 0 1,0 -10.6,0M825.2,303.8a5.3,5.3 0 1,0 10.6,0a5.3,5.3 0 1,0 -10.6,0M804.1,313.9a5.3,5.3 0 1,0 10.6,0a5.3,5.3 0 1,0 -10.6,0M811.1,334.6a5.3,5.3 0 1,0 10.6,0a5.3,5.3 0 1,0 -10.6,0M1230.7,106.5a5.3,5.3 0 1,0 10.6,0a5.3,5.3 0 1,0 -10.6,0M1230.7,109.5a5.3,5.3 0 1,0 10.6,0a5.3,5.3 0 1,0 -10.6,0M1231.2,113a5.3,5.3 0 1,0 10.6,0a5.3,5.3 0 1,0 -10.6,0M1230.7,117a5.3,5.3 0 1,0 10.6,0a5.3,5.3 0 1,0 -10.6,0M1231.7,121a5.3,5.3 0 1,0 10.6,0a5.3,5.3 0 1,0 -10.6,0M1232.7,125a5.3,5.3 0 1,0 10.6,0a5.3,5.3 0 1,0 -10.6,0M1234.7,112a5.3,5.3 0 1,0 10.6,0a5.3,5.3 0 1,0 -10.6,0M1235.7,118a5.3,5.3 0 1,0 10.6,0a5.3,5.3 0 1,0 -10.6,0M872.7,229a5.3,5.3 0 1,0 10.6,0a5.3,5.3 0 1,0 -10.6,0M882.7,228a5.3,5.3 0 1,0 10.6,0a5.3,5.3 0 1,0 -10.6,0M893.7,229a5.3,5.3 0 1,0 10.6,0a5.3,5.3 0 1,0 -10.6,0M873.7,242a5.3,5.3 0 1,0 10.6,0a5.3,5.3 0 1,0 -10.6,0M878.7,252a5.3,5.3 0 1,0 10.6,0a5.3,5.3 0 1,0 -10.6,0M886.7,236a5.3,5.3 0 1,0 10.6,0a5.3,5.3 0 1,0 -10.6,0M891.7,243a5.3,5.3 0 1,0 10.6,0a5.3,5.3 0 1,0 -10.6,0M880.7,236a5.3,5.3 0 1,0 10.6,0a5.3,5.3 0 1,0 -10.6,0M874.7,235a5.3,5.3 0 1,0 10.6,0a5.3,5.3 0 1,0 -10.6,0M887.7,229a5.3,5.3 0 1,0 10.6,0a5.3,5.3 0 1,0 -10.6,0M369.2,410.4a5.3,5.3 0 1,0 10.6,0a5.3,5.3 0 1,0 -10.6,0M463,347.6a5.3,5.3 0 1,0 10.6,0a5.3,5.3 0 1,0 -10.6,0M462.3,437.7a5.3,5.3 0 1,0 10.6,0a5.3,5.3 0 1,0 -10.6,0M598.9,350.9a5.3,5.3 0 1,0 10.6,0a5.3,5.3 0 1,0 -10.6,0M595,360.5a5.3,5.3 0 1,0 10.6,0a5.3,5.3 0 1,0 -10.6,0M589,382.9a5.3,5.3 0 1,0 10.6,0a5.3,5.3 0 1,0 -10.6,0M592,393.7a5.3,5.3 0 1,0 10.6,0a5.3,5.3 0 1,0 -10.6,0M575.9,435.6a5.3,5.3 0 1,0 10.6,0a5.3,5.3 0 1,0 -10.6,0M533.9,491.7a5.3,5.3 0 1,0 10.6,0a5.3,5.3 0 1,0 -10.6,0M640.8,326.1a5.3,5.3 0 1,0 10.6,0a5.3,5.3 0 1,0 -10.6,0M639.7,463.3a5.3,5.3 0 1,0 10.6,0a5.3,5.3 0 1,0 -10.6,0M640.8,490.4a5.3,5.3 0 1,0 10.6,0a5.3,5.3 0 1,0 -10.6,0M624.1,516.2a5.3,5.3 0 1,0 10.6,0a5.3,5.3 0 1,0 -10.6,0M657.4,513.3a5.3,5.3 0 1,0 10.6,0a5.3,5.3 0 1,0 -10.6,0M649,365.3a5.3,5.3 0 1,0 10.6,0a5.3,5.3 0 1,0 -10.6,0M689.1,338.6a5.3,5.3 0 1,0 10.6,0a5.3,5.3 0 1,0 -10.6,0M708.8,325.3a5.3,5.3 0 1,0 10.6,0a5.3,5.3 0 1,0 -10.6,0M720.1,321.6a5.3,5.3 0 1,0 10.6,0a5.3,5.3 0 1,0 -10.6,0M721.7,335.5a5.3,5.3 0 1,0 10.6,0a5.3,5.3 0 1,0 -10.6,0M703,362.7a5.3,5.3 0 1,0 10.6,0a5.3,5.3 0 1,0 -10.6,0M712.3,360.6a5.3,5.3 0 1,0 10.6,0a5.3,5.3 0 1,0 -10.6,0M723.6,359.2a5.3,5.3 0 1,0 10.6,0a5.3,5.3 0 1,0 -10.6,0M726.1,377.2a5.3,5.3 0 1,0 10.6,0a5.3,5.3 0 1,0 -10.6,0M728.9,386.5a5.3,5.3 0 1,0 10.6,0a5.3,5.3 0 1,0 -10.6,0M712.9,395.1a5.3,5.3 0 1,0 10.6,0a5.3,5.3 0 1,0 -10.6,0M669.8,417.1a5.3,5.3 0 1,0 10.6,0a5.3,5.3 0 1,0 -10.6,0M679.8,427.4a5.3,5.3 0 1,0 10.6,0a5.3,5.3 0 1,0 -10.6,0M709,431.3a5.3,5.3 0 1,0 10.6,0a5.3,5.3 0 1,0 -10.6,0M720.1,422.2a5.3,5.3 0 1,0 10.6,0a5.3,5.3 0 1,0 -10.6,0M723.6,435.2a5.3,5.3 0 1,0 10.6,0a5.3,5.3 0 1,0 -10.6,0M729.8,415.3a5.3,5.3 0 1,0 10.6,0a5.3,5.3 0 1,0 -10.6,0M674.7,493.1a5.3,5.3 0 1,0 10.6,0a5.3,5.3 0 1,0 -10.6,0M686,473.2a5.3,5.3 0 1,0 10.6,0a5.3,5.3 0 1,0 -10.6,0M700,471.1a5.3,5.3 0 1,0 10.6,0a5.3,5.3 0 1,0 -10.6,0M704.1,468.1a5.3,5.3 0 1,0 10.6,0a5.3,5.3 0 1,0 -10.6,0M733.9,481.4a5.3,5.3 0 1,0 10.6,0a5.3,5.3 0 1,0 -10.6,0M763,466a5.3,5.3 0 1,0 10.6,0a5.3,5.3 0 1,0 -10.6,0M756.1,308.4a5.3,5.3 0 1,0 10.6,0a5.3,5.3 0 1,0 -10.6,0M756.1,322.8a5.3,5.3 0 1,0 10.6,0a5.3,5.3 0 1,0 -10.6,0M758.5,326.3a5.3,5.3 0 1,0 10.6,0a5.3,5.3 0 1,0 -10.6,0M770.9,310.9a5.3,5.3 0 1,0 10.6,0a5.3,5.3 0 1,0 -10.6,0M773.9,316a5.3,5.3 0 1,0 10.6,0a5.3,5.3 0 1,0 -10.6,0M776,320.1a5.3,5.3 0 1,0 10.6,0a5.3,5.3 0 1,0 -10.6,0M767.8,331.4a5.3,5.3 0 1,0 10.6,0a5.3,5.3 0 1,0 -10.6,0M762.6,337.6a5.3,5.3 0 1,0 10.6,0a5.3,5.3 0 1,0 -10.6,0M752.8,340.7a5.3,5.3 0 1,0 10.6,0a5.3,5.3 0 1,0 -10.6,0M748.7,344.4a5.3,5.3 0 1,0 10.6,0a5.3,5.3 0 1,0 -10.6,0M770.2,346.8a5.3,5.3 0 1,0 10.6,0a5.3,5.3 0 1,0 -10.6,0M751.7,360.2a5.3,5.3 0 1,0 10.6,0a5.3,5.3 0 1,0 -10.6,0M749.3,365.3a5.3,5.3 0 1,0 10.6,0a5.3,5.3 0 1,0 -10.6,0M749.7,369.4a5.3,5.3 0 1,0 10.6,0a5.3,5.3 0 1,0 -10.6,0M772.9,360.2a5.3,5.3 0 1,0 10.6,0a5.3,5.3 0 1,0 -10.6,0M771.9,365.3a5.3,5.3 0 1,0 10.6,0a5.3,5.3 0 1,0 -10.6,0M770.9,369.4a5.3,5.3 0 1,0 10.6,0a5.3,5.3 0 1,0 -10.6,0M746.2,382.4a5.3,5.3 0 1,0 10.6,0a5.3,5.3 0 1,0 -10.6,0M748.7,389a5.3,5.3 0 1,0 10.6,0a5.3,5.3 0 1,0 -10.6,0M739,398.2a5.3,5.3 0 1,0 10.6,0a5.3,5.3 0 1,0 -10.6,0M740.7,405a5.3,5.3 0 1,0 10.6,0a5.3,5.3 0 1,0 -10.6,0M778,385.9a5.3,5.3 0 1,0 10.6,0a5.3,5.3 0 1,0 -10.6,0M770.9,392.7a5.3,5.3 0 1,0 10.6,0a5.3,5.3 0 1,0 -10.6,0M765.7,404.4a5.3,5.3 0 1,0 10.6,0a5.3,5.3 0 1,0 -10.6,0M766.7,408.5a5.3,5.3 0 1,0 10.6,0a5.3,5.3 0 1,0 -10.6,0M745.2,417.7a5.3,5.3 0 1,0 10.6,0a5.3,5.3 0 1,0 -10.6,0M750.3,415.7a5.3,5.3 0 1,0 10.6,0a5.3,5.3 0 1,0 -10.6,0M755.4,416.7a5.3,5.3 0 1,0 10.6,0a5.3,5.3 0 1,0 -10.6,0M744.6,424.3a5.3,5.3 0 1,0 10.6,0a5.3,5.3 0 1,0 -10.6,0M770.9,414.6a5.3,5.3 0 1,0 10.6,0a5.3,5.3 0 1,0 -10.6,0M778,412.2a5.3,5.3 0 1,0 10.6,0a5.3,5.3 0 1,0 -10.6,0M783.6,411.6a5.3,5.3 0 1,0 10.6,0a5.3,5.3 0 1,0 -10.6,0M788.9,413.2a5.3,5.3 0 1,0 10.6,0a5.3,5.3 0 1,0 -10.6,0M799.2,403.3a5.3,5.3 0 1,0 10.6,0a5.3,5.3 0 1,0 -10.6,0M799.2,407.5a5.3,5.3 0 1,0 10.6,0a5.3,5.3 0 1,0 -10.6,0M817.1,392a5.3,5.3 0 1,0 10.6,0a5.3,5.3 0 1,0 -10.6,0M816.1,397.2a5.3,5.3 0 1,0 10.6,0a5.3,5.3 0 1,0 -10.6,0M792.8,326.3a5.3,5.3 0 1,0 10.6,0a5.3,5.3 0 1,0 -10.6,0M792.8,340.7a5.3,5.3 0 1,0 10.6,0a5.3,5.3 0 1,0 -10.6,0M793.5,361.2a5.3,5.3 0 1,0 10.6,0a5.3,5.3 0 1,0 -10.6,0M795.5,298.6a5.3,5.3 0 1,0 10.6,0a5.3,5.3 0 1,0 -10.6,0M795.1,302.7a5.3,5.3 0 1,0 10.6,0a5.3,5.3 0 1,0 -10.6,0M781.1,369.4a5.3,5.3 0 1,0 10.6,0a5.3,5.3 0 1,0 -10.6,0M786.3,374.6a5.3,5.3 0 1,0 10.6,0a5.3,5.3 0 1,0 -10.6,0M791.4,385.9a5.3,5.3 0 1,0 10.6,0a5.3,5.3 0 1,0 -10.6,0M796.5,383.8a5.3,5.3 0 1,0 10.6,0a5.3,5.3 0 1,0 -10.6,0M801.7,379.7a5.3,5.3 0 1,0 10.6,0a5.3,5.3 0 1,0 -10.6,0M806.8,374.6a5.3,5.3 0 1,0 10.6,0a5.3,5.3 0 1,0 -10.6,0M798.6,371.5a5.3,5.3 0 1,0 10.6,0a5.3,5.3 0 1,0 -10.6,0M845.9,274.5a5.3,5.3 0 1,0 10.6,0a5.3,5.3 0 1,0 -10.6,0M827.4,287.3a5.3,5.3 0 1,0 10.6,0a5.3,5.3 0 1,0 -10.6,0M816.1,302.7a5.3,5.3 0 1,0 10.6,0a5.3,5.3 0 1,0 -10.6,0M806.8,307.8a5.3,5.3 0 1,0 10.6,0a5.3,5.3 0 1,0 -10.6,0M853,381.8a5.3,5.3 0 1,0 10.6,0a5.3,5.3 0 1,0 -10.6,0M836.6,381.8a5.3,5.3 0 1,0 10.6,0a5.3,5.3 0 1,0 -10.6,0M830.4,379.7a5.3,5.3 0 1,0 10.6,0a5.3,5.3 0 1,0 -10.6,0M968.2,321.7a5.3,5.3 0 1,0 10.6,0a5.3,5.3 0 1,0 -10.6,0M966.1,309.6a5.3,5.3 0 1,0 10.6,0a5.3,5.3 0 1,0 -10.6,0M983.9,302.5a5.3,5.3 0 1,0 10.6,0a5.3,5.3 0 1,0 -10.6,0M1028,327.4a5.3,5.3 0 1,0 10.6,0a5.3,5.3 0 1,0 -10.6,0M1034.4,328.1a5.3,5.3 0 1,0 10.6,0a5.3,5.3 0 1,0 -10.6,0M1045.7,308.2a5.3,5.3 0 1,0 10.6,0a5.3,5.3 0 1,0 -10.6,0M1051.4,307.5a5.3,5.3 0 1,0 10.6,0a5.3,5.3 0 1,0 -10.6,0M1065.7,291.1a5.3,5.3 0 1,0 10.6,0a5.3,5.3 0 1,0 -10.6,0M1087.7,278.3a5.3,5.3 0 1,0 10.6,0a5.3,5.3 0 1,0 -10.6,0M1111.2,278.3a5.3,5.3 0 1,0 10.6,0a5.3,5.3 0 1,0 -10.6,0M1110.5,261.3a5.3,5.3 0 1,0 10.6,0a5.3,5.3 0 1,0 -10.6,0M1092.7,266.2a5.3,5.3 0 1,0 10.6,0a5.3,5.3 0 1,0 -10.6,0M1129.7,242a5.3,5.3 0 1,0 10.6,0a5.3,5.3 0 1,0 -10.6,0M1109.9,261.2a5.3,5.3 0 1,0 10.6,0a5.3,5.3 0 1,0 -10.6,0M1099.5,253.4a5.3,5.3 0 1,0 10.6,0a5.3,5.3 0 1,0 -10.6,0M1190.7,200.4a5.3,5.3 0 1,0 10.6,0a5.3,5.3 0 1,0 -10.6,0M1260.8,144.8a5.3,5.3 0 1,0 10.6,0a5.3,5.3 0 1,0 -10.6,0M1269,154.3a5.3,5.3 0 1,0 10.6,0a5.3,5.3 0 1,0 -10.6,0M1111.6,142.2a5.3,5.3 0 1,0 10.6,0a5.3,5.3 0 1,0 -10.6,0M1289.7,148a5.3,5.3 0 1,0 10.6,0a5.3,5.3 0 1,0 -10.6,0M864.2,398.2a5.3,5.3 0 1,0 10.6,0a5.3,5.3 0 1,0 -10.6,0M894.7,375.6a5.3,5.3 0 1,0 10.6,0a5.3,5.3 0 1,0 -10.6,0M900.7,361.7a5.3,5.3 0 1,0 10.6,0a5.3,5.3 0 1,0 -10.6,0M923.4,339.1a5.3,5.3 0 1,0 10.6,0a5.3,5.3 0 1,0 -10.6,0M933.8,328.7a5.3,5.3 0 1,0 10.6,0a5.3,5.3 0 1,0 -10.6,0M946,318.2a5.3,5.3 0 1,0 10.6,0a5.3,5.3 0 1,0 -10.6,0M817.3,398.2a5.3,5.3 0 1,0 10.6,0a5.3,5.3 0 1,0 -10.6,0M1001.6,290.4a5.3,5.3 0 1,0 10.6,0a5.3,5.3 0 1,0 -10.6,0" fill="none" stroke="#1f77b4" stroke-width="2.5"/>
<path d="M1281,664L1281,664L1285,674L1285,674L1285,674L1300,695L1300,695L1300,695L1353.3,695L1353.3,695L1353.3,695L1353.3,542.5L1353,505.5L1351.9,443.8L1350.9,334.9L1350.9,334.9L1350.9,334.9L1343.7,319.5L1343.7,319.5L1343.7,319.5L1336.1,332.9L1336.1,332.9L1336.1,332.9L1336.1,384.2L1332.4,378.1L1332.4,378.1L1332.4,378.1L1327.3,378.1L1327.3,378.1L1327.3,378.1L1320.1,392.5L1319,353.4L1319,353.4L1319,353.4L1312.5,334.9L1312.5,334.9L1312.5,334.9L1303.6,353.4L1303.6,353.4L1303.6,353.4L1298.5,388.4L1298.5,388.4L1297.5,445.9L1292.3,435.6L1292.3,435.6L1292.3,435.6L1286.2,447.9L1286.2,447.9L1286.2,447.9L1284.1,484.9L1284.1,484.9L1281.5,560L1281.5,560L1281,664ZM1329,546L1310,546L1310,509L1329,509ZM789,834L789,834L792,842L792,842L792,842L800,846L800,846L800,846L811.2,842.6L811.2,842.6L811.2,842.6L825,825L825,825L839.7,804.7L839.7,804.7L839.7,804.7L840,800L852.2,776.5L867.8,759.1L867.8,759.1L867.8,759.1L878.3,734.8L888.7,712.2L897.4,701.7L897.4,701.7L897.4,701.7L904.3,684.3L904.3,684.3L904.3,684.3L907.8,667L920,658.3L920,658.3L920,658.3L928.7,649.6L928.7,649.6L928.7,649.6L925.2,637.4L932.2,632.2L940.5,635.8L940,650L940,650L940,650L948.8,639.5L950,640L950,640L950,640L950.2,637.7L960,626L1000,604L1050,580L1100,557L1120,549L1150,541L1230,557L1256,563L1263,582L1263,582L1263,582L1268.5,588L1268.5,588L1268.5,588L1268,546.6L1267.7,484.9L1267.7,484.9L1266.6,454.1L1266.6,454.1L1264.6,423.3L1264.6,423.3L1261.5,398.6L1261.5,398.6L1261.5,398.6L1255.7,387.3L1255.7,387.3L1255.7,387.3L1249.2,398.6L1249.2,398.6L1249.2,398.6L1247.1,419.2L1243,441.8L1236.8,433.6L1236.8,433.6L1236.8,433.6L1230.7,445.9L1228.6,417.1L1228.6,417.1L1228.6,417.1L1222.5,402.7L1222.5,402.7L1222.5,402.7L1214.2,421.2L1206.4,435.6L1206.4,435.6L1206.4,435.6L1206,458.1L1205.6,458.1L1201.9,439.7L1201.9,439.7L1201.9,439.7L1195.7,423.3L1195.7,423.3L1189.6,407.9L1189.6,407.9L1189.6,407.9L1183.4,419.2L1177.3,427.4L1171.1,421.2L1162.9,402.7L1156.7,388.4L1156.7,388.4L1156.7,388.4L1150.5,381.2L1150.5,381.2L1150.5,381.2L1146.9,392.2L1146.9,392.2L1146.9,392.2L1143,420L1142.4,420L1141.7,393.9L1141.7,393.9L1141.7,393.9L1135.6,381.4L1135.6,381.4L1135.6,381.4L1129.5,397.4L1129.5,397.4L1129.5,397.4L1125.1,420L1119.4,410.4L1119.4,410.4L1119.4,410.4L1116.4,416.5L1113.8,413.9L1113.8,413.9L1113.8,413.9L1108.6,423.5L1108.6,423.5L1108.6,423.5L1107.1,442.4L1106.6,442.4L1105.1,432.2L1105.1,432.2L1105.1,432.2L1098.2,418.6L1098.2,418.6L1098.2,418.6L1091.2,432.2L1091.2,432.2L1082.5,451.3L1082.5,451.3L1082.5,451.3L1080.9,472.5L1080.5,472.5L1077.3,454.8L1077.3,454.8L1072.1,437.4L1072.1,437.4L1072.1,437.4L1065.2,425.2L1065.2,425.2L1065.2,425.2L1059.9,433.9L1053.3,420.3L1053.3,420.3L1053.3,420.3L1049.5,430.4L1049.5,430.4L1046,446.1L1039.1,437.4L1039.1,437.4L1039.1,437.4L1032.1,451.3L1032.1,451.3L1032.1,451.3L1026.9,470.4L1023.4,475.6L1016.5,464.3L1016.5,464.3L1016.5,464.3L1009.5,479.1L1009.5,479.1L1002.6,500L999.1,496.5L999.1,496.5L999.1,496.5L996.5,500L996.5,500L996.5,500L992,520L985,522L976.5,513.9L973,500L973,500L973,500L960,480.8L960,480.8L960,480.8L948.7,500L948.7,500L948.7,500L946.1,513.9L944,524L944,524L944,524L944,525.5L900,600L900,600L900,600L890.4,632.2L887,637.4L887,637.4L887,637.4L873,672.2L857.4,701.7L857.4,701.7L841.7,733L841.7,733L821.7,776.5L807.4,802.8L797,822L789,834Z" fill="#ff7f0e" stroke="#ff7f0e" stroke-width="1.0" stroke-linejoin="round"/>
<path d="M1149.1,416.7l5.3,10.6h-10.6zM1150.3,529.8l5.3,10.6h-10.6zM884,657.9l5.3,10.6h-10.6zM1003.6,497.7l5.3,10.6h-10.6zM1256.8,415.4l5.3,10.6h-10.6zM1288.4,651.3l5.3,10.6h-10.6zM1312.1,346.9l5.3,10.6h-10.6zM824.3,777.8l5.3,10.6h-10.6zM1344.3,438l5.3,10.6h-10.6zM1048.1,441.9l5.3,10.6h-10.6zM1287.2,601.8l5.3,10.6h-10.6zM1033.5,573.3l5.3,10.6h-10.6zM1305.3,435.6l5.3,10.6h-10.6zM988.2,525l5.3,10.6h-10.6zM946.3,520.9l5.3,10.6h-10.6zM892.4,683.4l5.3,10.6h-10.6zM1345.3,524l5.3,10.6h-10.6zM1335.3,497.5l5.3,10.6h-10.6zM1260.1,470.8l5.3,10.6h-10.6zM1015.8,472.1l5.3,10.6h-10.6zM1342.1,389.9l5.3,10.6h-10.6zM1340.8,371.3l5.3,10.6h-10.6zM1290.5,597.3l5.3,10.6h-10.6zM919.2,574.3l5.3,10.6h-10.6zM1343.8,381.6l5.3,10.6h-10.6zM1261.4,503.4l5.3,10.6h-10.6zM889.4,639.2l5.3,10.6h-10.6zM1291.9,457.3l5.3,10.6h-10.6zM918.8,627.8l5.3,10.6h-10.6zM1345.4,517.4l5.3,10.6h-10.6zM912.7,580.5l5.3,10.6h-10.6zM1340.3,377.3l5.3,10.6h-10.6zM1258.4,474.6l5.3,10.6h-10.6zM1087.7,460.6l5.3,10.6h-10.6zM1317.4,389.9l5.3,10.6h-10.6zM1084.7,550.2l5.3,10.6h-10.6zM1317.5,394.2l5.3,10.6h-10.6zM1197.5,453.8l5.3,10.6h-10.6zM1101.8,436.1l5.3,10.6h-10.6zM1313,385.7l5.3,10.6h-10.6zM1260,487.9l5.3,10.6h-10.6zM1346.1,579.3l5.3,10.6h-10.6zM887.5,695.2l5.3,10.6h-10.6zM919.8,572.4l5.3,10.6h-10.6zM1343,454.4l5.3,10.6h-10.6zM1088.8,453.6l5.3,10.6h-10.6zM1243.6,444.6l5.3,10.6h-10.6zM957.4,486.9l5.3,10.6h-10.6zM798.3,827.4l5.3,10.6h-10.6zM1342,331.5l5.3,10.6h-10.6zM1221.2,415.3l5.3,10.6h-10.6zM994.4,514.7l5.3,10.6h-10.6zM1241.2,440.5l5.3,10.6h-10.6zM1343.3,326.8l5.3,10.6h-10.6zM1288.8,635.8l5.3,10.6h-10.6zM1311.6,354.7l5.3,10.6h-10.6zM1344.8,403.1l5.3,10.6h-10.6zM1332.2,385.6l5.3,10.6h-10.6zM866.2,687.7l5.3,10.6h-10.6zM973.2,511.4l5.3,10.6h-10.6zM1345.3,635.1l5.3,10.6h-10.6zM1214.2,422.4l5.3,10.6h-10.6zM1343.6,445.3l5.3,10.6h-10.6zM1059.8,433.5l5.3,10.6h-10.6zM1028.7,471.6l5.3,10.6h-10.6zM1070.8,443.2l5.3,10.6h-10.6zM1227.5,544l5.3,10.6h-10.6zM1344.7,342.5l5.3,10.6h-10.6zM1291.2,506.2l5.3,10.6h-10.6zM1065.6,433.4l5.3,10.6h-10.6zM906.7,591l5.3,10.6h-10.6zM902.6,612.5l5.3,10.6h-10.6zM1132,416.6l5.3,10.6h-10.6zM1258.6,473.3l5.3,10.6h-10.6zM1077.2,469.3l5.3,10.6h-10.6zM1135.6,403l5.3,10.6h-10.6zM1343.4,366.7l5.3,10.6h-10.6zM1136.7,404.4l5.3,10.6h-10.6zM817.8,786.5l5.3,10.6h-10.6zM1041.3,448.4l5.3,10.6h-10.6zM824.2,783.8l5.3,10.6h-10.6zM1256.3,428.5l5.3,10.6h-10.6zM1152.9,398.9l5.3,10.6h-10.6zM1290.5,573.6l5.3,10.6h-10.6zM919,638.8l5.3,10.6h-10.6zM1344,500.8l5.3,10.6h-10.6zM926.2,566.4l5.3,10.6h-10.6zM828.4,800.6l5.3,10.6h-10.6zM1139.9,409.9l5.3,10.6h-10.6zM1345.4,471.2l5.3,10.6h-10.6zM877.2,712.1l5.3,10.6h-10.6zM1305.5,413.5l5.3,10.6h-10.6zM1320.7,547.4l5.3,10.6h-10.6zM1047.1,447.2l5.3,10.6h-10.6zM1071.8,450.2l5.3,10.6h-10.6zM1009.5,584.2l5.3,10.6h-10.6zM1345.2,612l5.3,10.6h-10.6zM1127.3,419.6l5.3,10.6h-10.6zM1346.1,555.4l5.3,10.6h-10.6zM974.3,518.4l5.3,10.6h-10.6zM1341.2,375.5l5.3,10.6h-10.6zM1290.2,586.4l5.3,10.6h-10.6zM907.5,598l5.3,10.6h-10.6zM1344.5,332.8l5.3,10.6h-10.6zM1330.8,547.3l5.3,10.6h-10.6zM1313.7,497.3l5.3,10.6h-10.6zM1308.3,682.5l5.3,10.6h-10.6zM1312.5,388.2l5.3,10.6h-10.6zM907.3,601.6l5.3,10.6h-10.6zM1345.4,439.1l5.3,10.6h-10.6zM1185.7,420.6l5.3,10.6h-10.6zM1098.6,436.1l5.3,10.6h-10.6zM1316.9,681.5l5.3,10.6h-10.6zM1149.1,419.6l5.3,10.6h-10.6zM1346.1,457.5l5.3,10.6h-10.6zM1328.7,497.8l5.3,10.6h-10.6zM1186.1,419l5.3,10.6h-10.6zM1346.4,647l5.3,10.6h-10.6zM1004.4,586.5l5.3,10.6h-10.6zM968.2,513.2l5.3,10.6h-10.6zM882.3,662.5l5.3,10.6h-10.6zM1036.1,458.4l5.3,10.6h-10.6zM1343,453.8l5.3,10.6h-10.6zM999.2,514.7l5.3,10.6h-10.6zM1151.1,394.4l5.3,10.6h-10.6zM965.7,499.8l5.3,10.6h-10.6zM915.7,575.3l5.3,10.6h-10.6zM1198.9,441.2l5.3,10.6h-10.6zM814.3,798.3l5.3,10.6h-10.6zM848.8,731.7l5.3,10.6h-10.6zM1003.5,500.7l5.3,10.6h-10.6zM900.4,661.1l5.3,10.6h-10.6zM950.4,510l5.3,10.6h-10.6zM1307,390l5.3,10.6h-10.6zM822,783.2l5.3,10.6h-10.6zM852.2,716.7l5.3,10.6h-10.6zM1288.6,648.7l5.3,10.6h-10.6zM958.9,486.8l5.3,10.6h-10.6zM1336.7,539.7l5.3,10.6h-10.6zM1186.2,535.2l5.3,10.6h-10.6zM1289.8,523l5.3,10.6h-10.6zM955.4,503.7l5.3,10.6h-10.6zM1190.4,422.6l5.3,10.6h-10.6zM1006.8,501.8l5.3,10.6h-10.6zM1167.4,420.8l5.3,10.6h-10.6zM1287.9,606.7l5.3,10.6h-10.6zM860.1,710.7l5.3,10.6h-10.6zM1154.5,390.2l5.3,10.6h-10.6zM1022.2,474.2l5.3,10.6h-10.6zM1200,453.4l5.3,10.6h-10.6zM1256.1,418.5l5.3,10.6h-10.6zM1240.7,545.5l5.3,10.6h-10.6zM1344.5,629.6l5.3,10.6h-10.6zM1338.2,681.8l5.3,10.6h-10.6zM1259.5,432.2l5.3,10.6h-10.6zM1346.1,497.3l5.3,10.6h-10.6zM1180.3,532.5l5.3,10.6h-10.6zM1296.4,446.1l5.3,10.6h-10.6zM829.1,761.9l5.3,10.6h-10.6zM827.6,774.5l5.3,10.6h-10.6zM1258.3,429.3l5.3,10.6h-10.6zM1041.5,446.7l5.3,10.6h-10.6zM1213.1,428.6l5.3,10.6h-10.6zM1105.1,435.7l5.3,10.6h-10.6zM969,512.1l5.3,10.6h-10.6zM1035.8,448.7l5.3,10.6h-10.6zM1301.9,512.5l5.3,10.6h-10.6zM1260.7,544.6l5.3,10.6h-10.6zM1113,434.8l5.3,10.6h-10.6zM919.3,575.3l5.3,10.6h-10.6zM1315.7,386.5l5.3,10.6h-10.6zM815.6,788.6l5.3,10.6h-10.6zM1337.9,382.9l5.3,10.6h-10.6zM1260.2,440.2l5.3,10.6h-10.6zM908.5,598.7l5.3,10.6h-10.6zM843.5,740.1l5.3,10.6h-10.6zM1069.7,440.8l5.3,10.6h-10.6zM1090.3,457.4l5.3,10.6h-10.6zM1321.5,684.1l5.3,10.6h-10.6zM888.8,637.7l5.3,10.6h-10.6zM1013.2,475l5.3,10.6h-10.6zM1287,649.1l5.3,10.6h-10.6zM1343.9,522.3l5.3,10.6h-10.6zM1013.1,475.8l5.3,10.6h-10.6zM899.6,625.2l5.3,10.6h-10.6zM823.3,775.6l5.3,10.6h-10.6zM1081.3,468.4l5.3,10.6h-10.6zM1299.4,442.4l5.3,10.6h-10.6zM1343.1,400.3l5.3,10.6h-10.6zM931.1,548l5.3,10.6h-10.6zM1307.2,413.1l5.3,10.6h-10.6zM803.5,831.4l5.3,10.6h-10.6zM1344.4,451.4l5.3,10.6h-10.6zM806,814.8l5.3,10.6h-10.6zM1249.7,434.5l5.3,10.6h-10.6zM1238.8,438.2l5.3,10.6h-10.6zM1312.5,373.5l5.3,10.6h-10.6zM1338.9,681.4l5.3,10.6h-10.6zM1093.6,439.3l5.3,10.6h-10.6zM1116.4,421.2l5.3,10.6h-10.6zM1074.1,465.3l5.3,10.6h-10.6zM1200.4,458.8l5.3,10.6h-10.6zM849.7,718.7l5.3,10.6h-10.6zM1260.7,522l5.3,10.6h-10.6zM1011.1,492.6l5.3,10.6h-10.6zM1078.3,472.4l5.3,10.6h-10.6zM1344.5,636.1l5.3,10.6h-10.6zM1229.7,448.5l5.3,10.6h-10.6zM1237.2,443.6l5.3,10.6h-10.6zM1260.3,493.5l5.3,10.6h-10.6zM1289.5,594.4l5.3,10.6h-10.6zM1017.1,469.7l5.3,10.6h-10.6zM1260.1,491l5.3,10.6h-10.6zM830.7,797.2l5.3,10.6h-10.6zM970.7,506.6l5.3,10.6h-10.6zM1248.6,547.6l5.3,10.6h-10.6zM1312.4,348.4l5.3,10.6h-10.6zM805.5,817.2l5.3,10.6h-10.6zM1153.8,396.6l5.3,10.6h-10.6zM1297.1,671.1l5.3,10.6h-10.6zM1137.6,416.3l5.3,10.6h-10.6zM892.4,641.1l5.3,10.6h-10.6zM1124.2,419.9l5.3,10.6h-10.6zM1054.6,433.3l5.3,10.6h-10.6zM951.1,510.1l5.3,10.6h-10.6zM888.4,648.9l5.3,10.6h-10.6zM1256.9,421.7l5.3,10.6h-10.6zM914.2,583.3l5.3,10.6h-10.6zM1256.2,392l5.3,10.6h-10.6zM1140,420.3l5.3,10.6h-10.6zM959.6,482.8l5.3,10.6h-10.6zM1345.1,548.1l5.3,10.6h-10.6zM1094.7,438.8l5.3,10.6h-10.6zM1099.9,439.7l5.3,10.6h-10.6zM926.2,557.8l5.3,10.6h-10.6zM1240.6,441.5l5.3,10.6h-10.6zM1312,346.3l5.3,10.6h-10.6zM1344.3,381.5l5.3,10.6h-10.6zM814.9,802.9l5.3,10.6h-10.6zM1116.3,418.1l5.3,10.6h-10.6zM1056.7,431.3l5.3,10.6h-10.6zM825.4,779.8l5.3,10.6h-10.6zM965.6,490.8l5.3,10.6h-10.6zM836.2,747.9l5.3,10.6h-10.6zM1225.2,445l5.3,10.6h-10.6zM1033.8,458.3l5.3,10.6h-10.6zM1259.4,512.4l5.3,10.6h-10.6zM929.1,620.1l5.3,10.6h-10.6zM1343.1,334.8l5.3,10.6h-10.6zM818.7,795.5l5.3,10.6h-10.6zM1336.3,530.5l5.3,10.6h-10.6zM965.2,491.2l5.3,10.6h-10.6zM1191.6,419l5.3,10.6h-10.6zM818.4,795.2l5.3,10.6h-10.6zM1195.5,428.5l5.3,10.6h-10.6zM1222.2,407.9l5.3,10.6h-10.6zM1092.9,430.3l5.3,10.6h-10.6zM812,801.2l5.3,10.6h-10.6zM1073.5,455l5.3,10.6h-10.6zM1307.4,364.1l5.3,10.6h-10.6zM1182.1,425.2l5.3,10.6h-10.6zM841.9,735.5l5.3,10.6h-10.6zM815.6,818.1l5.3,10.6h-10.6zM1346,632.5l5.3,10.6h-10.6zM1343,366l5.3,10.6h-10.6zM1092.3,444.3l5.3,10.6h-10.6zM1305.7,400.5l5.3,10.6h-10.6zM882.7,659.2l5.3,10.6h-10.6zM845,766.6l5.3,10.6h-10.6zM1195.7,427.8l5.3,10.6h-10.6zM1346.8,640.9l5.3,10.6h-10.6zM1116.6,420.1l5.3,10.6h-10.6zM1254.6,414.6l5.3,10.6h-10.6zM860.5,747.1l5.3,10.6h-10.6zM1139.2,408.9l5.3,10.6h-10.6zM893.4,640.7l5.3,10.6h-10.6zM1244,437.9l5.3,10.6h-10.6zM1083.5,464.6l5.3,10.6h-10.6zM1176.3,430.1l5.3,10.6h-10.6zM1293.6,450l5.3,10.6h-10.6zM1291.9,453.6l5.3,10.6h-10.6zM1000.4,506.2l5.3,10.6h-10.6zM822.8,778.6l5.3,10.6h-10.6zM1082.2,466.1l5.3,10.6h-10.6zM1220,409.7l5.3,10.6h-10.6zM1036.9,455.9l5.3,10.6h-10.6zM1289.3,565.3l5.3,10.6h-10.6zM960.1,483l5.3,10.6h-10.6zM1214.5,430.6l5.3,10.6h-10.6zM910.4,587.1l5.3,10.6h-10.6zM1326.8,495.2l5.3,10.6h-10.6zM1252.3,423.8l5.3,10.6h-10.6zM1345.1,604.1l5.3,10.6h-10.6zM1347.3,668.8l5.3,10.6h-10.6zM1103.1,441.6l5.3,10.6h-10.6zM902.3,604.4l5.3,10.6h-10.6zM1334.7,541.9l5.3,10.6h-10.6zM1345.3,395.5l5.3,10.6h-10.6zM1067.5,449.6l5.3,10.6h-10.6zM1311.3,381.9l5.3,10.6h-10.6zM1261.8,476.7l5.3,10.6h-10.6zM857.5,702.1l5.3,10.6h-10.6zM1337,536.2l5.3,10.6h-10.6zM1223.3,433.7l5.3,10.6h-10.6zM1345.8,526.6l5.3,10.6h-10.6zM1342.7,372.3l5.3,10.6h-10.6zM1260.2,519.3l5.3,10.6h-10.6zM880.9,672l5.3,10.6h-10.6zM1289.8,574.8l5.3,10.6h-10.6zM1342.4,328.1l5.3,10.6h-10.6zM1057.4,430.4l5.3,10.6h-10.6zM1012,477.7l5.3,10.6h-10.6zM1258.2,469.5l5.3,10.6h-10.6zM1344,630.1l5.3,10.6h-10.6zM1346.6,665.5l5.3,10.6h-10.6zM1292.7,467l5.3,10.6h-10.6zM852.7,757.8l5.3,10.6h-10.6zM1075.9,458.1l5.3,10.6h-10.6zM870,685l5.3,10.6h-10.6zM1145.6,418.4l5.3,10.6h-10.6zM1303.6,530.9l5.3,10.6h-10.6zM1290.3,588l5.3,10.6h-10.6zM1174,532.1l5.3,10.6h-10.6zM815.8,793.4l5.3,10.6h-10.6zM991.9,522.3l5.3,10.6h-10.6zM809.6,808l5.3,10.6h-10.6zM1312.4,389.4l5.3,10.6h-10.6zM1344.6,619.3l5.3,10.6h-10.6zM1252,434.4l5.3,10.6h-10.6zM1219.6,421.7l5.3,10.6h-10.6zM859.4,702.9l5.3,10.6h-10.6zM1074.4,459.8l5.3,10.6h-10.6zM1260.2,538.8l5.3,10.6h-10.6zM947.6,522.3l5.3,10.6h-10.6zM972.9,510.5l5.3,10.6h-10.6zM829.9,765.5l5.3,10.6h-10.6zM1194.7,431.6l5.3,10.6h-10.6zM870.2,689.4l5.3,10.6h-10.6zM1190.3,413.8l5.3,10.6h-10.6zM1296.3,448.1l5.3,10.6h-10.6zM1345.1,584.4l5.3,10.6h-10.6zM1288,639.8l5.3,10.6h-10.6zM1315.7,378.8l5.3,10.6h-10.6zM1164.9,531.8l5.3,10.6h-10.6zM1107.4,439.6l5.3,10.6h-10.6zM931.1,619.8l5.3,10.6h-10.6zM1258,418.4l5.3,10.6h-10.6zM861,707.6l5.3,10.6h-10.6zM1114.9,433.1l5.3,10.6h-10.6zM909.4,586.3l5.3,10.6h-10.6zM1342.8,361.6l5.3,10.6h-10.6zM1137.7,415.7l5.3,10.6h-10.6zM1171.3,531.2l5.3,10.6h-10.6zM802.7,818.3l5.3,10.6h-10.6zM863.5,696.3l5.3,10.6h-10.6zM1095.1,440.4l5.3,10.6h-10.6zM1310.7,340.1l5.3,10.6h-10.6zM841.1,746.1l5.3,10.6h-10.6zM1166,529.2l5.3,10.6h-10.6zM1290.8,544.9l5.3,10.6h-10.6zM1344,602.3l5.3,10.6h-10.6zM1291.7,660.3l5.3,10.6h-10.6zM1138.5,530.6l5.3,10.6h-10.6zM1290.2,635.5l5.3,10.6h-10.6zM1133.2,405.2l5.3,10.6h-10.6zM1306.3,386l5.3,10.6h-10.6zM1042.6,568.4l5.3,10.6h-10.6zM921,568.5l5.3,10.6h-10.6zM1343.5,456.6l5.3,10.6h-10.6zM1064.4,432.1l5.3,10.6h-10.6zM1344.3,525.5l5.3,10.6h-10.6zM1127.6,413.7l5.3,10.6h-10.6zM1290.1,565.8l5.3,10.6h-10.6zM898.8,629.1l5.3,10.6h-10.6zM1310.9,339.7l5.3,10.6h-10.6zM1013.6,476.3l5.3,10.6h-10.6zM1160.7,403l5.3,10.6h-10.6zM1342.7,425.5l5.3,10.6h-10.6zM1304.2,547.8l5.3,10.6h-10.6zM1141.3,420.1l5.3,10.6h-10.6zM1305.4,403.7l5.3,10.6h-10.6zM1345.6,681l5.3,10.6h-10.6zM801.1,818.3l5.3,10.6h-10.6zM1255.1,399.2l5.3,10.6h-10.6zM1015.7,475.4l5.3,10.6h-10.6zM938.2,537.7l5.3,10.6h-10.6zM1317.8,387.1l5.3,10.6h-10.6zM1009.5,497.9l5.3,10.6h-10.6zM1145.6,407l5.3,10.6h-10.6zM1221.8,411l5.3,10.6h-10.6zM1151.3,401.1l5.3,10.6h-10.6zM806.2,814.2l5.3,10.6h-10.6zM1306.1,434.1l5.3,10.6h-10.6zM1308.2,543.1l5.3,10.6h-10.6zM1287.9,622.1l5.3,10.6h-10.6zM951.8,523.6l5.3,10.6h-10.6zM1333.2,542.4l5.3,10.6h-10.6zM829.6,797.8l5.3,10.6h-10.6zM1194.4,431l5.3,10.6h-10.6zM1345.4,385.4l5.3,10.6h-10.6zM912.3,587.8l5.3,10.6h-10.6zM877.1,667.2l5.3,10.6h-10.6zM1185.3,419.4l5.3,10.6h-10.6zM1344,576.8l5.3,10.6h-10.6zM1342.8,426.3l5.3,10.6h-10.6zM1219.4,425.3l5.3,10.6h-10.6zM1135.4,407.6l5.3,10.6h-10.6zM820.6,810.8l5.3,10.6h-10.6zM1188.4,415.5l5.3,10.6h-10.6zM1343.6,421.7l5.3,10.6h-10.6zM817.9,787.1l5.3,10.6h-10.6zM907.1,590.9l5.3,10.6h-10.6zM1257.7,431.1l5.3,10.6h-10.6zM1255.5,421.6l5.3,10.6h-10.6zM910,584.6l5.3,10.6h-10.6zM1214.1,431.6l5.3,10.6h-10.6zM1138.1,402.1l5.3,10.6h-10.6zM847,763.7l5.3,10.6h-10.6zM900,622.2l5.3,10.6h-10.6zM976.9,515.1l5.3,10.6h-10.6zM1135.4,531.2l5.3,10.6h-10.6zM1030,465.5l5.3,10.6h-10.6zM1256.1,400l5.3,10.6h-10.6zM1347.3,623.5l5.3,10.6h-10.6zM1192.5,436l5.3,10.6h-10.6zM886,651.8l5.3,10.6h-10.6zM1094.5,439l5.3,10.6h-10.6zM1214.2,425.9l5.3,10.6h-10.6zM1326.7,382.8l5.3,10.6h-10.6zM1346.5,610.6l5.3,10.6h-10.6zM1018,471.8l5.3,10.6h-10.6zM1217.2,429.5l5.3,10.6h-10.6zM1332.1,547.2l5.3,10.6h-10.6zM1288.2,651.4l5.3,10.6h-10.6zM1344.5,544l5.3,10.6h-10.6zM1000.8,588.9l5.3,10.6h-10.6zM1053.5,437.1l5.3,10.6h-10.6zM1245.5,444.4l5.3,10.6h-10.6zM1218.9,414.4l5.3,10.6h-10.6zM1343.9,418.7l5.3,10.6h-10.6zM1345.1,584.4l5.3,10.6h-10.6zM1133.8,398.1l5.3,10.6h-10.6zM1234.4,448.1l5.3,10.6h-10.6zM911.3,586.3l5.3,10.6h-10.6zM1013.8,474.9l5.3,10.6h-10.6zM1305,409.6l5.3,10.6h-10.6zM881.2,668.1l5.3,10.6h-10.6zM1023.8,476.8l5.3,10.6h-10.6zM925.6,568.9l5.3,10.6h-10.6zM1096,423.9l5.3,10.6h-10.6zM977.2,517.4l5.3,10.6h-10.6zM1343.9,416.7l5.3,10.6h-10.6zM854.6,707.5l5.3,10.6h-10.6zM850.8,722l5.3,10.6h-10.6zM1295.5,448.4l5.3,10.6h-10.6zM1065.9,434.8l5.3,10.6h-10.6zM1193.3,424.1l5.3,10.6h-10.6zM1250.8,423.7l5.3,10.6h-10.6zM1014.8,474.3l5.3,10.6h-10.6zM1301.8,527.3l5.3,10.6h-10.6zM1236.6,444.1l5.3,10.6h-10.6zM846.5,729.9l5.3,10.6h-10.6zM1068.8,443.9l5.3,10.6h-10.6zM865,696.2l5.3,10.6h-10.6zM1016.8,479.8l5.3,10.6h-10.6zM1345.3,482.8l5.3,10.6h-10.6zM912,580.3l5.3,10.6h-10.6zM1306.4,420.9l5.3,10.6h-10.6zM1086.2,549.1l5.3,10.6h-10.6zM1188.6,415.1l5.3,10.6h-10.6zM1257.6,435l5.3,10.6h-10.6zM885.6,652.2l5.3,10.6h-10.6zM881,663.4l5.3,10.6h-10.6zM1163.2,530.8l5.3,10.6h-10.6zM1337.9,516.4l5.3,10.6h-10.6zM1315,392.3l5.3,10.6h-10.6zM903.9,595.3l5.3,10.6h-10.6zM1345.8,544.5l5.3,10.6h-10.6zM939.4,544.5l5.3,10.6h-10.6zM849.2,733.6l5.3,10.6h-10.6zM1218.7,542l5.3,10.6h-10.6zM1313,385.3l5.3,10.6h-10.6zM816.8,795.5l5.3,10.6h-10.6zM1255.3,395l5.3,10.6h-10.6zM1116.6,432.1l5.3,10.6h-10.6zM1024.8,478.2l5.3,10.6h-10.6zM1210,447.1l5.3,10.6h-10.6zM1118,418.5l5.3,10.6h-10.6zM1293,450.2l5.3,10.6h-10.6zM1347.4,669.9l5.3,10.6h-10.6zM1052,444.9l5.3,10.6h-10.6zM1346.9,570.4l5.3,10.6h-10.6zM1292,516.5l5.3,10.6h-10.6zM1142.5,410.6l5.3,10.6h-10.6zM872.7,682.2l5.3,10.6h-10.6zM1344.2,621.6l5.3,10.6h-10.6zM1131,413.1l5.3,10.6h-10.6zM1311.8,351.5l5.3,10.6h-10.6zM999,517.2l5.3,10.6h-10.6zM1319.3,393.8l5.3,10.6h-10.6zM1320.4,495.3l5.3,10.6h-10.6zM896,624.4l5.3,10.6h-10.6zM1303.6,524.8l5.3,10.6h-10.6zM1287.9,649.7l5.3,10.6h-10.6zM849.4,729.4l5.3,10.6h-10.6zM1342.7,366.6l5.3,10.6h-10.6zM1145.3,421.1l5.3,10.6h-10.6zM995.1,521.4l5.3,10.6h-10.6zM1346.7,666.6l5.3,10.6h-10.6zM1027.7,478l5.3,10.6h-10.6zM1289.2,500.5l5.3,10.6h-10.6zM842.9,747.4l5.3,10.6h-10.6zM1256.9,403.6l5.3,10.6h-10.6zM1020,471.3l5.3,10.6h-10.6zM1346.3,668l5.3,10.6h-10.6zM1149.7,412.2l5.3,10.6h-10.6zM938,621l5.3,10.6h-10.6zM1053.2,432.9l5.3,10.6h-10.6zM1118.1,415l5.3,10.6h-10.6zM1345.3,493.8l5.3,10.6h-10.6zM1066.9,435.5l5.3,10.6h-10.6zM1337.3,683.4l5.3,10.6h-10.6zM1223.6,427.7l5.3,10.6h-10.6zM1258.7,464.2l5.3,10.6h-10.6zM1291.5,472.4l5.3,10.6h-10.6zM1257.9,437.3l5.3,10.6h-10.6zM830.8,771.1l5.3,10.6h-10.6zM1335.6,385.4l5.3,10.6h-10.6zM874.4,681.9l5.3,10.6h-10.6zM1071.4,456.6l5.3,10.6h-10.6zM958,612.6l5.3,10.6h-10.6zM1342.5,394.3l5.3,10.6h-10.6zM1231.4,544.8l5.3,10.6h-10.6zM1215.4,450.8l5.3,10.6h-10.6zM1201.7,450.8l5.3,10.6h-10.6zM1307.2,498.3l5.3,10.6h-10.6zM1298.6,444.5l5.3,10.6h-10.6zM974.8,510.3l5.3,10.6h-10.6zM1306.5,410.2l5.3,10.6h-10.6zM1346.5,489.3l5.3,10.6h-10.6zM1329.4,548.2l5.3,10.6h-10.6zM1344,466.7l5.3,10.6h-10.6zM1325.8,381.2l5.3,10.6h-10.6zM1258.2,430.7l5.3,10.6h-10.6zM918.9,578.5l5.3,10.6h-10.6zM1261.5,468.1l5.3,10.6h-10.6zM899.4,626.2l5.3,10.6h-10.6zM1036.8,463.3l5.3,10.6h-10.6zM1303.2,523.7l5.3,10.6h-10.6zM1195.7,440.3l5.3,10.6h-10.6zM1302.1,506.6l5.3,10.6h-10.6zM1091.1,448.1l5.3,10.6h-10.6zM1345.5,663l5.3,10.6h-10.6zM1290.5,622.6l5.3,10.6h-10.6zM1293.6,479.4l5.3,10.6h-10.6zM1241,547.4l5.3,10.6h-10.6zM1239.2,438.4l5.3,10.6h-10.6zM827.2,778.2l5.3,10.6h-10.6zM829.9,768.4l5.3,10.6h-10.6zM1181.8,427.5l5.3,10.6h-10.6zM876.4,673.9l5.3,10.6h-10.6zM875.6,679l5.3,10.6h-10.6zM1100.6,437l5.3,10.6h-10.6zM969.6,503.9l5.3,10.6h-10.6zM1249.2,438.2l5.3,10.6h-10.6zM1343.5,389.2l5.3,10.6h-10.6zM1072.4,469.4l5.3,10.6h-10.6zM1036.7,447.6l5.3,10.6h-10.6zM1111.9,435.8l5.3,10.6h-10.6zM1213.1,443.3l5.3,10.6h-10.6zM895.1,676.9l5.3,10.6h-10.6zM1344.1,452l5.3,10.6h-10.6zM931.9,558.4l5.3,10.6h-10.6zM1112.7,440l5.3,10.6h-10.6zM1221.9,416.4l5.3,10.6h-10.6zM946.7,533l5.3,10.6h-10.6zM835.3,759.1l5.3,10.6h-10.6zM912.1,647.5l5.3,10.6h-10.6zM1016.5,481.5l5.3,10.6h-10.6zM1289.8,489.7l5.3,10.6h-10.6zM929.4,617.9l5.3,10.6h-10.6zM1346.5,486.4l5.3,10.6h-10.6zM1303.9,544l5.3,10.6h-10.6zM1020.8,471.7l5.3,10.6h-10.6zM1175.3,430.2l5.3,10.6h-10.6zM1015.2,481.2l5.3,10.6h-10.6zM1306.5,438.5l5.3,10.6h-10.6zM1183.5,426.4l5.3,10.6h-10.6zM1346.6,659.9l5.3,10.6h-10.6zM1336.2,382.3l5.3,10.6h-10.6zM1190.7,420.5l5.3,10.6h-10.6zM895.6,631.3l5.3,10.6h-10.6zM1056.7,561.7l5.3,10.6h-10.6zM1346.4,467.6l5.3,10.6h-10.6zM1159.7,412.9l5.3,10.6h-10.6zM959.7,610.5l5.3,10.6h-10.6zM1241,546l5.3,10.6h-10.6zM943.6,536.4l5.3,10.6h-10.6zM875.1,681l5.3,10.6h-10.6zM1308.1,356.9l5.3,10.6h-10.6zM1341.9,376.9l5.3,10.6h-10.6zM1191.7,419.2l5.3,10.6h-10.6zM1115.9,437.7l5.3,10.6h-10.6zM1050.3,445.5l5.3,10.6h-10.6zM1215.6,424.3l5.3,10.6h-10.6zM1346,544.5l5.3,10.6h-10.6zM1026.5,470.9l5.3,10.6h-10.6zM1109.8,429.3l5.3,10.6h-10.6zM1307.6,371.5l5.3,10.6h-10.6zM1219.5,423.1l5.3,10.6h-10.6zM1294.2,467.6l5.3,10.6h-10.6zM834.7,762.2l5.3,10.6h-10.6zM868.7,682l5.3,10.6h-10.6zM1197.2,435.6l5.3,10.6h-10.6zM931.6,618.7l5.3,10.6h-10.6zM1107.5,443l5.3,10.6h-10.6zM1200.9,455.6l5.3,10.6h-10.6zM883.3,650l5.3,10.6h-10.6zM1013.8,489.1l5.3,10.6h-10.6zM902.5,601.2l5.3,10.6h-10.6zM1208.3,455.2l5.3,10.6h-10.6zM929.4,557.7l5.3,10.6h-10.6zM1043.2,448.3l5.3,10.6h-10.6zM1343,450l5.3,10.6h-10.6zM1333.8,544.7l5.3,10.6h-10.6zM1289.2,638.2l5.3,10.6h-10.6zM897.2,627.8l5.3,10.6h-10.6zM1213.2,434.2l5.3,10.6h-10.6zM1147.2,418.7l5.3,10.6h-10.6zM1259.2,488.8l5.3,10.6h-10.6zM978.6,521.1l5.3,10.6h-10.6zM872.7,686.5l5.3,10.6h-10.6zM1327,381.9l5.3,10.6h-10.6zM878.8,668.9l5.3,10.6h-10.6zM1321.5,680.8l5.3,10.6h-10.6zM897.8,669.2l5.3,10.6h-10.6zM1250,548.6l5.3,10.6h-10.6zM1085.6,464.9l5.3,10.6h-10.6zM924.7,569.6l5.3,10.6h-10.6zM1340.2,372l5.3,10.6h-10.6zM1291.9,446.3l5.3,10.6h-10.6zM1318.7,683.9l5.3,10.6h-10.6zM1069.1,437.1l5.3,10.6h-10.6zM1015.3,483l5.3,10.6h-10.6zM1200.6,444.2l5.3,10.6h-10.6zM1170.1,424.2l5.3,10.6h-10.6zM1346,628.6l5.3,10.6h-10.6zM1287.8,636.5l5.3,10.6h-10.6zM1057.1,431.1l5.3,10.6h-10.6zM811.5,800.9l5.3,10.6h-10.6zM1290,620l5.3,10.6h-10.6zM1287.7,561.7l5.3,10.6h-10.6zM1146.2,421.3l5.3,10.6h-10.6zM1292.2,494.9l5.3,10.6h-10.6zM1344.5,627.7l5.3,10.6h-10.6zM1250.7,437.7l5.3,10.6h-10.6zM1085.2,466.6l5.3,10.6h-10.6zM1289,562.1l5.3,10.6h-10.6zM1344.4,658.2l5.3,10.6h-10.6zM905.4,599.1l5.3,10.6h-10.6zM860.4,707l5.3,10.6h-10.6zM801.3,820.4l5.3,10.6h-10.6zM974.9,602.4l5.3,10.6h-10.6zM1343.1,321.7l5.3,10.6h-10.6zM1057.9,433.8l5.3,10.6h-10.6zM1245.8,547.4l5.3,10.6h-10.6zM1344.3,652l5.3,10.6h-10.6zM1303.9,428.3l5.3,10.6h-10.6zM801.7,815.2l5.3,10.6h-10.6zM1345.7,429.9l5.3,10.6h-10.6zM1315.8,380.9l5.3,10.6h-10.6zM1311.5,683.2l5.3,10.6h-10.6zM895.2,680.3l5.3,10.6h-10.6zM857.4,715.9l5.3,10.6h-10.6zM1290.2,540.3l5.3,10.6h-10.6zM1186.9,416.5l5.3,10.6h-10.6zM954.1,495.9l5.3,10.6h-10.6zM1323.3,548.9l5.3,10.6h-10.6zM1101.3,442.1l5.3,10.6h-10.6zM1343.7,447.1l5.3,10.6h-10.6zM1295.3,449.3l5.3,10.6h-10.6zM1345.8,431.3l5.3,10.6h-10.6zM802.1,816.5l5.3,10.6h-10.6zM1159.6,411.7l5.3,10.6h-10.6zM890.6,690.6l5.3,10.6h-10.6zM841.1,775l5.3,10.6h-10.6zM929.3,563.7l5.3,10.6h-10.6zM1312.2,377.9l5.3,10.6h-10.6zM1289.7,571.4l5.3,10.6h-10.6zM1292.8,441.4l5.3,10.6h-10.6zM1342,340.4l5.3,10.6h-10.6zM1214.1,431.5l5.3,10.6h-10.6zM1343.7,334l5.3,10.6h-10.6zM1206.1,451.6l5.3,10.6h-10.6zM1260.7,533.9l5.3,10.6h-10.6zM884.8,648.6l5.3,10.6h-10.6zM892.8,629.8l5.3,10.6h-10.6zM1105.8,540.9l5.3,10.6h-10.6zM1322,391.7l5.3,10.6h-10.6zM1344.3,397.8l5.3,10.6h-10.6zM1031,466.4l5.3,10.6h-10.6zM1092.2,442.6l5.3,10.6h-10.6zM1092.1,435.1l5.3,10.6h-10.6zM1211.9,454.3l5.3,10.6h-10.6zM1289.9,577.2l5.3,10.6h-10.6zM1006.1,499.1l5.3,10.6h-10.6zM1193.5,534.8l5.3,10.6h-10.6zM1260.5,516.1l5.3,10.6h-10.6zM1010.8,493.5l5.3,10.6h-10.6zM1259.1,489.4l5.3,10.6h-10.6zM882.4,659.8l5.3,10.6h-10.6zM1289.6,621.3l5.3,10.6h-10.6zM827,770.4l5.3,10.6h-10.6zM814.9,793.7l5.3,10.6h-10.6zM1316.8,383.3l5.3,10.6h-10.6zM971.9,511.1l5.3,10.6h-10.6zM1304.3,441.7l5.3,10.6h-10.6zM1123.7,423.1l5.3,10.6h-10.6zM1300.9,532.3l5.3,10.6h-10.6zM1123.3,422.3l5.3,10.6h-10.6zM1292.3,511.3l5.3,10.6h-10.6zM908,596.9l5.3,10.6h-10.6zM808.2,827.3l5.3,10.6h-10.6zM1302.1,543.2l5.3,10.6h-10.6zM1306.4,375.3l5.3,10.6h-10.6zM891.4,641.5l5.3,10.6h-10.6zM1099.2,426.9l5.3,10.6h-10.6zM1063.2,435.3l5.3,10.6h-10.6zM1242.4,444.4l5.3,10.6h-10.6zM1006.1,501.4l5.3,10.6h-10.6zM964.8,500.1l5.3,10.6h-10.6zM1083.8,550.1l5.3,10.6h-10.6zM899.3,662.1l5.3,10.6h-10.6zM1162.6,530.9l5.3,10.6h-10.6zM1322.7,388.4l5.3,10.6h-10.6zM1306.5,428.7l5.3,10.6h-10.6zM976.8,519.7l5.3,10.6h-10.6zM1304.6,388.4l5.3,10.6h-10.6zM954.9,491.6l5.3,10.6h-10.6zM1344.3,586.3l5.3,10.6h-10.6zM845.4,740.6l5.3,10.6h-10.6zM1149.2,527l5.3,10.6h-10.6zM1026.8,473.4l5.3,10.6h-10.6zM1123,421.7l5.3,10.6h-10.6zM842.9,738.1l5.3,10.6h-10.6zM1343.3,490.3l5.3,10.6h-10.6zM1301.1,520l5.3,10.6h-10.6zM1193.6,427.1l5.3,10.6h-10.6zM1158.7,395l5.3,10.6h-10.6zM1346,486.6l5.3,10.6h-10.6zM1312,369.7l5.3,10.6h-10.6zM897.1,618.6l5.3,10.6h-10.6zM1311.9,346.4l5.3,10.6h-10.6zM1102.4,437.1l5.3,10.6h-10.6zM923.7,560.2l5.3,10.6h-10.6zM834.3,765.1l5.3,10.6h-10.6zM895.2,679.2l5.3,10.6h-10.6zM1342.9,388.5l5.3,10.6h-10.6zM905.6,598.9l5.3,10.6h-10.6zM1091.7,446.8l5.3,10.6h-10.6zM1313.1,342.7l5.3,10.6h-10.6zM970.5,510.1l5.3,10.6h-10.6zM881.4,654.3l5.3,10.6h-10.6zM879.3,668.1l5.3,10.6h-10.6zM1139.4,412.8l5.3,10.6h-10.6zM1345.8,552.2l5.3,10.6h-10.6zM1332,384.1l5.3,10.6h-10.6zM897.6,667l5.3,10.6h-10.6zM808.3,806l5.3,10.6h-10.6zM946,521.1l5.3,10.6h-10.6zM1223.4,441l5.3,10.6h-10.6zM1307.5,497.8l5.3,10.6h-10.6zM859.4,709l5.3,10.6h-10.6zM1257.1,407.7l5.3,10.6h-10.6zM848.6,762.4l5.3,10.6h-10.6zM938.6,544l5.3,10.6h-10.6zM1068.8,451.4l5.3,10.6h-10.6zM893.3,683.6l5.3,10.6h-10.6zM1157.5,400.4l5.3,10.6h-10.6zM1322.7,393.2l5.3,10.6h-10.6zM893.6,628.9l5.3,10.6h-10.6zM1068.5,443.7l5.3,10.6h-10.6zM1291.6,660.4l5.3,10.6h-10.6zM895.3,677.3l5.3,10.6h-10.6zM1147,416l5.3,10.6h-10.6zM1112.4,428.6l5.3,10.6h-10.6zM1308.7,361.4l5.3,10.6h-10.6zM1289.7,644.9l5.3,10.6h-10.6zM1305.7,440.2l5.3,10.6h-10.6zM1006.5,493.3l5.3,10.6h-10.6zM1334.6,682l5.3,10.6h-10.6zM1291.2,483.1l5.3,10.6h-10.6zM1344.5,507.2l5.3,10.6h-10.6zM894.1,632l5.3,10.6h-10.6zM1047,442.7l5.3,10.6h-10.6zM1346.1,446.1l5.3,10.6h-10.6zM1228.5,440.8l5.3,10.6h-10.6zM1045.3,568l5.3,10.6h-10.6zM1303,538.7l5.3,10.6h-10.6zM1289.1,652.8l5.3,10.6h-10.6zM875.9,669l5.3,10.6h-10.6zM1345,614.7l5.3,10.6h-10.6zM1288.5,653.9l5.3,10.6h-10.6zM978.9,520.3l5.3,10.6h-10.6zM1169.9,530.2l5.3,10.6h-10.6zM1017.9,579.8l5.3,10.6h-10.6zM1308.1,382.4l5.3,10.6h-10.6zM1136.6,417.7l5.3,10.6h-10.6zM1344.7,489l5.3,10.6h-10.6zM897.6,674.7l5.3,10.6h-10.6zM1290.2,615.9l5.3,10.6h-10.6zM1228.3,438.2l5.3,10.6h-10.6zM1016.4,476l5.3,10.6h-10.6zM1090.7,461.2l5.3,10.6h-10.6zM1294.3,461.7l5.3,10.6h-10.6zM1049.9,564.4l5.3,10.6h-10.6zM889.8,648.3l5.3,10.6h-10.6zM1203.4,456.9l5.3,10.6h-10.6zM1261.8,474l5.3,10.6h-10.6zM1039.8,448.7l5.3,10.6h-10.6zM904.9,593.3l5.3,10.6h-10.6zM1318.7,394.9l5.3,10.6h-10.6zM1225.3,432.9l5.3,10.6h-10.6zM866.9,697.4l5.3,10.6h-10.6zM1344.4,420.4l5.3,10.6h-10.6zM837.3,758.1l5.3,10.6h-10.6zM955.8,507l5.3,10.6h-10.6zM1290,512.2l5.3,10.6h-10.6zM1004,501.3l5.3,10.6h-10.6zM921.3,566.1l5.3,10.6h-10.6zM853.7,714l5.3,10.6h-10.6zM1260.7,443.7l5.3,10.6h-10.6zM1144.3,409l5.3,10.6h-10.6zM1344,574.3l5.3,10.6h-10.6zM867.4,692.4l5.3,10.6h-10.6zM1052.1,445.1l5.3,10.6h-10.6zM892,639.8l5.3,10.6h-10.6zM1345.7,399l5.3,10.6h-10.6zM851.6,721.3l5.3,10.6h-10.6zM1307.6,391.8l5.3,10.6h-10.6zM1311.8,381.8l5.3,10.6h-10.6zM1069.3,447.6l5.3,10.6h-10.6zM1346.8,615.3l5.3,10.6h-10.6zM1194.3,439.4l5.3,10.6h-10.6zM1291.6,489.2l5.3,10.6h-10.6zM1290.5,591l5.3,10.6h-10.6zM952.3,616.7l5.3,10.6h-10.6zM991.6,593.1l5.3,10.6h-10.6zM1308.2,364.4l5.3,10.6h-10.6zM1196.3,448.6l5.3,10.6h-10.6zM1050.9,438.5l5.3,10.6h-10.6zM1020.6,579.6l5.3,10.6h-10.6zM970.2,503l5.3,10.6h-10.6zM950.1,526.8l5.3,10.6h-10.6zM859.3,711.4l5.3,10.6h-10.6zM1306.6,496.3l5.3,10.6h-10.6zM1211.6,451.2l5.3,10.6h-10.6zM904.7,604.2l5.3,10.6h-10.6zM812.6,796.7l5.3,10.6h-10.6zM863,706.3l5.3,10.6h-10.6zM1103.9,541.2l5.3,10.6h-10.6zM1290.6,520.6l5.3,10.6h-10.6zM1342.7,338.8l5.3,10.6h-10.6zM1104.5,440l5.3,10.6h-10.6zM1346.8,617.8l5.3,10.6h-10.6zM1208,540.3l5.3,10.6h-10.6zM930.9,621.1l5.3,10.6h-10.6zM898.6,700.2l5.3,10.6h-10.6zM879.7,734l5.3,10.6h-10.6zM906.7,682.9l5.3,10.6h-10.6zM844.3,790.5l5.3,10.6h-10.6zM849.8,782.7l5.3,10.6h-10.6zM888.3,724.4l5.3,10.6h-10.6zM849.3,786.2l5.3,10.6h-10.6zM849.9,784.7l5.3,10.6h-10.6zM848.2,790.6l5.3,10.6h-10.6zM907.5,683.9l5.3,10.6h-10.6zM880.4,737.8l5.3,10.6h-10.6zM876.5,738.4l5.3,10.6h-10.6zM889.8,715.3l5.3,10.6h-10.6zM851.3,778.7l5.3,10.6h-10.6zM910.6,678.8l5.3,10.6h-10.6zM888,720.2l5.3,10.6h-10.6zM849.9,782.7l5.3,10.6h-10.6zM874.1,746.2l5.3,10.6h-10.6zM861.8,763l5.3,10.6h-10.6zM900.2,694.3l5.3,10.6h-10.6zM868.5,753.9l5.3,10.6h-10.6zM850.1,779.8l5.3,10.6h-10.6zM851.4,782.7l5.3,10.6h-10.6zM865.5,759.4l5.3,10.6h-10.6zM675.6,1003.3l5.3,10.6h-10.6zM681.3,992.8l5.3,10.6h-10.6zM686,992.8l5.3,10.6h-10.6zM694.6,978l5.3,10.6h-10.6zM705.4,990.4l5.3,10.6h-10.6zM708.2,954.9l5.3,10.6h-10.6zM717.3,959.6l5.3,10.6h-10.6zM708.8,967.2l5.3,10.6h-10.6zM713.5,968.2l5.3,10.6h-10.6zM716.4,968.2l5.3,10.6h-10.6zM717.7,939.7l5.3,10.6h-10.6zM727.4,942.6l5.3,10.6h-10.6zM731.6,937.8l5.3,10.6h-10.6zM744.3,938.8l5.3,10.6h-10.6zM747.7,935l5.3,10.6h-10.6zM725.9,926.4l5.3,10.6h-10.6zM729.7,921.7l5.3,10.6h-10.6zM733.5,915.1l5.3,10.6h-10.6zM736.3,910.3l5.3,10.6h-10.6zM741,910.3l5.3,10.6h-10.6zM734.4,907.5l5.3,10.6h-10.6zM746.2,901.8l5.3,10.6h-10.6zM753.4,922.7l5.3,10.6h-10.6zM757.2,915.1l5.3,10.6h-10.6zM754.3,907.5l5.3,10.6h-10.6zM757.2,901.8l5.3,10.6h-10.6zM761.9,896.1l5.3,10.6h-10.6zM767.6,892.3l5.3,10.6h-10.6zM772.3,890.4l5.3,10.6h-10.6zM777.1,887.6l5.3,10.6h-10.6zM750.5,886.6l5.3,10.6h-10.6zM758.1,880.9l5.3,10.6h-10.6zM761,877.1l5.3,10.6h-10.6zM766.7,867.6l5.3,10.6h-10.6zM771.4,860.1l5.3,10.6h-10.6zM776.1,852.5l5.3,10.6h-10.6zM780.9,845.8l5.3,10.6h-10.6zM775.2,873.3l5.3,10.6h-10.6zM779,869.5l5.3,10.6h-10.6zM782.8,868.6l5.3,10.6h-10.6zM786.6,868.6l5.3,10.6h-10.6zM772.3,882.8l5.3,10.6h-10.6zM777.1,879l5.3,10.6h-10.6zM788.5,829.7l5.3,10.6h-10.6zM795.1,839.2l5.3,10.6h-10.6zM799.8,845.8l5.3,10.6h-10.6zM794.2,855.3l5.3,10.6h-10.6zM797.9,855.3l5.3,10.6h-10.6zM792.3,854.4l5.3,10.6h-10.6zM764,872.7l5.3,10.6h-10.6zM769,863.7l5.3,10.6h-10.6zM774,855.7l5.3,10.6h-10.6zM779,847.7l5.3,10.6h-10.6zM784,840.7l5.3,10.6h-10.6zM1264.9,759.8l5.3,10.6h-10.6zM1247.1,794.8l5.3,10.6h-10.6zM1247.1,817.4l5.3,10.6h-10.6zM1245.4,831.8l5.3,10.6h-10.6zM1265.4,836.9l5.3,10.6h-10.6zM1247.5,863.3l5.3,10.6h-10.6zM1247.5,892l5.3,10.6h-10.6z" fill="none" stroke="#ff7f0e" stroke-width="2.5"/>
<path d="M1287.7,553.3L1286,560.7L1286,639.7L1289.4,674.1L1300.8,701.9L1301,702.6L1301.2,703.3L1301.3,704L1305.4,744.7L1310.4,771L1310.5,771.9L1310.5,772.8L1309.9,783.5L1311.7,783.5L1312.5,759.8L1312.5,759.1L1314.5,743.8L1314.6,743L1314.9,742.3L1315.1,741.6L1315.5,740.9L1315.9,740.3L1316.4,739.7L1316.9,739.2L1317.5,738.7L1318.1,738.3L1318.7,737.9L1319.4,737.6L1320.1,737.4L1320.9,737.3L1321.6,737.2L1322.4,737.2L1323.1,737.3L1323.9,737.4L1324.6,737.6L1325.3,737.9L1325.9,738.3L1326.5,738.7L1327.1,739.2L1327.6,739.7L1328.1,740.3L1328.5,740.9L1328.9,741.6L1329.1,742.3L1329.4,743L1329.5,743.8L1331.5,759.1L1331.5,759.7L1333.3,792L1339.2,795.2L1345.5,794.3L1345.5,600L1345,564L1332.5,564L1331.8,564L1331,563.9L1330.3,563.7L1329.6,563.5L1329,563.2L1328.4,562.8L1327.8,562.4L1327.2,561.9L1326.7,561.4L1326.3,560.8L1325.9,560.2L1325.6,559.6L1325.3,558.9L1325.1,558.2L1325,557.5L1324.1,550.4L1315.3,548.5L1296.5,548.5ZM783.3,530.1L796.4,533.6L797.1,533.9L797.8,534.2L798.4,534.5L824.9,551.2L825.6,551.7L849.2,570.5L872.6,582.2L873.3,582.6L873.9,583L874.4,583.5L874.9,584L875.4,584.6L887.2,601L887.6,601.6L887.9,602.2L888.2,602.9L888.4,603.5L888.5,604.2L889.9,613.6L892.8,627.8L899.8,631.3L900.4,631.6L901.1,632.1L901.6,632.6L902.2,633.1L902.6,633.7L903,634.4L903.3,635.1L903.6,635.8L903.8,636.5L903.9,637.3L903.9,638L903.9,651.4L911.1,653.2L920.9,649.9L922.1,637.4L922.2,636.7L922.4,636L922.6,635.3L922.9,634.6L923.3,634L923.7,633.4L924.2,632.9L924.8,632.4L925.3,631.9L926,631.6L926.6,631.2L927.3,631L930.9,629.8L931.6,629.6L932.4,629.5L933.1,629.4L933.9,629.4L934.6,629.5L935.3,629.7L936,630L936.7,630.3L937.4,630.7L938,631.1L938.5,631.6L939.1,632.2L939.5,632.8L939.9,633.4L940.2,634.1L940.5,634.8L945.1,650.3L949.4,657.5L949.8,658.2L950.1,658.9L950.3,659.6L950.4,660.4L950.5,661.2L950.5,661.9L950.4,662.7L950.2,663.4L950,664.1L949.7,664.8L949.3,665.5L948.9,666.1L948.3,666.7L947.8,667.2L947.2,667.7L943.7,670L941.4,673.1L944.5,680.2L950.3,684.9L970,686.2L974.4,677.5L974.7,676.9L975.2,676.2L975.7,675.7L976.2,675.2L976.8,674.7L977.4,674.3L978.1,674L978.8,673.7L979.5,673.5L980.2,673.4L981,673.3L981.7,673.4L982.4,673.5L983.2,673.6L983.9,673.9L984.5,674.2L985.2,674.5L985.8,675L986.4,675.5L986.9,676L996.2,686.9L996.6,687.5L997,688L997.3,688.6L997.5,689.3L1006,713.1L1013.5,728.2L1042.8,735.4L1077.6,743.6L1078.2,743.8L1078.9,744L1079.6,744.3L1080.2,744.7L1080.7,745.2L1098.1,759.9L1113.5,763.2L1117.9,761.8L1118.1,761.7L1128.1,758.7L1128.2,758.7L1138.7,755.7L1139.4,755.6L1140.1,755.5L1158.8,753.6L1169.6,746.4L1171,699.4L1171.1,698.7L1171.2,697.9L1171.4,697.2L1171.6,696.6L1172,695.9L1172.3,695.3L1172.8,694.7L1173.3,694.2L1173.8,693.7L1174.4,693.3L1175,692.9L1175.7,692.6L1176.4,692.4L1177.1,692.2L1177.8,692.1L1178.5,692.1L1179.2,692.1L1179.9,692.2L1180.7,692.4L1181.3,692.6L1182,692.9L1184,693.9L1184.6,694.3L1185.2,694.7L1185.7,695.1L1186.2,695.7L1186.7,696.2L1187,696.8L1187.4,697.4L1187.6,698.1L1187.9,698.8L1188,699.5L1188.1,700.2L1189.5,724.2L1193,741.6L1203.3,751.2L1224.1,757.5L1242.5,759.3L1254.1,755.1L1258.5,734.1L1261.4,683.7L1261.4,610.3L1259.6,592.2L1254.7,584.7L1239.1,578.4L1221.6,574.9L1220.9,574.8L1220.3,574.5L1202.3,567.3L1201.8,567.1L1201.3,566.8L1183.4,556.1L1168.4,548.4L1153.4,556.2L1152.6,556.5L1134.7,563.6L1134,563.8L1133.3,564L1132.6,564.1L1131.9,564.1L1131.1,564L1130.4,563.9L1129.7,563.7L1112.1,558.3L1111.6,558.1L1111,557.8L1094.2,549.4L1077.8,547.9L1060.4,549.5L1059.7,549.5L1058.9,549.5L1058.2,549.4L1057.5,549.2L1040.2,544L1023,542.4L1005.7,544L988,546L970.5,549.4L969.8,549.5L969.1,549.5L968.4,549.5L967.7,549.4L967,549.2L966.3,549L949.2,542.2L930.9,540.6L930.2,540.5L929.5,540.3L928.8,540L928.1,539.7L927.5,539.4L926.9,538.9L926.3,538.4L925.8,537.9L925.4,537.3L925,536.7L920.9,529.1L904.4,527L879.6,525.5L879.5,525.5L860,524.1L823.4,526.5L823.3,526.5L795.5,528Z" fill="#2ca02c" stroke="#2ca02c" stroke-width="1.5" stroke-linejoin="round"/>
<path d="M1303.3,745h10.6v10.6h-10.6zM1188.2,717.4h10.6v10.6h-10.6zM960.4,549.2h10.6v10.6h-10.6zM903.6,640h10.6v10.6h-10.6zM1096.1,546.9h10.6v10.6h-10.6zM1255.2,697.2h10.6v10.6h-10.6zM1230.5,571.8h10.6v10.6h-10.6zM880.8,595.4h10.6v10.6h-10.6zM1164.7,736h10.6v10.6h-10.6zM904.4,526.6h10.6v10.6h-10.6zM1329.5,559h10.6v10.6h-10.6zM909.5,641h10.6v10.6h-10.6zM961.4,543h10.6v10.6h-10.6zM862.3,519.9h10.6v10.6h-10.6zM1249.8,722.2h10.6v10.6h-10.6zM1325.5,739.6h10.6v10.6h-10.6zM1250.5,585.1h10.6v10.6h-10.6zM1240.3,579.2h10.6v10.6h-10.6zM910.3,637h10.6v10.6h-10.6zM1254.3,700.6h10.6v10.6h-10.6zM943.1,541.3h10.6v10.6h-10.6zM1042.9,727.8h10.6v10.6h-10.6zM963.9,547.4h10.6v10.6h-10.6zM1334.8,780.2h10.6v10.6h-10.6zM1286.3,545.7h10.6v10.6h-10.6zM905.1,647.6h10.6v10.6h-10.6zM1283.4,650.3h10.6v10.6h-10.6zM1185.4,716.5h10.6v10.6h-10.6zM987.9,676.5h10.6v10.6h-10.6zM938.8,636.1h10.6v10.6h-10.6zM1254,665h10.6v10.6h-10.6zM1285.8,581.8h10.6v10.6h-10.6zM1105.6,752h10.6v10.6h-10.6zM838.4,560.5h10.6v10.6h-10.6zM904,636.2h10.6v10.6h-10.6zM1282.9,654.7h10.6v10.6h-10.6zM1330,768.3h10.6v10.6h-10.6zM841,559.7h10.6v10.6h-10.6zM1105.1,551.3h10.6v10.6h-10.6zM810.1,537.6h10.6v10.6h-10.6zM1309.8,542.6h10.6v10.6h-10.6zM1337.5,604h10.6v10.6h-10.6zM1291.5,678.4h10.6v10.6h-10.6zM961.3,549.6h10.6v10.6h-10.6zM1329.2,781.6h10.6v10.6h-10.6zM1052.3,543.9h10.6v10.6h-10.6zM830.1,548.8h10.6v10.6h-10.6zM1249.1,589.8h10.6v10.6h-10.6zM1300.4,725.4h10.6v10.6h-10.6zM1205.4,748.9h10.6v10.6h-10.6zM1339.1,690.8h10.6v10.6h-10.6zM1334.4,573.9h10.6v10.6h-10.6zM1009.1,714.1h10.6v10.6h-10.6zM1338.7,610.2h10.6v10.6h-10.6zM1340.7,580h10.6v10.6h-10.6zM1237.1,748.5h10.6v10.6h-10.6zM1337.4,744.5h10.6v10.6h-10.6zM1296.2,542.7h10.6v10.6h-10.6zM1038.4,543.6h10.6v10.6h-10.6zM1309,733h10.6v10.6h-10.6zM1319.1,561.1h10.6v10.6h-10.6zM886.8,524.4h10.6v10.6h-10.6zM1193.3,560.7h10.6v10.6h-10.6zM1077,737.4h10.6v10.6h-10.6zM1248.3,579.8h10.6v10.6h-10.6zM799.6,527.3h10.6v10.6h-10.6zM1160.2,716.1h10.6v10.6h-10.6zM1184.5,710.2h10.6v10.6h-10.6zM1160.7,718.7h10.6v10.6h-10.6zM1325.7,756.6h10.6v10.6h-10.6zM1224.1,753.2h10.6v10.6h-10.6zM1062.8,547h10.6v10.6h-10.6zM976,543.3h10.6v10.6h-10.6zM1303,742.8h10.6v10.6h-10.6zM1253.7,598.7h10.6v10.6h-10.6zM999.5,690.6h10.6v10.6h-10.6zM1295.4,687.4h10.6v10.6h-10.6zM883.8,601.8h10.6v10.6h-10.6zM1281.9,590.3h10.6v10.6h-10.6zM1185.9,711.2h10.6v10.6h-10.6zM1024.5,727.6h10.6v10.6h-10.6zM1162.7,686.5h10.6v10.6h-10.6zM829.5,522.1h10.6v10.6h-10.6zM1104.8,756.8h10.6v10.6h-10.6zM1327.2,742.9h10.6v10.6h-10.6zM873.1,577.9h10.6v10.6h-10.6zM1251.9,721.3h10.6v10.6h-10.6zM1309.9,546.9h10.6v10.6h-10.6zM1338.4,787.8h10.6v10.6h-10.6zM1252,667h10.6v10.6h-10.6zM1163.2,711.8h10.6v10.6h-10.6zM1286.3,628.2h10.6v10.6h-10.6zM959,543.1h10.6v10.6h-10.6zM995.3,678.3h10.6v10.6h-10.6zM1163.8,543.4h10.6v10.6h-10.6zM1335.5,667.8h10.6v10.6h-10.6zM1339.5,745h10.6v10.6h-10.6zM1103.8,557.2h10.6v10.6h-10.6zM1129.1,751.3h10.6v10.6h-10.6zM1301.2,732.1h10.6v10.6h-10.6zM1102.8,757.2h10.6v10.6h-10.6zM1339.7,621.3h10.6v10.6h-10.6zM1335.5,711.5h10.6v10.6h-10.6zM1339,738.1h10.6v10.6h-10.6zM1164.7,699.6h10.6v10.6h-10.6zM1052.6,731.5h10.6v10.6h-10.6zM1285.3,590h10.6v10.6h-10.6zM993,681.1h10.6v10.6h-10.6zM995.2,683.8h10.6v10.6h-10.6zM853.8,524.1h10.6v10.6h-10.6zM1154.5,741.6h10.6v10.6h-10.6zM1018.1,542.5h10.6v10.6h-10.6zM1029.3,542.2h10.6v10.6h-10.6zM1281.9,623.8h10.6v10.6h-10.6zM1062.3,736.6h10.6v10.6h-10.6zM1304.3,545.3h10.6v10.6h-10.6zM830,552.6h10.6v10.6h-10.6zM933.1,623.8h10.6v10.6h-10.6zM990.3,678.1h10.6v10.6h-10.6zM914.4,639.8h10.6v10.6h-10.6zM1152.3,744.8h10.6v10.6h-10.6zM952.4,680.6h10.6v10.6h-10.6zM1339.7,665h10.6v10.6h-10.6zM1293.6,679.5h10.6v10.6h-10.6zM876.1,584.7h10.6v10.6h-10.6zM1280.3,627.7h10.6v10.6h-10.6zM942.6,542.5h10.6v10.6h-10.6zM1256.5,685.5h10.6v10.6h-10.6zM1303.7,756.3h10.6v10.6h-10.6zM1336.6,574.6h10.6v10.6h-10.6zM986.9,673.4h10.6v10.6h-10.6zM784.5,526.7h10.6v10.6h-10.6zM1118.7,556h10.6v10.6h-10.6zM1254,694h10.6v10.6h-10.6zM1338.2,662.3h10.6v10.6h-10.6zM1337.2,657.2h10.6v10.6h-10.6zM1021,722.9h10.6v10.6h-10.6zM1256.2,647.2h10.6v10.6h-10.6zM1255.3,594.9h10.6v10.6h-10.6zM1255.9,610.5h10.6v10.6h-10.6zM1164.9,689.7h10.6v10.6h-10.6zM1284.6,661.9h10.6v10.6h-10.6zM945.5,666.7h10.6v10.6h-10.6zM1187.3,725h10.6v10.6h-10.6zM900.3,646.1h10.6v10.6h-10.6zM829.2,551.5h10.6v10.6h-10.6zM1027.9,542.2h10.6v10.6h-10.6zM1025.5,726.2h10.6v10.6h-10.6zM1135.9,561.3h10.6v10.6h-10.6zM1212.2,748.7h10.6v10.6h-10.6zM1123.5,563h10.6v10.6h-10.6zM885.3,606.4h10.6v10.6h-10.6zM1339.3,740.3h10.6v10.6h-10.6zM993.1,542.1h10.6v10.6h-10.6zM1117.8,749.2h10.6v10.6h-10.6zM885.7,593.3h10.6v10.6h-10.6zM1255.4,617.2h10.6v10.6h-10.6zM1285.4,610.9h10.6v10.6h-10.6zM1050.2,546h10.6v10.6h-10.6zM1094.1,550.9h10.6v10.6h-10.6zM1335.6,661.7h10.6v10.6h-10.6zM1130.8,748.1h10.6v10.6h-10.6zM917.8,535.5h10.6v10.6h-10.6zM853.6,569h10.6v10.6h-10.6zM1285.4,641.9h10.6v10.6h-10.6zM851.3,566.9h10.6v10.6h-10.6zM1064.4,731.8h10.6v10.6h-10.6zM1134.4,748.4h10.6v10.6h-10.6zM902.5,642.1h10.6v10.6h-10.6zM897,522h10.6v10.6h-10.6zM1330.4,560.8h10.6v10.6h-10.6zM1165.9,546h10.6v10.6h-10.6zM1296.8,699.5h10.6v10.6h-10.6zM1340.3,676.8h10.6v10.6h-10.6zM1330,777.1h10.6v10.6h-10.6zM1339.7,597.5h10.6v10.6h-10.6zM1337.6,680.7h10.6v10.6h-10.6zM1184.5,708.3h10.6v10.6h-10.6zM941.2,643.2h10.6v10.6h-10.6zM957.1,545.2h10.6v10.6h-10.6zM1250.5,669.3h10.6v10.6h-10.6zM1057.4,544.6h10.6v10.6h-10.6zM1208.1,745.1h10.6v10.6h-10.6zM1304.1,742.8h10.6v10.6h-10.6zM961,681.5h10.6v10.6h-10.6zM1188,707.1h10.6v10.6h-10.6zM934,535.8h10.6v10.6h-10.6zM1185.4,687.5h10.6v10.6h-10.6zM1087.5,746.4h10.6v10.6h-10.6zM1008.4,710.7h10.6v10.6h-10.6zM1088.8,747.5h10.6v10.6h-10.6zM1235,572.6h10.6v10.6h-10.6zM1191.2,723.5h10.6v10.6h-10.6zM853.5,522.1h10.6v10.6h-10.6zM821,522.1h10.6v10.6h-10.6zM1080.1,743.5h10.6v10.6h-10.6zM1240.6,580.1h10.6v10.6h-10.6zM1006.3,719.3h10.6v10.6h-10.6zM1298.7,731.6h10.6v10.6h-10.6zM1050.2,728.8h10.6v10.6h-10.6zM1247.9,727.4h10.6v10.6h-10.6zM1280.7,609.6h10.6v10.6h-10.6zM1247.6,721.8h10.6v10.6h-10.6zM966.7,671.5h10.6v10.6h-10.6zM1251.3,610.2h10.6v10.6h-10.6zM1338.7,603.6h10.6v10.6h-10.6zM1046.1,727.7h10.6v10.6h-10.6zM935.7,620.8h10.6v10.6h-10.6zM1307.3,761.7h10.6v10.6h-10.6zM1030.5,537.5h10.6v10.6h-10.6zM882.7,526h10.6v10.6h-10.6zM1177.6,687.8h10.6v10.6h-10.6zM1061.8,733.7h10.6v10.6h-10.6zM1024.3,539.1h10.6v10.6h-10.6zM949,649.3h10.6v10.6h-10.6zM1255.3,613.6h10.6v10.6h-10.6zM1131.3,749.3h10.6v10.6h-10.6zM1202.1,565.5h10.6v10.6h-10.6zM1308.4,729.1h10.6v10.6h-10.6zM1336.4,785.9h10.6v10.6h-10.6zM1253.4,632.3h10.6v10.6h-10.6zM1254.8,644.5h10.6v10.6h-10.6zM1040.9,731.2h10.6v10.6h-10.6zM1311.3,727.9h10.6v10.6h-10.6zM1337.1,651.3h10.6v10.6h-10.6zM1232.5,573.7h10.6v10.6h-10.6zM1003.2,709.9h10.6v10.6h-10.6zM955.5,676.1h10.6v10.6h-10.6zM1285.1,582.3h10.6v10.6h-10.6zM882.4,526.2h10.6v10.6h-10.6zM1254.1,653.9h10.6v10.6h-10.6zM963.4,678.7h10.6v10.6h-10.6zM892.2,616.2h10.6v10.6h-10.6zM1133.6,746.7h10.6v10.6h-10.6zM885.8,618.3h10.6v10.6h-10.6zM944.3,651.9h10.6v10.6h-10.6zM1139.3,744.1h10.6v10.6h-10.6zM1302.1,543.7h10.6v10.6h-10.6zM986.9,543.4h10.6v10.6h-10.6zM854.9,522.3h10.6v10.6h-10.6zM945.8,652.6h10.6v10.6h-10.6zM1339,658.6h10.6v10.6h-10.6zM1044.3,732.6h10.6v10.6h-10.6zM900.6,526.2h10.6v10.6h-10.6zM835.6,525.1h10.6v10.6h-10.6zM1303.2,752.3h10.6v10.6h-10.6zM1253.3,686.7h10.6v10.6h-10.6zM938.4,638.1h10.6v10.6h-10.6zM1289.9,675.6h10.6v10.6h-10.6zM867.9,575.8h10.6v10.6h-10.6zM988.4,680.2h10.6v10.6h-10.6zM1183,700.8h10.6v10.6h-10.6zM1335.2,575.7h10.6v10.6h-10.6zM990.9,539.1h10.6v10.6h-10.6zM1073.5,733.6h10.6v10.6h-10.6zM881.8,588.4h10.6v10.6h-10.6zM967.8,542.7h10.6v10.6h-10.6zM1283,594.3h10.6v10.6h-10.6zM1010.8,721h10.6v10.6h-10.6zM1335.6,716.9h10.6v10.6h-10.6zM1048.8,727.6h10.6v10.6h-10.6zM999,689.6h10.6v10.6h-10.6zM1123.5,748.9h10.6v10.6h-10.6zM1329.3,741.2h10.6v10.6h-10.6zM1005.6,540.3h10.6v10.6h-10.6zM1334.4,693.3h10.6v10.6h-10.6zM1171.7,549.7h10.6v10.6h-10.6zM875.8,520.9h10.6v10.6h-10.6zM787.9,526.9h10.6v10.6h-10.6zM1320.7,552.9h10.6v10.6h-10.6zM1133.4,747.6h10.6v10.6h-10.6zM1341,745.9h10.6v10.6h-10.6zM1294.4,689.4h10.6v10.6h-10.6zM1154.7,743.4h10.6v10.6h-10.6zM1335.4,710.1h10.6v10.6h-10.6zM1337.6,640.3h10.6v10.6h-10.6zM1001.1,709.3h10.6v10.6h-10.6zM905.2,645.9h10.6v10.6h-10.6zM1176,551.4h10.6v10.6h-10.6zM1286.6,666.9h10.6v10.6h-10.6zM1090.8,751.6h10.6v10.6h-10.6zM1188.1,718.7h10.6v10.6h-10.6zM1138.9,748.6h10.6v10.6h-10.6zM1254.4,629.1h10.6v10.6h-10.6zM1334.2,619.8h10.6v10.6h-10.6zM920,535h10.6v10.6h-10.6zM1255,672.1h10.6v10.6h-10.6zM1339.7,740.3h10.6v10.6h-10.6zM1305.9,765.3h10.6v10.6h-10.6zM1109.6,757.1h10.6v10.6h-10.6zM1161.9,738.7h10.6v10.6h-10.6zM880.7,593.8h10.6v10.6h-10.6zM836.4,558.9h10.6v10.6h-10.6zM1255.4,600.9h10.6v10.6h-10.6zM1254.8,644h10.6v10.6h-10.6zM1313.2,543.1h10.6v10.6h-10.6zM1192.3,565.8h10.6v10.6h-10.6zM833.3,552.9h10.6v10.6h-10.6zM1204.3,744.9h10.6v10.6h-10.6zM1253.7,718.9h10.6v10.6h-10.6zM940.3,669.1h10.6v10.6h-10.6zM1326.8,767.4h10.6v10.6h-10.6zM975.4,541.2h10.6v10.6h-10.6zM993.8,684.1h10.6v10.6h-10.6zM941.5,541.8h10.6v10.6h-10.6zM1284.3,580.2h10.6v10.6h-10.6zM1281.7,556.4h10.6v10.6h-10.6zM1336,665.7h10.6v10.6h-10.6zM1229.9,750.5h10.6v10.6h-10.6zM1279.9,614.5h10.6v10.6h-10.6zM1292.7,683.7h10.6v10.6h-10.6zM1326.3,746.5h10.6v10.6h-10.6zM1066.9,734.6h10.6v10.6h-10.6zM1337.2,568.9h10.6v10.6h-10.6zM869.2,575.3h10.6v10.6h-10.6zM1248.5,589h10.6v10.6h-10.6zM808.3,526.1h10.6v10.6h-10.6zM1302.7,744.7h10.6v10.6h-10.6zM1178,683.1h10.6v10.6h-10.6zM1297.2,704.2h10.6v10.6h-10.6zM1163.2,727.1h10.6v10.6h-10.6zM992.2,680.4h10.6v10.6h-10.6zM928.5,538.2h10.6v10.6h-10.6zM1279.9,618.7h10.6v10.6h-10.6zM1340.1,642.5h10.6v10.6h-10.6zM910.4,636h10.6v10.6h-10.6zM1325,737.1h10.6v10.6h-10.6zM1183.9,559.6h10.6v10.6h-10.6zM886,603.8h10.6v10.6h-10.6zM940.7,644.9h10.6v10.6h-10.6zM1334.7,638.1h10.6v10.6h-10.6zM915.7,632.3h10.6v10.6h-10.6zM1177.5,550.4h10.6v10.6h-10.6zM1335.7,730.3h10.6v10.6h-10.6zM1184.7,686.2h10.6v10.6h-10.6zM1212.9,573h10.6v10.6h-10.6zM1254.6,672.3h10.6v10.6h-10.6zM870,522.7h10.6v10.6h-10.6zM918.8,535.4h10.6v10.6h-10.6zM835.6,553.7h10.6v10.6h-10.6zM1211.7,571.2h10.6v10.6h-10.6zM877.4,584.9h10.6v10.6h-10.6zM1282.4,612.8h10.6v10.6h-10.6zM1110.9,752.6h10.6v10.6h-10.6zM899.9,639h10.6v10.6h-10.6zM1339,607.7h10.6v10.6h-10.6zM1337.9,775.5h10.6v10.6h-10.6zM1252.3,696.6h10.6v10.6h-10.6zM990.2,544.3h10.6v10.6h-10.6zM1013.1,536.5h10.6v10.6h-10.6zM1094.2,751h10.6v10.6h-10.6zM1086.7,747.9h10.6v10.6h-10.6zM1212.8,745.1h10.6v10.6h-10.6zM1213.2,571.3h10.6v10.6h-10.6zM1249.1,729h10.6v10.6h-10.6zM1160.4,744.8h10.6v10.6h-10.6zM859.4,521.1h10.6v10.6h-10.6zM1339.6,770.7h10.6v10.6h-10.6zM1282.8,620.2h10.6v10.6h-10.6zM1299.5,717.8h10.6v10.6h-10.6zM1336,622.6h10.6v10.6h-10.6zM1295.7,690.8h10.6v10.6h-10.6zM995.3,684.6h10.6v10.6h-10.6zM1256.6,629.3h10.6v10.6h-10.6zM1189.6,736.2h10.6v10.6h-10.6zM1339,705.5h10.6v10.6h-10.6zM1279.9,619.1h10.6v10.6h-10.6zM1250.3,699h10.6v10.6h-10.6zM914.1,528.7h10.6v10.6h-10.6zM827.7,548.7h10.6v10.6h-10.6zM1087.2,547.4h10.6v10.6h-10.6zM1338.7,768.8h10.6v10.6h-10.6zM930.1,624h10.6v10.6h-10.6zM1171.6,681.9h10.6v10.6h-10.6zM896.4,626.2h10.6v10.6h-10.6zM1334.2,690h10.6v10.6h-10.6zM878,589.6h10.6v10.6h-10.6zM802.7,534.5h10.6v10.6h-10.6zM892.8,527.1h10.6v10.6h-10.6zM1031.7,540.2h10.6v10.6h-10.6zM1019.8,537.7h10.6v10.6h-10.6zM1337.4,598.7h10.6v10.6h-10.6zM1156.4,744.5h10.6v10.6h-10.6zM1340.2,680h10.6v10.6h-10.6zM942.5,672.9h10.6v10.6h-10.6zM1002.4,711.8h10.6v10.6h-10.6zM854.1,566.6h10.6v10.6h-10.6zM1203.7,570.4h10.6v10.6h-10.6zM951.5,541.7h10.6v10.6h-10.6zM1184.7,719.5h10.6v10.6h-10.6zM939.2,674.2h10.6v10.6h-10.6zM995.5,542.5h10.6v10.6h-10.6zM1094.8,754h10.6v10.6h-10.6zM843.7,525.4h10.6v10.6h-10.6zM1078.3,742.7h10.6v10.6h-10.6zM1052.7,729.9h10.6v10.6h-10.6zM1255.2,702h10.6v10.6h-10.6zM1119.5,750.7h10.6v10.6h-10.6zM1252.1,671.5h10.6v10.6h-10.6zM1340.6,661.3h10.6v10.6h-10.6zM947.5,654.9h10.6v10.6h-10.6zM968.4,669.8h10.6v10.6h-10.6zM1301.3,733.1h10.6v10.6h-10.6zM1010,537.5h10.6v10.6h-10.6zM1250.6,686.3h10.6v10.6h-10.6zM1189.7,560.8h10.6v10.6h-10.6zM1337.1,626.9h10.6v10.6h-10.6zM860.3,519.4h10.6v10.6h-10.6zM1065.9,735h10.6v10.6h-10.6zM798.7,525.7h10.6v10.6h-10.6zM1338,778h10.6v10.6h-10.6zM1146.7,554.6h10.6v10.6h-10.6zM1337.6,663.9h10.6v10.6h-10.6zM1200.9,562.7h10.6v10.6h-10.6zM1073.3,735.2h10.6v10.6h-10.6zM903.5,522.5h10.6v10.6h-10.6zM1117.5,748.9h10.6v10.6h-10.6zM1022.5,721.4h10.6v10.6h-10.6zM1250.8,676.4h10.6v10.6h-10.6zM1336,652.8h10.6v10.6h-10.6zM970,671h10.6v10.6h-10.6zM1182.7,699.5h10.6v10.6h-10.6zM943,669.2h10.6v10.6h-10.6zM866.2,574.4h10.6v10.6h-10.6zM866.9,523.9h10.6v10.6h-10.6zM993.9,686h10.6v10.6h-10.6zM1291.1,687.5h10.6v10.6h-10.6zM1161.6,702.9h10.6v10.6h-10.6zM884.6,612h10.6v10.6h-10.6zM1144.4,556.6h10.6v10.6h-10.6zM855.4,570.7h10.6v10.6h-10.6zM1186.3,722.2h10.6v10.6h-10.6zM1327.5,746.7h10.6v10.6h-10.6zM822.2,524.2h10.6v10.6h-10.6zM813.9,539h10.6v10.6h-10.6zM1031.4,724.1h10.6v10.6h-10.6zM1161.6,698.3h10.6v10.6h-10.6zM1303.6,748.2h10.6v10.6h-10.6zM890.1,615.3h10.6v10.6h-10.6zM1032.4,539.4h10.6v10.6h-10.6zM902,641.1h10.6v10.6h-10.6zM819.9,520.9h10.6v10.6h-10.6zM951,542.6h10.6v10.6h-10.6zM927.2,540.8h10.6v10.6h-10.6zM966.6,544h10.6v10.6h-10.6zM1249.8,689.2h10.6v10.6h-10.6zM1337.4,710.2h10.6v10.6h-10.6zM1152.9,746.4h10.6v10.6h-10.6zM912.6,635.8h10.6v10.6h-10.6zM1055.3,545.4h10.6v10.6h-10.6zM1196.1,742.2h10.6v10.6h-10.6zM1250.1,585.2h10.6v10.6h-10.6zM1337.5,691.6h10.6v10.6h-10.6zM891.3,525.4h10.6v10.6h-10.6zM883.9,598.3h10.6v10.6h-10.6zM1257,652.8h10.6v10.6h-10.6zM816.9,525.7h10.6v10.6h-10.6zM1340.1,714.1h10.6v10.6h-10.6zM1160.7,721.3h10.6v10.6h-10.6zM1299,549.2h10.6v10.6h-10.6zM1148.6,743.9h10.6v10.6h-10.6zM1182.6,689.6h10.6v10.6h-10.6zM1257.1,646.3h10.6v10.6h-10.6zM1056.9,543.4h10.6v10.6h-10.6zM1256.4,644.7h10.6v10.6h-10.6zM1304.7,760.3h10.6v10.6h-10.6zM834.1,553.3h10.6v10.6h-10.6zM945.4,647.8h10.6v10.6h-10.6zM1340.9,666.6h10.6v10.6h-10.6zM1017.7,539.6h10.6v10.6h-10.6zM1293.9,685.8h10.6v10.6h-10.6zM1220.5,570.9h10.6v10.6h-10.6zM811.4,536.1h10.6v10.6h-10.6zM1337.8,576.3h10.6v10.6h-10.6zM1336.3,641.6h10.6v10.6h-10.6zM793.8,528.6h10.6v10.6h-10.6zM1166,695.1h10.6v10.6h-10.6zM1304.9,747.9h10.6v10.6h-10.6zM1282.9,626.2h10.6v10.6h-10.6zM998,683.6h10.6v10.6h-10.6zM889.4,524.9h10.6v10.6h-10.6zM1302,742.4h10.6v10.6h-10.6zM1252.2,621.6h10.6v10.6h-10.6zM900.9,523.4h10.6v10.6h-10.6zM1003.9,540.4h10.6v10.6h-10.6zM1186.8,726.7h10.6v10.6h-10.6zM1145.1,552h10.6v10.6h-10.6zM848.6,563.7h10.6v10.6h-10.6zM1186.7,558.3h10.6v10.6h-10.6zM1286.5,550h10.6v10.6h-10.6zM1183.2,559.5h10.6v10.6h-10.6zM920.2,625.5h10.6v10.6h-10.6zM1162.6,734.4h10.6v10.6h-10.6zM910.4,644.6h10.6v10.6h-10.6zM1178.8,557.4h10.6v10.6h-10.6zM1017.2,538.3h10.6v10.6h-10.6zM1340.4,558.2h10.6v10.6h-10.6zM1336.7,594.9h10.6v10.6h-10.6zM832.7,522.7h10.6v10.6h-10.6zM1335,785.9h10.6v10.6h-10.6zM887.2,593.7h10.6v10.6h-10.6zM1136.8,747.3h10.6v10.6h-10.6zM1002.4,708.8h10.6v10.6h-10.6zM1248.3,741.1h10.6v10.6h-10.6zM1227.9,576.3h10.6v10.6h-10.6zM1305.3,747.5h10.6v10.6h-10.6zM940.1,664.2h10.6v10.6h-10.6zM933.4,541.9h10.6v10.6h-10.6zM896,623.6h10.6v10.6h-10.6zM1010.2,540.5h10.6v10.6h-10.6zM951.2,542.7h10.6v10.6h-10.6zM1341,702.5h10.6v10.6h-10.6zM825.8,544.7h10.6v10.6h-10.6zM1305.2,544.7h10.6v10.6h-10.6zM892.6,622.9h10.6v10.6h-10.6zM1132.7,557.1h10.6v10.6h-10.6zM1091.4,544.3h10.6v10.6h-10.6zM1129.6,560.1h10.6v10.6h-10.6zM983.8,544h10.6v10.6h-10.6zM1069.8,731.8h10.6v10.6h-10.6zM1250.5,615.6h10.6v10.6h-10.6zM1307.6,756.3h10.6v10.6h-10.6zM897.2,623.3h10.6v10.6h-10.6zM1282.6,627.8h10.6v10.6h-10.6zM1335.6,754.7h10.6v10.6h-10.6zM1115,750.6h10.6v10.6h-10.6zM806.4,535.9h10.6v10.6h-10.6zM1339.6,598.5h10.6v10.6h-10.6zM1138.2,558.1h10.6v10.6h-10.6zM863.5,569.5h10.6v10.6h-10.6zM1301.9,735.1h10.6v10.6h-10.6zM971.3,665.2h10.6v10.6h-10.6zM936.6,668.4h10.6v10.6h-10.6zM1283.4,564.3h10.6v10.6h-10.6zM1000,538.2h10.6v10.6h-10.6zM950.5,659h10.6v10.6h-10.6zM1255.4,703.8h10.6v10.6h-10.6zM1298.8,707.9h10.6v10.6h-10.6zM1185.9,692.4h10.6v10.6h-10.6zM1130.5,559.3h10.6v10.6h-10.6zM1301.6,740.9h10.6v10.6h-10.6zM1327.5,771.9h10.6v10.6h-10.6zM1279.9,563.5h10.6v10.6h-10.6zM1164.3,543.6h10.6v10.6h-10.6zM1304,750.9h10.6v10.6h-10.6zM1338.3,764.5h10.6v10.6h-10.6zM916.6,627.4h10.6v10.6h-10.6zM863.6,524.8h10.6v10.6h-10.6zM1109.9,753.9h10.6v10.6h-10.6zM1340,615.7h10.6v10.6h-10.6zM1096,550.8h10.6v10.6h-10.6zM1096,754.9h10.6v10.6h-10.6zM1134.2,562.3h10.6v10.6h-10.6zM926.4,619.8h10.6v10.6h-10.6zM813.9,538.8h10.6v10.6h-10.6zM1211.6,574.2h10.6v10.6h-10.6zM1336,685.2h10.6v10.6h-10.6zM904.9,641.6h10.6v10.6h-10.6zM1060,545.9h10.6v10.6h-10.6zM1336.1,702.2h10.6v10.6h-10.6zM1339.8,592.7h10.6v10.6h-10.6zM1133.4,557.8h10.6v10.6h-10.6zM929.8,534.8h10.6v10.6h-10.6zM1323.3,730.7h10.6v10.6h-10.6zM1336.5,568.5h10.6v10.6h-10.6zM883.5,526.5h10.6v10.6h-10.6zM802.1,523.2h10.6v10.6h-10.6zM1251.7,590.6h10.6v10.6h-10.6zM1064.3,544.5h10.6v10.6h-10.6zM1331.2,562.8h10.6v10.6h-10.6zM836.2,520.6h10.6v10.6h-10.6zM796.7,522.7h10.6v10.6h-10.6zM1254.6,646.4h10.6v10.6h-10.6zM1325,746.5h10.6v10.6h-10.6zM921.5,619.9h10.6v10.6h-10.6zM1043.6,546.3h10.6v10.6h-10.6zM1159.8,737.7h10.6v10.6h-10.6zM1197.4,740.7h10.6v10.6h-10.6zM1255.7,665.6h10.6v10.6h-10.6zM859,521h10.6v10.6h-10.6zM1331.6,784.8h10.6v10.6h-10.6zM1304.8,749.3h10.6v10.6h-10.6zM1025.2,540.6h10.6v10.6h-10.6zM1337.6,710.5h10.6v10.6h-10.6zM1333,788.9h10.6v10.6h-10.6zM913.5,638.4h10.6v10.6h-10.6zM1330.5,561.1h10.6v10.6h-10.6zM951.6,543.5h10.6v10.6h-10.6zM880.6,595.3h10.6v10.6h-10.6zM1074.4,547.9h10.6v10.6h-10.6zM928.9,540.6h10.6v10.6h-10.6zM838.7,560.7h10.6v10.6h-10.6zM993.9,677.7h10.6v10.6h-10.6zM1335.3,565.4h10.6v10.6h-10.6zM1299.3,720.8h10.6v10.6h-10.6zM1334.2,605.9h10.6v10.6h-10.6zM1285.9,612.1h10.6v10.6h-10.6zM810.4,539.1h10.6v10.6h-10.6zM1165.9,548.5h10.6v10.6h-10.6zM1214.7,571.5h10.6v10.6h-10.6zM1281.1,610.7h10.6v10.6h-10.6zM1015.2,725h10.6v10.6h-10.6zM1339.7,631h10.6v10.6h-10.6zM1091.2,546.2h10.6v10.6h-10.6zM1335.8,646.1h10.6v10.6h-10.6zM1100.1,753.1h10.6v10.6h-10.6zM1025.3,724.4h10.6v10.6h-10.6zM836.2,556.6h10.6v10.6h-10.6zM1127.8,749.3h10.6v10.6h-10.6zM809.6,536.2h10.6v10.6h-10.6zM1294.8,691.6h10.6v10.6h-10.6zM1248,719h10.6v10.6h-10.6zM1327.1,758.8h10.6v10.6h-10.6zM1285.3,630.6h10.6v10.6h-10.6zM841.5,557.3h10.6v10.6h-10.6zM894.1,521.2h10.6v10.6h-10.6zM1335.6,610.1h10.6v10.6h-10.6zM1335.6,778.3h10.6v10.6h-10.6zM992.1,684.3h10.6v10.6h-10.6zM1160.6,724.2h10.6v10.6h-10.6zM1030.6,724.7h10.6v10.6h-10.6zM1334.4,716.1h10.6v10.6h-10.6zM1226.8,749.1h10.6v10.6h-10.6zM1112.2,752.9h10.6v10.6h-10.6zM1331.2,768.1h10.6v10.6h-10.6zM900.5,524h10.6v10.6h-10.6zM1176,555.3h10.6v10.6h-10.6zM1044.7,729h10.6v10.6h-10.6zM940.5,667.3h10.6v10.6h-10.6zM1335.7,605.2h10.6v10.6h-10.6zM1218.7,570.2h10.6v10.6h-10.6zM1307.2,768.5h10.6v10.6h-10.6zM906.2,524h10.6v10.6h-10.6zM1339.9,665.2h10.6v10.6h-10.6zM1084.4,740.7h10.6v10.6h-10.6zM1027.8,539.5h10.6v10.6h-10.6zM849.4,568.3h10.6v10.6h-10.6zM1082.4,740.9h10.6v10.6h-10.6zM1044.3,541h10.6v10.6h-10.6zM788.9,522.5h10.6v10.6h-10.6zM1251.9,611.8h10.6v10.6h-10.6zM869.9,520.4h10.6v10.6h-10.6zM1301.3,696.3h10.6v10.6h-10.6zM1029.6,543h10.6v10.6h-10.6zM1337.4,741.7h10.6v10.6h-10.6zM1181,690h10.6v10.6h-10.6zM843.4,560.7h10.6v10.6h-10.6zM1056.5,547h10.6v10.6h-10.6zM915.1,642.9h10.6v10.6h-10.6zM828.8,525.3h10.6v10.6h-10.6zM1286.5,614.2h10.6v10.6h-10.6zM1334.2,734.5h10.6v10.6h-10.6zM909.7,644h10.6v10.6h-10.6zM1332.5,780.5h10.6v10.6h-10.6zM1329.3,740.7h10.6v10.6h-10.6zM1249.9,579.4h10.6v10.6h-10.6zM1337.1,713.6h10.6v10.6h-10.6zM1305.5,760.7h10.6v10.6h-10.6zM919,530.4h10.6v10.6h-10.6zM1121.4,752.2h10.6v10.6h-10.6zM1336.5,719.5h10.6v10.6h-10.6zM1008.1,543.2h10.6v10.6h-10.6zM821.2,525.1h10.6v10.6h-10.6zM1241.1,581.1h10.6v10.6h-10.6zM1207.2,571.9h10.6v10.6h-10.6zM867.2,524.4h10.6v10.6h-10.6zM1280.1,619.9h10.6v10.6h-10.6zM1323.3,732.1h10.6v10.6h-10.6zM945,643.2h10.6v10.6h-10.6zM1232.8,752.8h10.6v10.6h-10.6zM1251.1,638.6h10.6v10.6h-10.6zM1253.4,693.8h10.6v10.6h-10.6zM1006.7,539.8h10.6v10.6h-10.6zM1068.3,737.3h10.6v10.6h-10.6zM1069.8,736.7h10.6v10.6h-10.6zM1316.5,545.9h10.6v10.6h-10.6zM1225.6,575h10.6v10.6h-10.6zM1281.7,574.6h10.6v10.6h-10.6zM1327.5,768.6h10.6v10.6h-10.6zM885.3,596.7h10.6v10.6h-10.6zM1284.6,639.7h10.6v10.6h-10.6zM1284.1,559.2h10.6v10.6h-10.6zM1155.2,553.5h10.6v10.6h-10.6zM1171.3,553.6h10.6v10.6h-10.6zM1306.5,749.7h10.6v10.6h-10.6zM1250.2,734.9h10.6v10.6h-10.6zM1253.9,638.7h10.6v10.6h-10.6zM1284,567.6h10.6v10.6h-10.6zM1337.6,789.1h10.6v10.6h-10.6zM943.1,661.1h10.6v10.6h-10.6zM1340.9,603.2h10.6v10.6h-10.6zM1286,627.5h10.6v10.6h-10.6zM1189,728.5h10.6v10.6h-10.6zM1282,571.6h10.6v10.6h-10.6zM885.3,590.8h10.6v10.6h-10.6zM999.1,695.8h10.6v10.6h-10.6zM1164.2,696.2h10.6v10.6h-10.6zM1336.5,601.2h10.6v10.6h-10.6zM1185,553.8h10.6v10.6h-10.6zM892,624.2h10.6v10.6h-10.6zM1332.4,776.9h10.6v10.6h-10.6zM1203.8,569h10.6v10.6h-10.6zM1188.1,708.6h10.6v10.6h-10.6zM1323.8,729.9h10.6v10.6h-10.6zM1101.9,555.3h10.6v10.6h-10.6zM1162.5,718.8h10.6v10.6h-10.6zM1254.8,718.2h10.6v10.6h-10.6zM1341,769.3h10.6v10.6h-10.6zM989,673.4h10.6v10.6h-10.6zM1253.9,665.8h10.6v10.6h-10.6zM872.7,581.3h10.6v10.6h-10.6zM1177.2,552.6h10.6v10.6h-10.6zM823.6,547.9h10.6v10.6h-10.6zM1187.8,736h10.6v10.6h-10.6zM1156.5,549.4h10.6v10.6h-10.6zM1335.6,616h10.6v10.6h-10.6zM990.1,678.9h10.6v10.6h-10.6zM1126.9,561.9h10.6v10.6h-10.6zM886.8,620.6h10.6v10.6h-10.6zM1250.9,651.8h10.6v10.6h-10.6zM816.7,527.1h10.6v10.6h-10.6zM907.8,645.9h10.6v10.6h-10.6zM1163.3,686h10.6v10.6h-10.6zM823.9,520.9h10.6v10.6h-10.6zM1325.5,746.3h10.6v10.6h-10.6zM1336.3,685h10.6v10.6h-10.6zM1204.7,742.8h10.6v10.6h-10.6zM1100.8,756.7h10.6v10.6h-10.6zM1316.8,550.5h10.6v10.6h-10.6zM1336.3,769.1h10.6v10.6h-10.6zM865.2,574.8h10.6v10.6h-10.6zM1330.4,771.3h10.6v10.6h-10.6zM1252.1,666.3h10.6v10.6h-10.6zM1172.4,549.9h10.6v10.6h-10.6zM1280.2,636.3h10.6v10.6h-10.6zM1337.9,571.1h10.6v10.6h-10.6zM1162.9,696.3h10.6v10.6h-10.6zM1334.5,784.2h10.6v10.6h-10.6zM1014.2,720.6h10.6v10.6h-10.6zM1002.2,711.4h10.6v10.6h-10.6zM1218.5,753h10.6v10.6h-10.6zM1304.8,548.3h10.6v10.6h-10.6zM943.4,539h10.6v10.6h-10.6zM1088.1,750.4h10.6v10.6h-10.6zM806.3,532.4h10.6v10.6h-10.6zM969.4,668.8h10.6v10.6h-10.6zM910.6,529.2h10.6v10.6h-10.6zM1049.5,548.2h10.6v10.6h-10.6zM854.3,520.1h10.6v10.6h-10.6zM1195.3,741.6h10.6v10.6h-10.6zM1058.7,543.8h10.6v10.6h-10.6zM1134,749.1h10.6v10.6h-10.6zM1165.2,711.1h10.6v10.6h-10.6zM909.1,642.4h10.6v10.6h-10.6zM1188.4,713.4h10.6v10.6h-10.6zM1249.4,692.1h10.6v10.6h-10.6zM1123.2,748h10.6v10.6h-10.6zM881.3,588h10.6v10.6h-10.6zM1000.3,540.2h10.6v10.6h-10.6zM1134.6,557.3h10.6v10.6h-10.6zM1042.6,545.6h10.6v10.6h-10.6zM1339.7,600.8h10.6v10.6h-10.6zM1300.8,702.8h10.6v10.6h-10.6zM1335.4,762.9h10.6v10.6h-10.6zM1303.5,750.1h10.6v10.6h-10.6zM1212.3,572.1h10.6v10.6h-10.6zM922.9,626h10.6v10.6h-10.6zM1218.6,576h10.6v10.6h-10.6zM1218,749.1h10.6v10.6h-10.6zM810.7,534.8h10.6v10.6h-10.6zM1062.7,733.3h10.6v10.6h-10.6zM1020.5,720.2h10.6v10.6h-10.6zM1300.4,544.7h10.6v10.6h-10.6zM1296.6,698.1h10.6v10.6h-10.6zM852.6,521.1h10.6v10.6h-10.6zM1254.4,723.4h10.6v10.6h-10.6zM1077.5,734.3h10.6v10.6h-10.6zM1219.9,572.6h10.6v10.6h-10.6zM1334.7,726.9h10.6v10.6h-10.6zM892.3,527.1h10.6v10.6h-10.6zM1179,688.1h10.6v10.6h-10.6zM845.7,565.1h10.6v10.6h-10.6zM855.5,519.9h10.6v10.6h-10.6zM1084.1,741.9h10.6v10.6h-10.6zM1119.2,561.5h10.6v10.6h-10.6zM843.4,524h10.6v10.6h-10.6zM1287.4,649.7h10.6v10.6h-10.6zM902.1,643.3h10.6v10.6h-10.6zM1318.5,550.2h10.6v10.6h-10.6zM1337.3,711.6h10.6v10.6h-10.6zM1307,738.7h10.6v10.6h-10.6zM1283.6,633.6h10.6v10.6h-10.6zM1252.3,658.1h10.6v10.6h-10.6zM927.2,537.5h10.6v10.6h-10.6zM1335.9,780.3h10.6v10.6h-10.6zM1252.3,594.6h10.6v10.6h-10.6zM849,568.6h10.6v10.6h-10.6zM1159.7,718.9h10.6v10.6h-10.6zM1132.2,562.9h10.6v10.6h-10.6zM1338.3,709.2h10.6v10.6h-10.6zM1112.6,553.9h10.6v10.6h-10.6zM939.1,672.7h10.6v10.6h-10.6zM1335.6,654.7h10.6v10.6h-10.6zM1281.2,622.3h10.6v10.6h-10.6zM1334.3,698.9h10.6v10.6h-10.6zM1150.7,742.9h10.6v10.6h-10.6zM1336.3,611h10.6v10.6h-10.6zM1250.9,589.1h10.6v10.6h-10.6zM1186.1,698.9h10.6v10.6h-10.6zM1252.5,719.8h10.6v10.6h-10.6zM1189.1,718.5h10.6v10.6h-10.6zM1252.6,721h10.6v10.6h-10.6zM919.7,623.3h10.6v10.6h-10.6zM1097.8,751.1h10.6v10.6h-10.6zM1290.4,544.1h10.6v10.6h-10.6zM1285.5,615.8h10.6v10.6h-10.6zM1256.6,666.8h10.6v10.6h-10.6zM1162.9,715.8h10.6v10.6h-10.6zM981,544.5h10.6v10.6h-10.6zM1199.2,745.4h10.6v10.6h-10.6zM1282.4,551.6h10.6v10.6h-10.6zM993.6,544.7h10.6v10.6h-10.6zM1238.9,577.9h10.6v10.6h-10.6zM900.2,643.7h10.6v10.6h-10.6zM1104.9,553.6h10.6v10.6h-10.6zM1328.5,750.1h10.6v10.6h-10.6zM1249,709.6h10.6v10.6h-10.6zM1154.3,747.1h10.6v10.6h-10.6zM808.9,526.4h10.6v10.6h-10.6zM912.3,641.4h10.6v10.6h-10.6zM1301.6,727.4h10.6v10.6h-10.6zM805,527.8h10.6v10.6h-10.6zM995.8,678.5h10.6v10.6h-10.6zM856.7,568.6h10.6v10.6h-10.6zM1304.9,744.7h10.6v10.6h-10.6zM1304.8,770.5h10.6v10.6h-10.6zM1219,748.4h10.6v10.6h-10.6zM1334.5,686.6h10.6v10.6h-10.6zM1287,643h10.6v10.6h-10.6zM986.3,672.2h10.6v10.6h-10.6zM1252.9,601.9h10.6v10.6h-10.6zM965.4,680.4h10.6v10.6h-10.6zM1220.1,570.4h10.6v10.6h-10.6zM965.2,544.7h10.6v10.6h-10.6zM1165.2,706.5h10.6v10.6h-10.6zM1070.7,544.4h10.6v10.6h-10.6zM811.5,538.2h10.6v10.6h-10.6zM1337.3,626.5h10.6v10.6h-10.6zM983.8,545.9h10.6v10.6h-10.6zM944.7,664.1h10.6v10.6h-10.6zM994.7,687.3h10.6v10.6h-10.6zM1253.9,598.7h10.6v10.6h-10.6zM939.6,641.1h10.6v10.6h-10.6zM1161.6,721.3h10.6v10.6h-10.6zM1185.7,700.5h10.6v10.6h-10.6zM939.9,674.1h10.6v10.6h-10.6zM907.8,646.8h10.6v10.6h-10.6zM1339.8,561.1h10.6v10.6h-10.6zM1166.7,687h10.6v10.6h-10.6zM1337,645.1h10.6v10.6h-10.6zM935.4,631.4h10.6v10.6h-10.6zM1325.3,562.4h10.6v10.6h-10.6zM893.5,522.6h10.6v10.6h-10.6zM1127.6,561.6h10.6v10.6h-10.6zM957.6,548.3h10.6v10.6h-10.6zM1000,688.5h10.6v10.6h-10.6zM1096.5,548.6h10.6v10.6h-10.6zM855.4,565.7h10.6v10.6h-10.6zM1236.3,580.5h10.6v10.6h-10.6zM1227.3,752.1h10.6v10.6h-10.6zM1339.1,560.3h10.6v10.6h-10.6zM815.9,524.1h10.6v10.6h-10.6zM843.5,564.6h10.6v10.6h-10.6zM1286.4,615.6h10.6v10.6h-10.6zM1117.4,755.4h10.6v10.6h-10.6zM1314.4,551.4h10.6v10.6h-10.6zM1326.9,750.8h10.6v10.6h-10.6zM891.8,525.8h10.6v10.6h-10.6zM1335.8,610.5h10.6v10.6h-10.6zM1207.6,567.7h10.6v10.6h-10.6zM931.6,538.4h10.6v10.6h-10.6zM1251.2,696.6h10.6v10.6h-10.6zM1074.6,542h10.6v10.6h-10.6zM1336.7,632h10.6v10.6h-10.6zM931.1,536.3h10.6v10.6h-10.6zM940.7,637.4h10.6v10.6h-10.6zM887.8,601.7h10.6v10.6h-10.6zM1254.1,615.8h10.6v10.6h-10.6zM979.1,543.8h10.6v10.6h-10.6zM786,525.3h10.6v10.6h-10.6zM1329.8,741.5h10.6v10.6h-10.6zM1338.8,783.2h10.6v10.6h-10.6zM1309.6,740.2h10.6v10.6h-10.6zM1334.5,642.7h10.6v10.6h-10.6zM1160.8,548h10.6v10.6h-10.6zM1224.8,574.1h10.6v10.6h-10.6zM1165.3,686.6h10.6v10.6h-10.6zM874.3,524.3h10.6v10.6h-10.6zM1200.9,562.6h10.6v10.6h-10.6zM1118.8,559.3h10.6v10.6h-10.6zM1188.7,729.7h10.6v10.6h-10.6zM893.2,621.1h10.6v10.6h-10.6zM1257,616.2h10.6v10.6h-10.6zM1324.2,744.3h10.6v10.6h-10.6zM787.5,525.4h10.6v10.6h-10.6zM1152.8,552.8h10.6v10.6h-10.6zM800.4,527.8h10.6v10.6h-10.6zM1005.7,711.5h10.6v10.6h-10.6zM1335.5,742.8h10.6v10.6h-10.6zM1296.3,705.9h10.6v10.6h-10.6zM1254.9,605.8h10.6v10.6h-10.6zM1327.6,752.2h10.6v10.6h-10.6zM958.2,546.8h10.6v10.6h-10.6zM1308.6,734.8h10.6v10.6h-10.6zM995.3,688.1h10.6v10.6h-10.6zM1332.3,777.6h10.6v10.6h-10.6zM1091.1,746.3h10.6v10.6h-10.6zM1088.1,547.7h10.6v10.6h-10.6zM913.9,529.7h10.6v10.6h-10.6zM941,637.7h10.6v10.6h-10.6zM838.8,557.5h10.6v10.6h-10.6zM855.5,519.5h10.6v10.6h-10.6zM804.8,534.7h10.6v10.6h-10.6zM912,639.6h10.6v10.6h-10.6zM1230.7,753.2h10.6v10.6h-10.6zM1325.1,746.3h10.6v10.6h-10.6zM1336.9,669.2h10.6v10.6h-10.6zM994.7,542.9h10.6v10.6h-10.6zM1078.1,545.2h10.6v10.6h-10.6zM1245.7,745h10.6v10.6h-10.6zM1251.2,602.4h10.6v10.6h-10.6zM995,688.1h10.6v10.6h-10.6zM1023.9,725.2h10.6v10.6h-10.6zM943.9,660.9h10.6v10.6h-10.6zM852.6,521.6h10.6v10.6h-10.6zM1090.7,549h10.6v10.6h-10.6zM821.6,522h10.6v10.6h-10.6zM1340.9,774.6h10.6v10.6h-10.6zM1239.7,751.3h10.6v10.6h-10.6zM878.7,591.4h10.6v10.6h-10.6zM1254.1,693.7h10.6v10.6h-10.6zM1336.9,630.8h10.6v10.6h-10.6zM926.3,539.9h10.6v10.6h-10.6zM1061.1,547.5h10.6v10.6h-10.6zM817.4,539.9h10.6v10.6h-10.6zM1283.3,588h10.6v10.6h-10.6zM1288.4,670h10.6v10.6h-10.6zM943.3,538.4h10.6v10.6h-10.6zM1290,684.9h10.6v10.6h-10.6zM1192.6,732.8h10.6v10.6h-10.6zM1231.2,748.7h10.6v10.6h-10.6zM882.1,520.7h10.6v10.6h-10.6zM843.5,521.9h10.6v10.6h-10.6zM913.9,636.1h10.6v10.6h-10.6zM1183.5,558.5h10.6v10.6h-10.6zM1302.1,720.3h10.6v10.6h-10.6zM1184.8,704.4h10.6v10.6h-10.6zM1307.8,750h10.6v10.6h-10.6zM1141.8,748.6h10.6v10.6h-10.6zM918.3,538.4h10.6v10.6h-10.6zM1281.9,630.5h10.6v10.6h-10.6zM1151,747.8h10.6v10.6h-10.6zM1160.3,701h10.6v10.6h-10.6zM1256.8,664h10.6v10.6h-10.6zM1254.7,709.4h10.6v10.6h-10.6zM1281.2,641.3h10.6v10.6h-10.6zM1307.9,543.9h10.6v10.6h-10.6zM1304.5,733.3h10.6v10.6h-10.6zM949.6,538.6h10.6v10.6h-10.6zM867.9,521h10.6v10.6h-10.6zM1017.6,725.1h10.6v10.6h-10.6zM1285.6,624.2h10.6v10.6h-10.6zM1133.8,557.7h10.6v10.6h-10.6zM1152.8,554.6h10.6v10.6h-10.6zM1251.3,616.3h10.6v10.6h-10.6zM1339.9,645h10.6v10.6h-10.6zM1302.4,727.4h10.6v10.6h-10.6zM1162.8,719.4h10.6v10.6h-10.6zM1302,753.3h10.6v10.6h-10.6zM822.3,521h10.6v10.6h-10.6zM1068.3,738.2h10.6v10.6h-10.6zM1013,541.7h10.6v10.6h-10.6zM889.3,615.6h10.6v10.6h-10.6zM1163.2,546h10.6v10.6h-10.6zM921,535.1h10.6v10.6h-10.6zM1007.5,715.7h10.6v10.6h-10.6zM879.8,586h10.6v10.6h-10.6zM1251.3,619.8h10.6v10.6h-10.6zM1094.4,755.2h10.6v10.6h-10.6zM1055.8,734.8h10.6v10.6h-10.6zM1336.3,725.7h10.6v10.6h-10.6zM885.7,594.5h10.6v10.6h-10.6zM1309.7,742.1h10.6v10.6h-10.6zM1159.8,739.1h10.6v10.6h-10.6zM1021.7,539.7h10.6v10.6h-10.6zM1285.4,599.4h10.6v10.6h-10.6zM1165.3,547.5h10.6v10.6h-10.6zM1334.4,671.3h10.6v10.6h-10.6zM1186.8,722.3h10.6v10.6h-10.6zM886.3,522.6h10.6v10.6h-10.6zM1337.1,746.6h10.6v10.6h-10.6zM1336.1,638h10.6v10.6h-10.6zM1330.4,756.4h10.6v10.6h-10.6zM1160.3,743.5h10.6v10.6h-10.6zM902.1,628h10.6v10.6h-10.6zM938.1,539.6h10.6v10.6h-10.6zM1184.6,698.1h10.6v10.6h-10.6zM1280,601.8h10.6v10.6h-10.6zM813.3,535.1h10.6v10.6h-10.6zM833.6,557h10.6v10.6h-10.6zM1256.6,666.5h10.6v10.6h-10.6zM1068.4,546.9h10.6v10.6h-10.6zM1336.9,630.4h10.6v10.6h-10.6zM967.9,673.5h10.6v10.6h-10.6zM1189.1,723.3h10.6v10.6h-10.6zM1294.3,691.3h10.6v10.6h-10.6zM1184,690.9h10.6v10.6h-10.6zM1165.4,699h10.6v10.6h-10.6zM1251.9,616.3h10.6v10.6h-10.6zM941.4,537.3h10.6v10.6h-10.6zM1193.6,738.7h10.6v10.6h-10.6zM838.4,525.5h10.6v10.6h-10.6zM999.2,705.2h10.6v10.6h-10.6zM1057.5,729.8h10.6v10.6h-10.6zM979.5,543.2h10.6v10.6h-10.6zM1096.7,752.2h10.6v10.6h-10.6zM1282.3,646.1h10.6v10.6h-10.6zM1306.7,731h10.6v10.6h-10.6zM1294,547.5h10.6v10.6h-10.6zM1190.1,563.8h10.6v10.6h-10.6zM1337.7,694.1h10.6v10.6h-10.6zM1131.4,745.7h10.6v10.6h-10.6zM931.4,538.7h10.6v10.6h-10.6zM1340.4,652.3h10.6v10.6h-10.6zM977.1,541.7h10.6v10.6h-10.6zM1192.3,737.3h10.6v10.6h-10.6zM1154.4,550.3h10.6v10.6h-10.6zM1325.2,737.6h10.6v10.6h-10.6zM995.7,683.6h10.6v10.6h-10.6zM940.5,665.5h10.6v10.6h-10.6zM941.8,666.9h10.6v10.6h-10.6zM1285.2,575.5h10.6v10.6h-10.6zM888.5,522.6h10.6v10.6h-10.6zM902.3,632.4h10.6v10.6h-10.6zM1340.7,559.3h10.6v10.6h-10.6zM1335.6,790.2h10.6v10.6h-10.6zM1254.1,695.8h10.6v10.6h-10.6zM985.8,541h10.6v10.6h-10.6zM1336.9,747.1h10.6v10.6h-10.6zM1180.1,687.8h10.6v10.6h-10.6zM1125.9,560h10.6v10.6h-10.6zM1286.5,619.5h10.6v10.6h-10.6zM1340.5,777.3h10.6v10.6h-10.6zM1042.5,731.4h10.6v10.6h-10.6zM1003.1,704.5h10.6v10.6h-10.6zM1335,706.3h10.6v10.6h-10.6zM1336.3,562.5h10.6v10.6h-10.6zM986.5,542.7h10.6v10.6h-10.6zM1285.1,631h10.6v10.6h-10.6zM1200.4,568.3h10.6v10.6h-10.6zM1135.1,561.5h10.6v10.6h-10.6zM1325,562.5h10.6v10.6h-10.6zM1337.3,662.3h10.6v10.6h-10.6zM1339.6,641.9h10.6v10.6h-10.6zM1189.2,563.9h10.6v10.6h-10.6zM1338,613.3h10.6v10.6h-10.6zM936.1,669.4h10.6v10.6h-10.6zM1310.2,806.2h10.6v10.6h-10.6zM1301,806.6h10.6v10.6h-10.6zM1305.4,825.3h10.6v10.6h-10.6zM1311,789.6h10.6v10.6h-10.6zM1301.9,825.4h10.6v10.6h-10.6zM1304.6,817.5h10.6v10.6h-10.6zM1303.1,787.3h10.6v10.6h-10.6zM1312.3,811.9h10.6v10.6h-10.6zM1308.5,802.5h10.6v10.6h-10.6zM1307.1,797.5h10.6v10.6h-10.6zM1306.8,788.1h10.6v10.6h-10.6zM1327,803h10.6v10.6h-10.6zM1343.6,802.1h10.6v10.6h-10.6zM1341.4,802.4h10.6v10.6h-10.6zM1345,797.6h10.6v10.6h-10.6zM1335.2,797.6h10.6v10.6h-10.6zM1328.1,804.2h10.6v10.6h-10.6zM1345.2,795h10.6v10.6h-10.6zM1338.9,802.9h10.6v10.6h-10.6zM1335.4,808.8h10.6v10.6h-10.6zM1329.4,801.6h10.6v10.6h-10.6zM1331.8,848.6h10.6v10.6h-10.6zM1330.5,816.1h10.6v10.6h-10.6zM1338,838.6h10.6v10.6h-10.6zM1330.9,845.3h10.6v10.6h-10.6zM1334.2,816.9h10.6v10.6h-10.6zM1325.2,834.2h10.6v10.6h-10.6zM1330.2,838.2h10.6v10.6h-10.6zM1327.1,810.1h10.6v10.6h-10.6zM778.6,520.9h10.6v10.6h-10.6zM773.1,519.5h10.6v10.6h-10.6zM737.9,514.3h10.6v10.6h-10.6zM754.6,520.9h10.6v10.6h-10.6zM775.2,517.4h10.6v10.6h-10.6zM786,525.1h10.6v10.6h-10.6zM773.8,522.1h10.6v10.6h-10.6zM727.4,511.4h10.6v10.6h-10.6zM766.9,515.1h10.6v10.6h-10.6zM787.2,528.5h10.6v10.6h-10.6zM744.2,516.5h10.6v10.6h-10.6zM728.5,516.6h10.6v10.6h-10.6zM773.1,518.7h10.6v10.6h-10.6zM734,515.1h10.6v10.6h-10.6zM712.5,509.9h10.6v10.6h-10.6zM742.6,517.9h10.6v10.6h-10.6zM730.7,512.3h10.6v10.6h-10.6zM782.6,519.3h10.6v10.6h-10.6zM772.8,523h10.6v10.6h-10.6zM727,508.1h10.6v10.6h-10.6zM788.2,517.9h10.6v10.6h-10.6zM771.2,518.7h10.6v10.6h-10.6zM793.4,529h10.6v10.6h-10.6zM766.6,520.4h10.6v10.6h-10.6zM733,512.2h10.6v10.6h-10.6zM730.9,509.7h10.6v10.6h-10.6zM772.6,518.8h10.6v10.6h-10.6zM781.5,523.8h10.6v10.6h-10.6zM721.3,511.9h10.6v10.6h-10.6zM741.4,518.4h10.6v10.6h-10.6zM789.2,518.9h10.6v10.6h-10.6zM765.1,521.4h10.6v10.6h-10.6zM713.3,511.9h10.6v10.6h-10.6zM754.2,515.8h10.6v10.6h-10.6zM792.2,524.6h10.6v10.6h-10.6zM711.2,506.6h10.6v10.6h-10.6zM738.3,512.2h10.6v10.6h-10.6zM759.7,522.1h10.6v10.6h-10.6zM765.5,523.9h10.6v10.6h-10.6zM741.8,519.2h10.6v10.6h-10.6zM761.2,513h10.6v10.6h-10.6zM776.3,518.5h10.6v10.6h-10.6zM782.5,520.1h10.6v10.6h-10.6zM737.7,514.3h10.6v10.6h-10.6zM778.1,522.7h10.6v10.6h-10.6zM837,506.9h10.6v10.6h-10.6zM871.9,504.9h10.6v10.6h-10.6zM867.4,506.2h10.6v10.6h-10.6zM836,578.3h10.6v10.6h-10.6zM808.4,554.9h10.6v10.6h-10.6zM786.8,536.9h10.6v10.6h-10.6zM830.5,566.5h10.6v10.6h-10.6zM786.9,538.4h10.6v10.6h-10.6zM859.9,507.7h10.6v10.6h-10.6zM790.4,498.3h10.6v10.6h-10.6zM817.8,500.6h10.6v10.6h-10.6zM784.9,547.9h10.6v10.6h-10.6zM787.4,550.5h10.6v10.6h-10.6zM812.5,563.3h10.6v10.6h-10.6zM829.8,502.2h10.6v10.6h-10.6zM971,528.3h10.6v10.6h-10.6zM980.7,524.7h10.6v10.6h-10.6zM990.8,529.1h10.6v10.6h-10.6zM972.1,534h10.6v10.6h-10.6zM936.7,523.1h10.6v10.6h-10.6zM946.5,526.4h10.6v10.6h-10.6zM1008.2,524.4h10.6v10.6h-10.6zM991.9,526.8h10.6v10.6h-10.6zM981.7,531.9h10.6v10.6h-10.6zM987,520.2h10.6v10.6h-10.6zM996.6,517.8h10.6v10.6h-10.6zM996,510.6h10.6v10.6h-10.6zM939,519.6h10.6v10.6h-10.6zM973.4,525.5h10.6v10.6h-10.6zM992.5,495h10.6v10.6h-10.6zM1004.6,492.1h10.6v10.6h-10.6zM1000.5,494.8h10.6v10.6h-10.6zM1005.6,492.6h10.6v10.6h-10.6zM1078,529.6h10.6v10.6h-10.6zM1052.7,535.6h10.6v10.6h-10.6zM1086.9,529h10.6v10.6h-10.6zM1054.7,534.6h10.6v10.6h-10.6zM1063.3,531.8h10.6v10.6h-10.6zM1092.9,533.6h10.6v10.6h-10.6zM1021.5,529.2h10.6v10.6h-10.6zM1037.8,530.6h10.6v10.6h-10.6zM1021,521.5h10.6v10.6h-10.6zM1114.7,539.6h10.6v10.6h-10.6zM1125,546h10.6v10.6h-10.6zM1192.4,545.8h10.6v10.6h-10.6zM1194.9,540.8h10.6v10.6h-10.6zM1222.3,559.8h10.6v10.6h-10.6zM1138.4,544.9h10.6v10.6h-10.6zM1138.5,539.4h10.6v10.6h-10.6zM1219,554h10.6v10.6h-10.6zM1150.5,539.1h10.6v10.6h-10.6zM1140.9,539.4h10.6v10.6h-10.6zM1230.6,558h10.6v10.6h-10.6zM1155.3,531.8h10.6v10.6h-10.6zM1164.3,532.8h10.6v10.6h-10.6zM1195.7,550.8h10.6v10.6h-10.6zM1138.6,544h10.6v10.6h-10.6zM1163.5,527.2h10.6v10.6h-10.6zM1243.4,565.2h10.6v10.6h-10.6zM1191.9,522.8h10.6v10.6h-10.6zM1251.3,536.4h10.6v10.6h-10.6zM1167.9,524.4h10.6v10.6h-10.6zM1177,512.9h10.6v10.6h-10.6zM1173.3,520.2h10.6v10.6h-10.6zM1256.9,534.6h10.6v10.6h-10.6zM1243.6,542.6h10.6v10.6h-10.6zM1210,534.7h10.6v10.6h-10.6zM1257,532.6h10.6v10.6h-10.6zM805.3,553.8h10.6v10.6h-10.6zM875.3,608.9h10.6v10.6h-10.6zM837,572.3h10.6v10.6h-10.6zM876,628.8h10.6v10.6h-10.6zM870.7,605.3h10.6v10.6h-10.6zM790,543.5h10.6v10.6h-10.6zM874.3,619.5h10.6v10.6h-10.6zM872.4,611.5h10.6v10.6h-10.6zM809.2,555.6h10.6v10.6h-10.6zM754.2,538h10.6v10.6h-10.6zM867.6,614.8h10.6v10.6h-10.6zM854,587.6h10.6v10.6h-10.6zM866.9,633.3h10.6v10.6h-10.6zM803.4,560.7h10.6v10.6h-10.6zM843.2,592.4h10.6v10.6h-10.6zM864.3,609.5h10.6v10.6h-10.6zM832.8,582h10.6v10.6h-10.6zM863.7,608.8h10.6v10.6h-10.6zM834.9,579.7h10.6v10.6h-10.6zM778.6,550.6h10.6v10.6h-10.6zM871.2,619.1h10.6v10.6h-10.6zM794.1,548.9h10.6v10.6h-10.6zM901.9,656.3h10.6v10.6h-10.6zM921.8,682.4h10.6v10.6h-10.6zM1080,754.8h10.6v10.6h-10.6zM1006.6,739.6h10.6v10.6h-10.6zM935.7,692h10.6v10.6h-10.6zM929.8,662.7h10.6v10.6h-10.6zM1113.2,768.6h10.6v10.6h-10.6zM1117.7,764.7h10.6v10.6h-10.6zM993.9,713.4h10.6v10.6h-10.6zM1175.9,732.8h10.6v10.6h-10.6zM932.9,694.9h10.6v10.6h-10.6zM978.5,686.3h10.6v10.6h-10.6zM1084.6,760.3h10.6v10.6h-10.6zM920.4,680.1h10.6v10.6h-10.6zM1031.6,743.3h10.6v10.6h-10.6zM938.5,691.1h10.6v10.6h-10.6zM1043.9,745.9h10.6v10.6h-10.6zM1032.1,742.3h10.6v10.6h-10.6zM1105.5,771.3h10.6v10.6h-10.6zM1001.6,729.5h10.6v10.6h-10.6zM1020.8,734.3h10.6v10.6h-10.6zM995,715.6h10.6v10.6h-10.6zM1023.7,739.8h10.6v10.6h-10.6zM997,718.7h10.6v10.6h-10.6zM1247.6,759.7h10.6v10.6h-10.6zM990.9,723.9h10.6v10.6h-10.6zM1190.4,754.9h10.6v10.6h-10.6zM1225.2,772.4h10.6v10.6h-10.6zM1086.3,769.3h10.6v10.6h-10.6zM1029.3,741.3h10.6v10.6h-10.6zM1220.6,761.1h10.6v10.6h-10.6zM977.4,692.6h10.6v10.6h-10.6zM915.7,663.8h10.6v10.6h-10.6zM1070.6,760.7h10.6v10.6h-10.6zM1120.6,770.6h10.6v10.6h-10.6zM1179.2,735.8h10.6v10.6h-10.6zM1150.9,762.2h10.6v10.6h-10.6zM1147.4,767.4h10.6v10.6h-10.6zM1028,736.5h10.6v10.6h-10.6zM979.7,692.7h10.6v10.6h-10.6zM1175.6,736.1h10.6v10.6h-10.6zM1102.6,764.7h10.6v10.6h-10.6zM1111.6,773.3h10.6v10.6h-10.6zM927.4,677.8h10.6v10.6h-10.6zM928.5,639.2h10.6v10.6h-10.6zM979.8,692.7h10.6v10.6h-10.6zM1207.6,757.6h10.6v10.6h-10.6zM1157.9,756.8h10.6v10.6h-10.6zM1174.7,754.5h10.6v10.6h-10.6zM1105,775.1h10.6v10.6h-10.6zM1253.8,767.5h10.6v10.6h-10.6zM940.2,689.6h10.6v10.6h-10.6zM992.1,730.5h10.6v10.6h-10.6zM909.1,665.8h10.6v10.6h-10.6zM1174.3,718.5h10.6v10.6h-10.6zM1055,750.7h10.6v10.6h-10.6zM1137.9,760.9h10.6v10.6h-10.6zM972.3,684.4h10.6v10.6h-10.6zM1214,765.4h10.6v10.6h-10.6zM1081,768.4h10.6v10.6h-10.6zM970.3,689.9h10.6v10.6h-10.6zM1212.4,758.2h10.6v10.6h-10.6zM925.1,644h10.6v10.6h-10.6zM1180.4,754.5h10.6v10.6h-10.6zM1249.3,758h10.6v10.6h-10.6zM1175.2,732h10.6v10.6h-10.6zM1119,768.5h10.6v10.6h-10.6zM1252,767.2h10.6v10.6h-10.6zM1183.5,746.6h10.6v10.6h-10.6zM1178.6,747.1h10.6v10.6h-10.6zM958.5,698.3h10.6v10.6h-10.6zM992.3,734.5h10.6v10.6h-10.6zM1123.4,764.1h10.6v10.6h-10.6zM1071.8,762h10.6v10.6h-10.6zM1044.2,742.3h10.6v10.6h-10.6zM1092.9,772h10.6v10.6h-10.6zM918.2,653.7h10.6v10.6h-10.6zM1217.1,760.9h10.6v10.6h-10.6zM911.1,659h10.6v10.6h-10.6zM1148.6,765.2h10.6v10.6h-10.6zM1197,755.8h10.6v10.6h-10.6zM1210.6,761.4h10.6v10.6h-10.6zM992.3,710.2h10.6v10.6h-10.6zM1187.5,760.6h10.6v10.6h-10.6zM1166.3,750h10.6v10.6h-10.6zM993.5,716.7h10.6v10.6h-10.6zM925.9,674.2h10.6v10.6h-10.6zM1120.6,789.4h10.6v10.6h-10.6zM1043.4,766.7h10.6v10.6h-10.6zM1197.9,782.7h10.6v10.6h-10.6zM1117.1,790h10.6v10.6h-10.6zM1047.8,754.4h10.6v10.6h-10.6zM1109,784.8h10.6v10.6h-10.6zM1040.5,757.4h10.6v10.6h-10.6zM1216.9,787h10.6v10.6h-10.6zM914.5,692.5h10.6v10.6h-10.6zM1003.1,744.5h10.6v10.6h-10.6zM1226.5,772.8h10.6v10.6h-10.6zM1201.6,778.3h10.6v10.6h-10.6zM918.5,680.5h10.6v10.6h-10.6zM1008.4,757h10.6v10.6h-10.6zM919.9,689.5h10.6v10.6h-10.6zM1197.2,774.6h10.6v10.6h-10.6zM1009.2,752.8h10.6v10.6h-10.6zM1218.4,783.9h10.6v10.6h-10.6zM1042.9,762h10.6v10.6h-10.6zM1103.8,793.1h10.6v10.6h-10.6zM1101.1,793.3h10.6v10.6h-10.6zM1015,760.4h10.6v10.6h-10.6zM973,735.2h10.6v10.6h-10.6zM913.2,668.3h10.6v10.6h-10.6zM941.6,705.6h10.6v10.6h-10.6zM1219.1,788.3h10.6v10.6h-10.6zM1100.6,790.6h10.6v10.6h-10.6zM941.9,715.4h10.6v10.6h-10.6zM1056.1,767.3h10.6v10.6h-10.6zM1017.9,746.7h10.6v10.6h-10.6zM986.7,750.4h10.6v10.6h-10.6zM967.2,709.7h10.6v10.6h-10.6zM934.3,714h10.6v10.6h-10.6zM941.8,701.2h10.6v10.6h-10.6zM1028.1,755.2h10.6v10.6h-10.6zM1037.5,762.1h10.6v10.6h-10.6zM1223.3,779.6h10.6v10.6h-10.6zM1129.1,789h10.6v10.6h-10.6zM979,741.1h10.6v10.6h-10.6zM1216.7,774.9h10.6v10.6h-10.6zM1102.3,777.6h10.6v10.6h-10.6zM914.6,690.8h10.6v10.6h-10.6zM926.9,699.3h10.6v10.6h-10.6zM1061.7,762.2h10.6v10.6h-10.6zM1007.8,744.1h10.6v10.6h-10.6zM909.5,679.7h10.6v10.6h-10.6zM1102.6,786h10.6v10.6h-10.6zM1224.1,779h10.6v10.6h-10.6zM981.3,722.3h10.6v10.6h-10.6zM924.7,693.6h10.6v10.6h-10.6zM903.7,685.6h10.6v10.6h-10.6zM1049,753.9h10.6v10.6h-10.6zM1152.4,782.5h10.6v10.6h-10.6zM966.2,713.2h10.6v10.6h-10.6zM1227.4,777.1h10.6v10.6h-10.6zM983.3,723.6h10.6v10.6h-10.6zM1096.5,785.5h10.6v10.6h-10.6zM965.2,711.9h10.6v10.6h-10.6zM1142.5,777.5h10.6v10.6h-10.6zM972,733.3h10.6v10.6h-10.6zM905.8,670.4h10.6v10.6h-10.6zM1063.9,759.9h10.6v10.6h-10.6zM1225.8,779.5h10.6v10.6h-10.6zM1151.6,771.1h10.6v10.6h-10.6zM992.1,746.6h10.6v10.6h-10.6zM923,719.8h10.6v10.6h-10.6zM902.9,711.8h10.6v10.6h-10.6zM1248.4,802.7h10.6v10.6h-10.6zM1255.7,793.8h10.6v10.6h-10.6zM1146.1,805.4h10.6v10.6h-10.6zM1109.5,813.6h10.6v10.6h-10.6zM964.6,746.4h10.6v10.6h-10.6zM974.4,750.9h10.6v10.6h-10.6zM962.9,745.2h10.6v10.6h-10.6zM1164.1,798.4h10.6v10.6h-10.6zM1243.8,791.5h10.6v10.6h-10.6zM1216,797h10.6v10.6h-10.6zM1020.5,767.9h10.6v10.6h-10.6zM907.6,697.8h10.6v10.6h-10.6zM1295.8,775.2h10.6v10.6h-10.6zM1308.8,790.1h10.6v10.6h-10.6zM1314.6,776.5h10.6v10.6h-10.6zM1294.1,775.5h10.6v10.6h-10.6zM1343.6,798.1h10.6v10.6h-10.6zM1296.3,773h10.6v10.6h-10.6zM1317.5,786.9h10.6v10.6h-10.6zM1316.3,790.2h10.6v10.6h-10.6zM1319.2,778.5h10.6v10.6h-10.6zM1316.5,772.2h10.6v10.6h-10.6zM1342.8,801.3h10.6v10.6h-10.6zM1314.6,778.1h10.6v10.6h-10.6zM1345.3,797.3h10.6v10.6h-10.6zM1294.9,756.9h10.6v10.6h-10.6zM1290.2,718.4h10.6v10.6h-10.6zM1291,737.8h10.6v10.6h-10.6zM1279.8,684.4h10.6v10.6h-10.6zM1286.6,696.7h10.6v10.6h-10.6zM1291.2,791.3h10.6v10.6h-10.6zM1288.2,760.4h10.6v10.6h-10.6zM1290.5,724.7h10.6v10.6h-10.6zM1284.7,712.4h10.6v10.6h-10.6zM1289.7,780.8h10.6v10.6h-10.6zM1291.2,754.5h10.6v10.6h-10.6zM1286.2,727.8h10.6v10.6h-10.6zM1289.1,773.2h10.6v10.6h-10.6zM1115.4,802.1h10.6v10.6h-10.6zM1096,765.7h10.6v10.6h-10.6zM1119.9,776.4h10.6v10.6h-10.6zM1104.6,765.6h10.6v10.6h-10.6zM1120.6,778.5h10.6v10.6h-10.6zM1116.4,775.1h10.6v10.6h-10.6zM1098.1,789.3h10.6v10.6h-10.6zM1103.1,800.8h10.6v10.6h-10.6zM1100.7,807.9h10.6v10.6h-10.6zM1115.7,771.4h10.6v10.6h-10.6zM1101.1,807.1h10.6v10.6h-10.6zM1203.3,785.3h10.6v10.6h-10.6zM1200.4,839.9h10.6v10.6h-10.6zM1218.8,762.4h10.6v10.6h-10.6zM1201.1,833.8h10.6v10.6h-10.6zM1211.4,799.6h10.6v10.6h-10.6zM1213.1,805.2h10.6v10.6h-10.6zM1206.5,775.5h10.6v10.6h-10.6zM1208.1,781.6h10.6v10.6h-10.6zM1201,825.9h10.6v10.6h-10.6zM1200.6,788.3h10.6v10.6h-10.6zM1206.2,827.2h10.6v10.6h-10.6zM1216.1,773.8h10.6v10.6h-10.6zM1198.9,768.7h10.6v10.6h-10.6zM1246,763.8h10.6v10.6h-10.6zM1236.4,816.5h10.6v10.6h-10.6zM1246.7,813.9h10.6v10.6h-10.6zM1240.8,761.5h10.6v10.6h-10.6zM1242.3,795.5h10.6v10.6h-10.6zM1235.8,816.5h10.6v10.6h-10.6zM1243.9,770.1h10.6v10.6h-10.6zM1247.4,801.9h10.6v10.6h-10.6zM1242.3,794.5h10.6v10.6h-10.6zM1233.1,788.5h10.6v10.6h-10.6zM1242.9,804.8h10.6v10.6h-10.6zM1251.5,789.8h10.6v10.6h-10.6zM1247.7,782.2h10.6v10.6h-10.6zM858.3,482.7h10.6v10.6h-10.6zM871,492.7h10.6v10.6h-10.6zM894.7,489.2h10.6v10.6h-10.6zM908.2,489.2h10.6v10.6h-10.6zM891,497.4h10.6v10.6h-10.6zM908.2,499.2h10.6v10.6h-10.6zM918.2,495.6h10.6v10.6h-10.6zM927.3,500.1h10.6v10.6h-10.6zM871,504.7h10.6v10.6h-10.6zM887.4,509.2h10.6v10.6h-10.6zM907.3,511.7h10.6v10.6h-10.6zM929.1,513.7h10.6v10.6h-10.6zM956.3,502.7h10.6v10.6h-10.6zM967.2,504.7h10.6v10.6h-10.6zM963.7,511.7h10.6v10.6h-10.6zM970.7,511.7h10.6v10.6h-10.6zM941.7,513.7h10.6v10.6h-10.6zM939.7,522.7h10.6v10.6h-10.6zM992.7,504.7h10.6v10.6h-10.6zM1003.5,504.7h10.6v10.6h-10.6zM996.3,519.1h10.6v10.6h-10.6zM1007.2,526.4h10.6v10.6h-10.6zM1027.1,520.7h10.6v10.6h-10.6zM1085.2,531.7h10.6v10.6h-10.6zM369.2,590h10.6v10.6h-10.6zM462.8,497.7h10.6v10.6h-10.6zM463.1,498.7h10.6v10.6h-10.6zM599.1,561.1h10.6v10.6h-10.6zM575.9,489h10.6v10.6h-10.6zM595,493.9h10.6v10.6h-10.6zM592,516.5h10.6v10.6h-10.6zM624.1,509h10.6v10.6h-10.6zM639.7,510.5h10.6v10.6h-10.6zM640.8,530.5h10.6v10.6h-10.6zM533.9,547.7h10.6v10.6h-10.6zM589,554.7h10.6v10.6h-10.6zM640.8,510.3h10.6v10.6h-10.6zM649.6,515.9h10.6v10.6h-10.6zM657.4,510.6h10.6v10.6h-10.6zM641.7,530.7h10.6v10.6h-10.6zM680.1,526h10.6v10.6h-10.6zM699.4,526.7h10.6v10.6h-10.6zM703.7,533.3h10.6v10.6h-10.6zM709,519.4h10.6v10.6h-10.6zM712.5,508.9h10.6v10.6h-10.6zM720,497.5h10.6v10.6h-10.6zM734,490.2h10.6v10.6h-10.6zM747.1,482.7h10.6v10.6h-10.6zM763.1,486.2h10.6v10.6h-10.6zM786.7,498h10.6v10.6h-10.6zM798.1,487.9h10.6v10.6h-10.6zM670.5,551.7h10.6v10.6h-10.6zM675.8,545.6h10.6v10.6h-10.6zM686.2,549.1h10.6v10.6h-10.6zM688.9,555.2h10.6v10.6h-10.6zM702.8,558.1h10.6v10.6h-10.6zM720,553.1h10.6v10.6h-10.6zM725.6,514.1h10.6v10.6h-10.6zM727.7,517.7h10.6v10.6h-10.6zM739.5,508.9h10.6v10.6h-10.6zM739.5,522.8h10.6v10.6h-10.6zM741.3,534.2h10.6v10.6h-10.6zM755.3,535.1h10.6v10.6h-10.6zM744.8,549.9h10.6v10.6h-10.6zM750.9,549.1h10.6v10.6h-10.6zM746,560.4h10.6v10.6h-10.6zM760.5,557.8h10.6v10.6h-10.6zM771,552.6h10.6v10.6h-10.6zM770.1,566.5h10.6v10.6h-10.6zM793.7,575.3h10.6v10.6h-10.6zM812.1,580.5h10.6v10.6h-10.6zM825.2,574.9h10.6v10.6h-10.6zM823.9,601.1h10.6v10.6h-10.6zM838.3,605h10.6v10.6h-10.6zM844.4,600.1h10.6v10.6h-10.6zM849.3,627.7h10.6v10.6h-10.6zM873.8,615h10.6v10.6h-10.6zM862.7,588.4h10.6v10.6h-10.6zM824.3,497.5h10.6v10.6h-10.6zM836.5,486.2h10.6v10.6h-10.6zM856.3,482.7h10.6v10.6h-10.6zM856.3,493.1h10.6v10.6h-10.6zM842.6,498.4h10.6v10.6h-10.6zM842.6,505.4h10.6v10.6h-10.6zM870.6,492.3h10.6v10.6h-10.6zM870.6,505.4h10.6v10.6h-10.6zM891.6,495.8h10.6v10.6h-10.6zM816.4,515h10.6v10.6h-10.6zM806.8,518.5h10.6v10.6h-10.6zM788.5,514.1h10.6v10.6h-10.6zM797.2,557.8h10.6v10.6h-10.6zM799.7,560.7h10.6v10.6h-10.6zM809.4,561.3h10.6v10.6h-10.6zM812.1,581.3h10.6v10.6h-10.6zM825.1,576.4h10.6v10.6h-10.6zM838.2,604.6h10.6v10.6h-10.6zM844.3,600.3h10.6v10.6h-10.6zM849.1,628.1h10.6v10.6h-10.6zM840.3,670.9h10.6v10.6h-10.6zM864.3,588.6h10.6v10.6h-10.6zM866.7,591.7h10.6v10.6h-10.6zM883.4,641.3h10.6v10.6h-10.6zM909.5,665.1h10.6v10.6h-10.6zM916.4,666h10.6v10.6h-10.6zM906,686h10.6v10.6h-10.6zM916.4,684.3h10.6v10.6h-10.6zM903.4,696.4h10.6v10.6h-10.6zM917.3,696.4h10.6v10.6h-10.6zM918.2,713h10.6v10.6h-10.6zM933,699.9h10.6v10.6h-10.6zM975.6,689.5h10.6v10.6h-10.6zM977.3,707.7h10.6v10.6h-10.6zM966.9,699.9h10.6v10.6h-10.6zM951.2,709.5h10.6v10.6h-10.6zM966,719h10.6v10.6h-10.6zM950.4,724.3h10.6v10.6h-10.6zM959.9,724.3h10.6v10.6h-10.6zM978.2,732.1h10.6v10.6h-10.6zM957.8,746.9h10.6v10.6h-10.6zM989.5,748.6h10.6v10.6h-10.6zM993,734.7h10.6v10.6h-10.6zM919,786.9h10.6v10.6h-10.6zM973.8,787.7h10.6v10.6h-10.6zM994.7,779.9h10.6v10.6h-10.6zM876,873.1h10.6v10.6h-10.6zM902.1,876.9h10.6v10.6h-10.6zM919.1,787.1h10.6v10.6h-10.6zM929.8,848.1h10.6v10.6h-10.6zM959.9,883.1h10.6v10.6h-10.6zM958.1,747.3h10.6v10.6h-10.6zM973.7,788.2h10.6v10.6h-10.6zM996.2,779.6h10.6v10.6h-10.6zM1008.3,783.6h10.6v10.6h-10.6zM1005.1,790.3h10.6v10.6h-10.6zM1019.4,785.7h10.6v10.6h-10.6zM1034.7,778.2h10.6v10.6h-10.6zM1044.1,778.2h10.6v10.6h-10.6zM1062.1,776.9h10.6v10.6h-10.6zM1079.9,781.7h10.6v10.6h-10.6zM1042.8,815.1h10.6v10.6h-10.6zM1009.1,836h10.6v10.6h-10.6zM1022.1,844.1h10.6v10.6h-10.6zM1042.8,864.3h10.6v10.6h-10.6zM1079.1,857.5h10.6v10.6h-10.6zM1108.1,852.7h10.6v10.6h-10.6zM1128.8,852.7h10.6v10.6h-10.6zM1114,871h10.6v10.6h-10.6zM1131.5,881.2h10.6v10.6h-10.6zM1128.8,901.9h10.6v10.6h-10.6zM1084.4,916.7h10.6v10.6h-10.6zM1084.4,919.7h10.6v10.6h-10.6zM1107.3,940.7h10.6v10.6h-10.6zM1107.3,945.7h10.6v10.6h-10.6zM1130.1,948.7h10.6v10.6h-10.6zM1130.1,953.7h10.6v10.6h-10.6zM1054.9,965.6h10.6v10.6h-10.6zM1111.3,833.3h10.6v10.6h-10.6zM1114.2,832.7h10.6v10.6h-10.6zM1095.2,806.5h10.6v10.6h-10.6zM1095.2,800.7h10.6v10.6h-10.6zM1111.3,799.7h10.6v10.6h-10.6zM1118,805.1h10.6v10.6h-10.6zM875.2,872.8h10.6v10.6h-10.6zM1129.1,853.4h10.6v10.6h-10.6zM1115.7,832.8h10.6v10.6h-10.6zM1115.7,870.9h10.6v10.6h-10.6zM1131.8,879.2h10.6v10.6h-10.6zM1131.8,882.2h10.6v10.6h-10.6zM1129.1,902.3h10.6v10.6h-10.6zM1150.1,923.7h10.6v10.6h-10.6zM1150.1,926.2h10.6v10.6h-10.6zM1131.1,945.7h10.6v10.6h-10.6zM1131.1,950h10.6v10.6h-10.6zM1131.1,953.7h10.6v10.6h-10.6zM1143.1,965h10.6v10.6h-10.6zM1145.1,816h10.6v10.6h-10.6zM1151.3,804h10.6v10.6h-10.6zM1163.4,798.9h10.6v10.6h-10.6zM1171.9,862h10.6v10.6h-10.6zM1157.9,875h10.6v10.6h-10.6zM1194.9,855h10.6v10.6h-10.6zM1205.8,864.7h10.6v10.6h-10.6zM1191.8,898.6h10.6v10.6h-10.6zM1206.8,923.7h10.6v10.6h-10.6zM1206.8,926.2h10.6v10.6h-10.6zM1218.9,880.1h10.6v10.6h-10.6zM1218.9,848.9h10.6v10.6h-10.6zM1201,828.7h10.6v10.6h-10.6zM1201,814.9h10.6v10.6h-10.6zM1205.2,803h10.6v10.6h-10.6zM1218.1,801h10.6v10.6h-10.6zM1219.1,823.6h10.6v10.6h-10.6zM1220.6,834.9h10.6v10.6h-10.6zM1237,806.1h10.6v10.6h-10.6zM1232.9,816.4h10.6v10.6h-10.6zM1249.4,826.7h10.6v10.6h-10.6zM1244.2,835.9h10.6v10.6h-10.6zM1241.7,832.7h10.6v10.6h-10.6zM1280.2,789.6h10.6v10.6h-10.6zM1305.3,828.7h10.6v10.6h-10.6zM1306.9,857.9h10.6v10.6h-10.6zM1305.9,813.3h10.6v10.6h-10.6zM1303.7,816.7h10.6v10.6h-10.6zM1307.7,809.7h10.6v10.6h-10.6zM1326.5,820.1h10.6v10.6h-10.6zM1338.4,816.4h10.6v10.6h-10.6zM1338.4,826.7h10.6v10.6h-10.6zM1338.4,834.9h10.6v10.6h-10.6zM1326,841h10.6v10.6h-10.6zM1326,847.7h10.6v10.6h-10.6zM1326,851.3h10.6v10.6h-10.6zM1338.4,876h10.6v10.6h-10.6zM1326,882.2h10.6v10.6h-10.6zM1321.9,890.4h10.6v10.6h-10.6zM1323.4,898.6h10.6v10.6h-10.6zM1333,923.3h10.6v10.6h-10.6zM1338.4,991.3h10.6v10.6h-10.6zM1338.4,993.2h10.6v10.6h-10.6zM1338.4,995h10.6v10.6h-10.6zM1166.4,460.7h10.6v10.6h-10.6zM1179.1,482.7h10.6v10.6h-10.6zM1195,481.1h10.6v10.6h-10.6zM1213.1,472.8h10.6v10.6h-10.6zM1230.1,476.5h10.6v10.6h-10.6zM1260.3,453.9h10.6v10.6h-10.6zM1269.1,467.9h10.6v10.6h-10.6zM1252.1,489.9h10.6v10.6h-10.6zM1254.1,494h10.6v10.6h-10.6zM1236.1,498.1h10.6v10.6h-10.6zM1257.2,509h10.6v10.6h-10.6zM1218.2,509.8h10.6v10.6h-10.6zM1180.2,500.8h10.6v10.6h-10.6zM1166.4,505.7h10.6v10.6h-10.6zM1133.9,516.6h10.6v10.6h-10.6zM1140.1,525.8h10.6v10.6h-10.6zM1169.9,518.6h10.6v10.6h-10.6zM1155.5,528.9h10.6v10.6h-10.6zM1204.8,524.8h10.6v10.6h-10.6zM1222.3,523.8h10.6v10.6h-10.6zM1231.5,515.6h10.6v10.6h-10.6zM1239.8,516.2h10.6v10.6h-10.6zM1254.1,524.8h10.6v10.6h-10.6zM1254.1,543.3h10.6v10.6h-10.6zM1302.4,489.9h10.6v10.6h-10.6zM1316.8,493h10.6v10.6h-10.6zM1316.8,498.1h10.6v10.6h-10.6zM1301.4,533h10.6v10.6h-10.6zM1314.7,522.7h10.6v10.6h-10.6zM1321.9,523.8h10.6v10.6h-10.6zM1310.7,521.7h10.6v10.6h-10.6zM1306.7,525.7h10.6v10.6h-10.6zM948.7,497.7h10.6v10.6h-10.6zM955.7,499.7h10.6v10.6h-10.6zM962.7,503.7h10.6v10.6h-10.6zM969.7,508.7h10.6v10.6h-10.6zM991.7,499.7h10.6v10.6h-10.6zM997.7,499.7h10.6v10.6h-10.6zM1008.7,498.7h10.6v10.6h-10.6zM1025.2,508.9h10.6v10.6h-10.6zM1045.7,520.2h10.6v10.6h-10.6zM1073.1,519.1h10.6v10.6h-10.6zM1096.1,528.4h10.6v10.6h-10.6zM1109.5,543.8h10.6v10.6h-10.6z" fill="none" stroke="#2ca02c" stroke-width="2.5"/>
</g>
<path d="M483,1016v-20M483,59v20M931,1016v-20M931,59v20M1379,1016v-20M1379,59v20M348,1016v-12M348,59v12M384,1016v-12M384,59v12M414,1016v-12M414,59v12M440,1016v-12M440,59v12M463,1016v-12M463,59v12M618,1016v-12M618,59v12M697,1016v-12M697,59v12M753,1016v-12M753,59v12M796,1016v-12M796,59v12M832,1016v-12M832,59v12M862,1016v-12M862,59v12M888,1016v-12M888,59v12M911,1016v-12M911,59v12M1066,1016v-12M1066,59v12M1145,1016v-12M1145,59v12M1201,1016v-12M1201,59v12M1244,1016v-12M1244,59v12M1280,1016v-12M1280,59v12M1310,1016v-12M1310,59v12M1336,1016v-12M1336,59v12M1359,1016v-12M1359,59v12M326,1010h20M1395,1010h-20M326,846h20M1395,846h-20M326,682h20M1395,682h-20M326,519h20M1395,519h-20M326,355h20M1395,355h-20M326,191h20M1395,191h-20M326,961h12M1395,961h-12M326,932h12M1395,932h-12M326,912h12M1395,912h-12M326,896h12M1395,896h-12M326,883h12M1395,883h-12M326,872h12M1395,872h-12M326,863h12M1395,863h-12M326,854h12M1395,854h-12M326,797h12M1395,797h-12M326,769h12M1395,769h-12M326,748h12M1395,748h-12M326,732h12M1395,732h-12M326,719h12M1395,719h-12M326,708h12M1395,708h-12M326,699h12M1395,699h-12M326,690h12M1395,690h-12M326,634h12M1395,634h-12M326,605h12M1395,605h-12M326,584h12M1395,584h-12M326,568h12M1395,568h-12M326,555h12M1395,555h-12M326,544h12M1395,544h-12M326,535h12M1395,535h-12M326,527h12M1395,527h-12M326,470h12M1395,470h-12M326,441h12M1395,441h-12M326,420h12M1395,420h-12M326,405h12M1395,405h-12M326,392h12M1395,392h-12M326,381h12M1395,381h-12M326,371h12M1395,371h-12M326,363h12M1395,363h-12M326,306h12M1395,306h-12M326,277h12M1395,277h-12M326,257h12M1395,257h-12M326,241h12M1395,241h-12M326,228h12M1395,228h-12M326,217h12M1395,217h-12M326,207h12M1395,207h-12M326,199h12M1395,199h-12M326,142h12M1395,142h-12M326,113h12M1395,113h-12M326,93h12M1395,93h-12M326,77h12M1395,77h-12M326,64h12M1395,64h-12" stroke="#000" stroke-width="4" fill="none"/>
<rect x="326" y="59" width="1069" height="957" fill="none" stroke="#000" stroke-width="4"/>
<text class="t" x="434.5" y="1090.3">10</text><text class="s" x="508.7" y="1068.2">1</text>
<text class="t" x="882.5" y="1090.3">10</text><text class="s" x="956.7" y="1068.2">2</text>
<text class="t" x="1330.5" y="1090.3">10</text><text class="s" x="1404.7" y="1068.2">3</text>
<text class="t" x="164.2" y="1032.3">10</text><text class="s" x="239.2" y="1010.3">−5</text>
<text class="t" x="164.2" y="868.5">10</text><text class="s" x="239.2" y="846.5">−4</text>
<text class="t" x="164.2" y="704.7">10</text><text class="s" x="239.2" y="682.7">−3</text>
<text class="t" x="164.2" y="540.9">10</text><text class="s" x="239.2" y="518.9">−2</text>
<text class="t" x="164.2" y="377.1">10</text><text class="s" x="239.2" y="355.1">−1</text>
<text class="t" x="197.4" y="213.3">10</text><text class="s" x="271.6" y="191.3">0</text>
<text class="t" x="601.8" y="1190.5">Frequency (cm</text><text class="s" x="1039" y="1169">−1</text><text class="t" x="1101.3" y="1190.5">)</text>
<g transform="translate(112.3,861) rotate(-90)"><text class="t" x="0" y="0">Scattering Rate (ps</text><text class="s" x="563.3" y="-22.3">−1</text><text class="t" x="624.7" y="0">)</text></g>
<rect x="351.2" y="84.1" width="387" height="213.7" fill="#fff" fill-opacity="0.8" stroke="#888" stroke-width="2"/>
<circle cx="396.5" cy="125.7" r="5.4" fill="none" stroke="#1f77b4" stroke-width="2.5"/>
<path d="M396.5,183.6l5.1,10.2h-10.2z" fill="none" stroke="#ff7f0e" stroke-width="2.5"/>
<rect x="391.3" y="246.4" width="10.4" height="10.4" fill="none" stroke="#2ca02c" stroke-width="2.5"/>
<text class="l" x="440.6" y="142.3">3ph(300K)</text><text class="l" x="440.6" y="205.9">isotope</text><text class="l" x="440.6" y="269.4">L=1000nm</text>
</svg></body></html>
